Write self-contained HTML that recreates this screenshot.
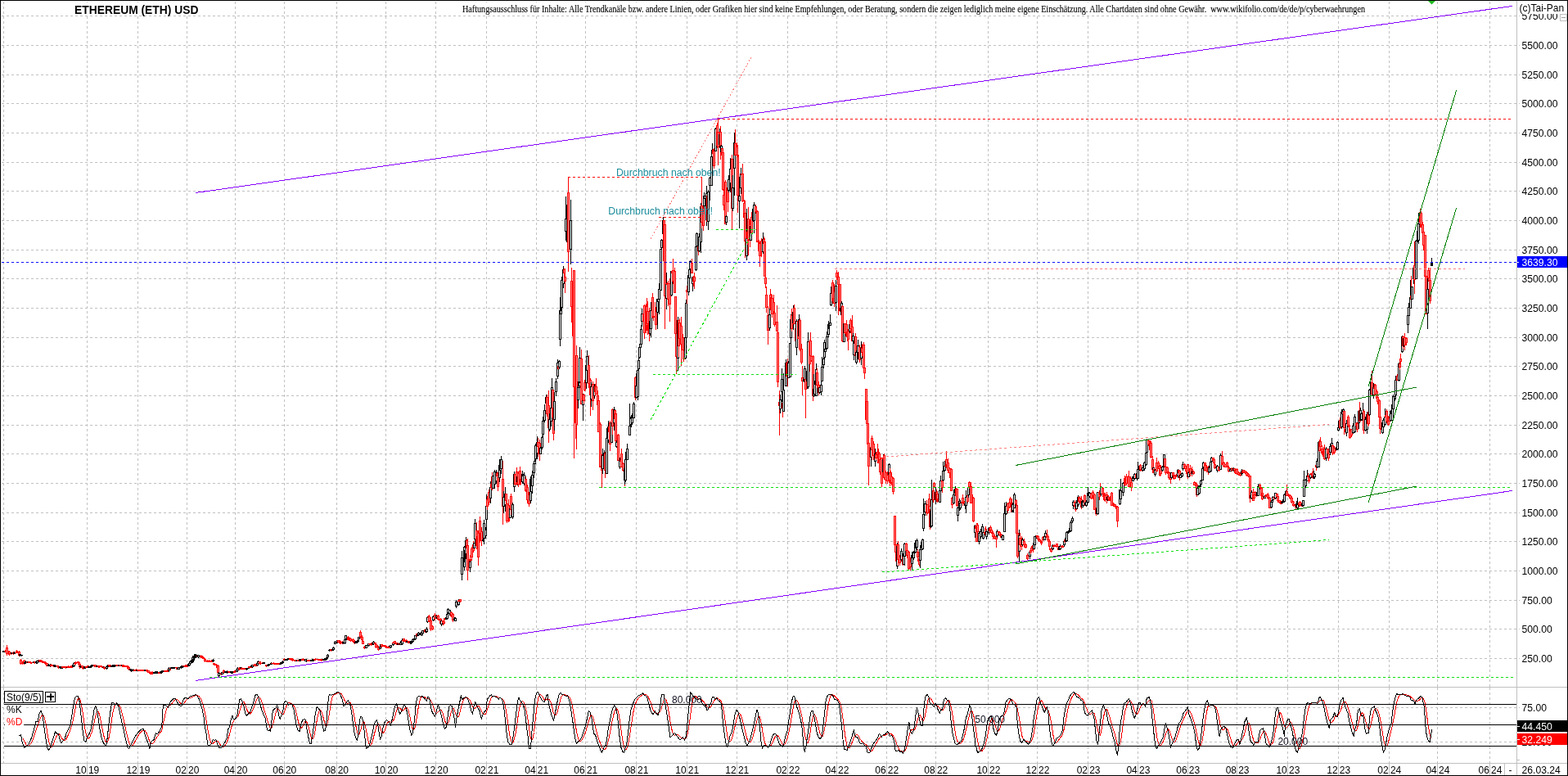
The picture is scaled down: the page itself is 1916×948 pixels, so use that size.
<!DOCTYPE html>
<html lang="de"><head><meta charset="utf-8"><title>ETHEREUM (ETH) USD</title>
<style>html,body{margin:0;padding:0;background:#fff;overflow:hidden}body{width:1916px;height:948px;position:relative}</style>
</head><body>
<svg width="1916" height="948" viewBox="0 0 1916 948" style="position:absolute;left:0;top:0;display:block" font-family="'Liberation Sans', sans-serif" font-size="12px">
<rect x="0" y="0" width="1916" height="948" fill="#fff"/>
<g shape-rendering="crispEdges" stroke="#c0c0c0" stroke-width="1" stroke-dasharray="3 3" fill="none">
<line x1="2" y1="19.5" x2="1857" y2="19.5"/>
<line x1="2" y1="55.5" x2="1857" y2="55.5"/>
<line x1="2" y1="91.5" x2="1857" y2="91.5"/>
<line x1="2" y1="126.5" x2="1857" y2="126.5"/>
<line x1="2" y1="162.5" x2="1857" y2="162.5"/>
<line x1="2" y1="198.5" x2="1857" y2="198.5"/>
<line x1="2" y1="233.5" x2="1857" y2="233.5"/>
<line x1="2" y1="269.5" x2="1857" y2="269.5"/>
<line x1="2" y1="305.5" x2="1857" y2="305.5"/>
<line x1="2" y1="340.5" x2="1857" y2="340.5"/>
<line x1="2" y1="376.5" x2="1857" y2="376.5"/>
<line x1="2" y1="412.5" x2="1857" y2="412.5"/>
<line x1="2" y1="447.5" x2="1857" y2="447.5"/>
<line x1="2" y1="483.5" x2="1857" y2="483.5"/>
<line x1="2" y1="519.5" x2="1857" y2="519.5"/>
<line x1="2" y1="554.5" x2="1857" y2="554.5"/>
<line x1="2" y1="590.5" x2="1857" y2="590.5"/>
<line x1="2" y1="626.5" x2="1857" y2="626.5"/>
<line x1="2" y1="661.5" x2="1857" y2="661.5"/>
<line x1="2" y1="697.5" x2="1857" y2="697.5"/>
<line x1="2" y1="733.5" x2="1857" y2="733.5"/>
<line x1="2" y1="768.5" x2="1857" y2="768.5"/>
<line x1="2" y1="804.5" x2="1857" y2="804.5"/>
<line x1="2" y1="864.5" x2="1857" y2="864.5"/>
<line x1="2" y1="906.5" x2="1857" y2="906.5"/>
<line x1="4.5" y1="2" x2="4.5" y2="839"/>
<line x1="4.5" y1="840" x2="4.5" y2="932"/>
<line x1="106.5" y1="2" x2="106.5" y2="839"/>
<line x1="106.5" y1="840" x2="106.5" y2="932"/>
<line x1="168.5" y1="2" x2="168.5" y2="839"/>
<line x1="168.5" y1="840" x2="168.5" y2="932"/>
<line x1="228.5" y1="2" x2="228.5" y2="839"/>
<line x1="228.5" y1="840" x2="228.5" y2="932"/>
<line x1="287.5" y1="2" x2="287.5" y2="839"/>
<line x1="287.5" y1="840" x2="287.5" y2="932"/>
<line x1="347.5" y1="2" x2="347.5" y2="839"/>
<line x1="347.5" y1="840" x2="347.5" y2="932"/>
<line x1="411.5" y1="2" x2="411.5" y2="839"/>
<line x1="411.5" y1="840" x2="411.5" y2="932"/>
<line x1="471.5" y1="2" x2="471.5" y2="839"/>
<line x1="471.5" y1="840" x2="471.5" y2="932"/>
<line x1="532.5" y1="2" x2="532.5" y2="839"/>
<line x1="532.5" y1="840" x2="532.5" y2="932"/>
<line x1="594.5" y1="2" x2="594.5" y2="839"/>
<line x1="594.5" y1="840" x2="594.5" y2="932"/>
<line x1="655.5" y1="2" x2="655.5" y2="839"/>
<line x1="655.5" y1="840" x2="655.5" y2="932"/>
<line x1="715.5" y1="2" x2="715.5" y2="839"/>
<line x1="715.5" y1="840" x2="715.5" y2="932"/>
<line x1="777.5" y1="2" x2="777.5" y2="839"/>
<line x1="777.5" y1="840" x2="777.5" y2="932"/>
<line x1="839.5" y1="2" x2="839.5" y2="839"/>
<line x1="839.5" y1="840" x2="839.5" y2="932"/>
<line x1="900.5" y1="2" x2="900.5" y2="839"/>
<line x1="900.5" y1="840" x2="900.5" y2="932"/>
<line x1="962.5" y1="2" x2="962.5" y2="839"/>
<line x1="962.5" y1="840" x2="962.5" y2="932"/>
<line x1="1022.5" y1="2" x2="1022.5" y2="839"/>
<line x1="1022.5" y1="840" x2="1022.5" y2="932"/>
<line x1="1083.5" y1="2" x2="1083.5" y2="839"/>
<line x1="1083.5" y1="840" x2="1083.5" y2="932"/>
<line x1="1143.5" y1="2" x2="1143.5" y2="839"/>
<line x1="1143.5" y1="840" x2="1143.5" y2="932"/>
<line x1="1207.5" y1="2" x2="1207.5" y2="839"/>
<line x1="1207.5" y1="840" x2="1207.5" y2="932"/>
<line x1="1267.5" y1="2" x2="1267.5" y2="839"/>
<line x1="1267.5" y1="840" x2="1267.5" y2="932"/>
<line x1="1329.5" y1="2" x2="1329.5" y2="839"/>
<line x1="1329.5" y1="840" x2="1329.5" y2="932"/>
<line x1="1390.5" y1="2" x2="1390.5" y2="839"/>
<line x1="1390.5" y1="840" x2="1390.5" y2="932"/>
<line x1="1451.5" y1="2" x2="1451.5" y2="839"/>
<line x1="1451.5" y1="840" x2="1451.5" y2="932"/>
<line x1="1511.5" y1="2" x2="1511.5" y2="839"/>
<line x1="1511.5" y1="840" x2="1511.5" y2="932"/>
<line x1="1573.5" y1="2" x2="1573.5" y2="839"/>
<line x1="1573.5" y1="840" x2="1573.5" y2="932"/>
<line x1="1635.5" y1="2" x2="1635.5" y2="839"/>
<line x1="1635.5" y1="840" x2="1635.5" y2="932"/>
<line x1="1697.5" y1="2" x2="1697.5" y2="839"/>
<line x1="1697.5" y1="840" x2="1697.5" y2="932"/>
<line x1="1756.5" y1="2" x2="1756.5" y2="839"/>
<line x1="1756.5" y1="840" x2="1756.5" y2="932"/>
<line x1="1820.5" y1="2" x2="1820.5" y2="839"/>
<line x1="1820.5" y1="840" x2="1820.5" y2="932"/>
</g>
<g shape-rendering="crispEdges">
<rect x="3" y="795" width="3" height="2" fill="#000"/>
<rect x="6" y="794" width="1" height="3" fill="#ff0000"/>
<rect x="5" y="795" width="3" height="1" fill="#ff0000"/>
<rect x="7" y="794" width="1" height="4" fill="#ff0000"/>
<rect x="6" y="795" width="3" height="1" fill="#ff0000"/>
<rect x="8" y="788" width="1" height="13" fill="#ff0000"/>
<rect x="7" y="791" width="3" height="8" fill="#ff0000"/>
<rect x="8" y="792" width="1" height="6" fill="#ff8888"/>
<rect x="10" y="795" width="1" height="5" fill="#ff0000"/>
<rect x="9" y="795" width="3" height="4" fill="#ff0000"/>
<rect x="10" y="796" width="1" height="2" fill="#ff8888"/>
<rect x="11" y="796" width="1" height="5" fill="#ff0000"/>
<rect x="10" y="796" width="3" height="3" fill="#ff0000"/>
<rect x="11" y="797" width="1" height="1" fill="#ff8888"/>
<rect x="13" y="797" width="1" height="3" fill="#ff0000"/>
<rect x="12" y="798" width="3" height="1" fill="#ff0000"/>
<rect x="13" y="797" width="3" height="2" fill="#000"/>
<rect x="16" y="796" width="1" height="4" fill="#ff0000"/>
<rect x="15" y="797" width="3" height="2" fill="#ff0000"/>
<rect x="17" y="796" width="1" height="3" fill="#000"/>
<rect x="16" y="797" width="3" height="2" fill="#000"/>
<rect x="19" y="796" width="1" height="2" fill="#ff0000"/>
<rect x="18" y="797" width="3" height="1" fill="#ff0000"/>
<rect x="20" y="794" width="1" height="3" fill="#ff0000"/>
<rect x="19" y="795" width="3" height="2" fill="#ff0000"/>
<rect x="21" y="795" width="1" height="3" fill="#ff0000"/>
<rect x="20" y="796" width="3" height="2" fill="#ff0000"/>
<rect x="23" y="795" width="1" height="7" fill="#ff0000"/>
<rect x="22" y="796" width="3" height="5" fill="#ff0000"/>
<rect x="23" y="797" width="1" height="3" fill="#ff8888"/>
<rect x="24" y="799" width="1" height="3" fill="#000"/>
<rect x="23" y="799" width="3" height="2" fill="#000"/>
<rect x="26" y="800" width="1" height="2" fill="#000"/>
<rect x="25" y="800" width="3" height="1" fill="#000"/>
<rect x="25" y="805" width="1" height="7" fill="#ff0000"/>
<rect x="24" y="806" width="3" height="5" fill="#ff0000"/>
<rect x="25" y="807" width="1" height="3" fill="#ff8888"/>
<rect x="27" y="808" width="1" height="4" fill="#ff0000"/>
<rect x="26" y="809" width="3" height="2" fill="#ff0000"/>
<rect x="29" y="806" width="1" height="6" fill="#ff0000"/>
<rect x="28" y="807" width="3" height="4" fill="#ff0000"/>
<rect x="29" y="808" width="1" height="2" fill="#ff8888"/>
<rect x="30" y="808" width="1" height="3" fill="#000"/>
<rect x="29" y="809" width="3" height="2" fill="#000"/>
<rect x="31" y="807" width="1" height="3" fill="#000"/>
<rect x="30" y="808" width="3" height="2" fill="#000"/>
<rect x="32" y="808" width="3" height="2" fill="#ff0000"/>
<rect x="33" y="808" width="3" height="2" fill="#000"/>
<rect x="34" y="808" width="3" height="2" fill="#ff0000"/>
<rect x="37" y="808" width="1" height="3" fill="#ff0000"/>
<rect x="36" y="809" width="3" height="1" fill="#ff0000"/>
<rect x="38" y="809" width="1" height="2" fill="#ff0000"/>
<rect x="37" y="809" width="3" height="1" fill="#ff0000"/>
<rect x="40" y="808" width="1" height="2" fill="#ff0000"/>
<rect x="39" y="809" width="3" height="1" fill="#ff0000"/>
<rect x="40" y="808" width="3" height="2" fill="#000"/>
<rect x="42" y="808" width="1" height="3" fill="#ff0000"/>
<rect x="41" y="808" width="3" height="2" fill="#ff0000"/>
<rect x="44" y="808" width="1" height="3" fill="#000"/>
<rect x="43" y="808" width="3" height="2" fill="#000"/>
<rect x="45" y="807" width="1" height="4" fill="#000"/>
<rect x="44" y="807" width="3" height="3" fill="#000"/>
<rect x="45" y="808" width="1" height="1" fill="#fff"/>
<rect x="47" y="806" width="1" height="3" fill="#000"/>
<rect x="46" y="806" width="3" height="2" fill="#000"/>
<rect x="48" y="806" width="1" height="3" fill="#ff0000"/>
<rect x="47" y="806" width="3" height="2" fill="#ff0000"/>
<rect x="50" y="806" width="1" height="3" fill="#ff0000"/>
<rect x="49" y="807" width="3" height="2" fill="#ff0000"/>
<rect x="50" y="807" width="3" height="2" fill="#ff0000"/>
<rect x="51" y="808" width="3" height="2" fill="#ff0000"/>
<rect x="53" y="808" width="3" height="2" fill="#ff0000"/>
<rect x="54" y="809" width="3" height="2" fill="#ff0000"/>
<rect x="56" y="809" width="1" height="3" fill="#ff0000"/>
<rect x="55" y="810" width="3" height="2" fill="#ff0000"/>
<rect x="56" y="810" width="3" height="4" fill="#ff0000"/>
<rect x="57" y="811" width="1" height="2" fill="#ff8888"/>
<rect x="59" y="811" width="1" height="3" fill="#000"/>
<rect x="58" y="812" width="3" height="2" fill="#000"/>
<rect x="61" y="811" width="1" height="4" fill="#000"/>
<rect x="60" y="812" width="3" height="2" fill="#000"/>
<rect x="62" y="811" width="1" height="3" fill="#ff0000"/>
<rect x="61" y="812" width="3" height="2" fill="#ff0000"/>
<rect x="62" y="813" width="3" height="1" fill="#ff0000"/>
<rect x="65" y="812" width="1" height="3" fill="#ff0000"/>
<rect x="64" y="812" width="3" height="2" fill="#ff0000"/>
<rect x="65" y="812" width="3" height="2" fill="#000"/>
<rect x="67" y="812" width="1" height="3" fill="#000"/>
<rect x="66" y="813" width="3" height="2" fill="#000"/>
<rect x="68" y="813" width="3" height="1" fill="#ff0000"/>
<rect x="71" y="813" width="1" height="4" fill="#ff0000"/>
<rect x="70" y="814" width="3" height="2" fill="#ff0000"/>
<rect x="72" y="814" width="1" height="2" fill="#ff0000"/>
<rect x="71" y="815" width="3" height="1" fill="#ff0000"/>
<rect x="73" y="814" width="1" height="3" fill="#000"/>
<rect x="72" y="814" width="3" height="2" fill="#000"/>
<rect x="75" y="814" width="1" height="3" fill="#000"/>
<rect x="74" y="815" width="3" height="2" fill="#000"/>
<rect x="75" y="814" width="3" height="2" fill="#ff0000"/>
<rect x="76" y="814" width="3" height="2" fill="#ff0000"/>
<rect x="78" y="814" width="3" height="2" fill="#ff0000"/>
<rect x="80" y="814" width="1" height="3" fill="#ff0000"/>
<rect x="79" y="814" width="3" height="2" fill="#ff0000"/>
<rect x="82" y="814" width="1" height="2" fill="#000"/>
<rect x="81" y="815" width="3" height="1" fill="#000"/>
<rect x="83" y="813" width="1" height="3" fill="#ff0000"/>
<rect x="82" y="814" width="3" height="2" fill="#ff0000"/>
<rect x="83" y="814" width="3" height="2" fill="#ff0000"/>
<rect x="86" y="813" width="1" height="3" fill="#ff0000"/>
<rect x="85" y="814" width="3" height="2" fill="#ff0000"/>
<rect x="87" y="813" width="1" height="3" fill="#ff0000"/>
<rect x="86" y="814" width="3" height="2" fill="#ff0000"/>
<rect x="88" y="812" width="3" height="3" fill="#000"/>
<rect x="89" y="813" width="1" height="1" fill="#fff"/>
<rect x="90" y="809" width="1" height="5" fill="#000"/>
<rect x="89" y="810" width="3" height="4" fill="#000"/>
<rect x="90" y="811" width="1" height="2" fill="#fff"/>
<rect x="91" y="809" width="1" height="3" fill="#ff0000"/>
<rect x="90" y="810" width="3" height="1" fill="#ff0000"/>
<rect x="92" y="808" width="1" height="4" fill="#ff0000"/>
<rect x="91" y="809" width="3" height="2" fill="#ff0000"/>
<rect x="94" y="808" width="3" height="2" fill="#ff0000"/>
<rect x="96" y="809" width="1" height="4" fill="#ff0000"/>
<rect x="95" y="809" width="3" height="3" fill="#ff0000"/>
<rect x="96" y="810" width="1" height="1" fill="#ff8888"/>
<rect x="97" y="810" width="1" height="7" fill="#ff0000"/>
<rect x="96" y="811" width="3" height="4" fill="#ff0000"/>
<rect x="97" y="812" width="1" height="2" fill="#ff8888"/>
<rect x="98" y="813" width="1" height="3" fill="#000"/>
<rect x="97" y="813" width="3" height="2" fill="#000"/>
<rect x="100" y="813" width="1" height="4" fill="#ff0000"/>
<rect x="99" y="813" width="3" height="3" fill="#ff0000"/>
<rect x="100" y="814" width="1" height="1" fill="#ff8888"/>
<rect x="101" y="815" width="1" height="3" fill="#ff0000"/>
<rect x="100" y="815" width="3" height="2" fill="#ff0000"/>
<rect x="103" y="815" width="1" height="2" fill="#000"/>
<rect x="102" y="816" width="3" height="1" fill="#000"/>
<rect x="103" y="814" width="1" height="3" fill="#000"/>
<rect x="102" y="814" width="3" height="2" fill="#000"/>
<rect x="104" y="814" width="3" height="2" fill="#ff0000"/>
<rect x="107" y="813" width="1" height="3" fill="#ff0000"/>
<rect x="106" y="813" width="3" height="2" fill="#ff0000"/>
<rect x="107" y="814" width="3" height="2" fill="#000"/>
<rect x="110" y="813" width="1" height="3" fill="#000"/>
<rect x="109" y="814" width="3" height="2" fill="#000"/>
<rect x="110" y="814" width="3" height="1" fill="#000"/>
<rect x="112" y="812" width="1" height="3" fill="#000"/>
<rect x="111" y="812" width="3" height="2" fill="#000"/>
<rect x="114" y="812" width="1" height="2" fill="#000"/>
<rect x="113" y="812" width="3" height="1" fill="#000"/>
<rect x="115" y="812" width="1" height="3" fill="#ff0000"/>
<rect x="114" y="812" width="3" height="2" fill="#ff0000"/>
<rect x="115" y="812" width="3" height="3" fill="#ff0000"/>
<rect x="116" y="813" width="1" height="1" fill="#ff8888"/>
<rect x="117" y="813" width="3" height="2" fill="#000"/>
<rect x="120" y="813" width="1" height="3" fill="#ff0000"/>
<rect x="119" y="813" width="3" height="2" fill="#ff0000"/>
<rect x="121" y="813" width="1" height="3" fill="#ff0000"/>
<rect x="120" y="814" width="3" height="1" fill="#ff0000"/>
<rect x="121" y="813" width="3" height="2" fill="#ff0000"/>
<rect x="124" y="813" width="1" height="3" fill="#ff0000"/>
<rect x="123" y="814" width="3" height="1" fill="#ff0000"/>
<rect x="124" y="814" width="3" height="2" fill="#ff0000"/>
<rect x="126" y="814" width="1" height="2" fill="#000"/>
<rect x="125" y="815" width="3" height="1" fill="#000"/>
<rect x="127" y="814" width="1" height="4" fill="#ff0000"/>
<rect x="126" y="815" width="3" height="2" fill="#ff0000"/>
<rect x="130" y="813" width="1" height="5" fill="#000"/>
<rect x="129" y="814" width="3" height="3" fill="#000"/>
<rect x="130" y="815" width="1" height="1" fill="#fff"/>
<rect x="131" y="812" width="1" height="3" fill="#000"/>
<rect x="130" y="813" width="3" height="2" fill="#000"/>
<rect x="132" y="812" width="1" height="3" fill="#000"/>
<rect x="131" y="812" width="3" height="2" fill="#000"/>
<rect x="133" y="812" width="1" height="3" fill="#ff0000"/>
<rect x="132" y="812" width="3" height="2" fill="#ff0000"/>
<rect x="135" y="812" width="1" height="3" fill="#ff0000"/>
<rect x="134" y="813" width="3" height="2" fill="#ff0000"/>
<rect x="135" y="813" width="3" height="2" fill="#000"/>
<rect x="137" y="812" width="1" height="3" fill="#000"/>
<rect x="136" y="813" width="3" height="2" fill="#000"/>
<rect x="139" y="812" width="1" height="3" fill="#000"/>
<rect x="138" y="812" width="3" height="2" fill="#000"/>
<rect x="140" y="812" width="1" height="3" fill="#000"/>
<rect x="139" y="812" width="3" height="2" fill="#000"/>
<rect x="142" y="812" width="1" height="2" fill="#ff0000"/>
<rect x="141" y="812" width="3" height="1" fill="#ff0000"/>
<rect x="143" y="812" width="3" height="2" fill="#ff0000"/>
<rect x="144" y="812" width="3" height="2" fill="#000"/>
<rect x="145" y="812" width="3" height="1" fill="#ff0000"/>
<rect x="146" y="812" width="3" height="2" fill="#ff0000"/>
<rect x="148" y="812" width="3" height="2" fill="#000"/>
<rect x="149" y="812" width="3" height="3" fill="#ff0000"/>
<rect x="150" y="813" width="1" height="1" fill="#ff8888"/>
<rect x="151" y="812" width="1" height="3" fill="#ff0000"/>
<rect x="150" y="813" width="3" height="1" fill="#ff0000"/>
<rect x="152" y="813" width="3" height="2" fill="#ff0000"/>
<rect x="155" y="813" width="1" height="3" fill="#ff0000"/>
<rect x="154" y="813" width="3" height="2" fill="#ff0000"/>
<rect x="155" y="814" width="3" height="3" fill="#ff0000"/>
<rect x="156" y="815" width="1" height="1" fill="#ff8888"/>
<rect x="157" y="814" width="1" height="5" fill="#ff0000"/>
<rect x="156" y="815" width="3" height="3" fill="#ff0000"/>
<rect x="157" y="816" width="1" height="1" fill="#ff8888"/>
<rect x="158" y="817" width="3" height="2" fill="#000"/>
<rect x="160" y="817" width="1" height="4" fill="#000"/>
<rect x="159" y="818" width="3" height="2" fill="#000"/>
<rect x="160" y="818" width="3" height="1" fill="#000"/>
<rect x="162" y="817" width="1" height="3" fill="#000"/>
<rect x="161" y="818" width="3" height="2" fill="#000"/>
<rect x="163" y="818" width="3" height="2" fill="#ff0000"/>
<rect x="166" y="817" width="1" height="3" fill="#ff0000"/>
<rect x="165" y="818" width="3" height="2" fill="#ff0000"/>
<rect x="166" y="818" width="3" height="2" fill="#000"/>
<rect x="168" y="818" width="1" height="2" fill="#ff0000"/>
<rect x="167" y="818" width="3" height="1" fill="#ff0000"/>
<rect x="169" y="818" width="3" height="2" fill="#ff0000"/>
<rect x="170" y="818" width="3" height="2" fill="#ff0000"/>
<rect x="172" y="818" width="3" height="2" fill="#ff0000"/>
<rect x="173" y="819" width="3" height="1" fill="#ff0000"/>
<rect x="174" y="818" width="3" height="2" fill="#ff0000"/>
<rect x="176" y="818" width="3" height="2" fill="#000"/>
<rect x="179" y="818" width="1" height="3" fill="#ff0000"/>
<rect x="178" y="818" width="3" height="2" fill="#ff0000"/>
<rect x="179" y="819" width="3" height="2" fill="#ff0000"/>
<rect x="180" y="819" width="3" height="3" fill="#ff0000"/>
<rect x="181" y="820" width="1" height="1" fill="#ff8888"/>
<rect x="182" y="821" width="1" height="2" fill="#ff0000"/>
<rect x="181" y="821" width="3" height="1" fill="#ff0000"/>
<rect x="184" y="820" width="1" height="4" fill="#ff0000"/>
<rect x="183" y="821" width="3" height="3" fill="#ff0000"/>
<rect x="184" y="822" width="1" height="1" fill="#ff8888"/>
<rect x="184" y="821" width="3" height="3" fill="#ff0000"/>
<rect x="185" y="822" width="1" height="1" fill="#ff8888"/>
<rect x="186" y="820" width="1" height="4" fill="#ff0000"/>
<rect x="185" y="821" width="3" height="2" fill="#ff0000"/>
<rect x="187" y="821" width="3" height="2" fill="#000"/>
<rect x="189" y="820" width="3" height="3" fill="#000"/>
<rect x="190" y="821" width="1" height="1" fill="#fff"/>
<rect x="190" y="820" width="3" height="3" fill="#000"/>
<rect x="191" y="821" width="1" height="1" fill="#fff"/>
<rect x="191" y="821" width="3" height="2" fill="#000"/>
<rect x="193" y="821" width="3" height="2" fill="#ff0000"/>
<rect x="195" y="820" width="1" height="3" fill="#ff0000"/>
<rect x="194" y="821" width="3" height="2" fill="#ff0000"/>
<rect x="196" y="820" width="1" height="3" fill="#000"/>
<rect x="195" y="820" width="3" height="2" fill="#000"/>
<rect x="197" y="819" width="1" height="4" fill="#000"/>
<rect x="196" y="820" width="3" height="2" fill="#000"/>
<rect x="198" y="819" width="3" height="2" fill="#000"/>
<rect x="200" y="819" width="3" height="2" fill="#ff0000"/>
<rect x="201" y="820" width="3" height="1" fill="#ff0000"/>
<rect x="202" y="819" width="3" height="2" fill="#ff0000"/>
<rect x="204" y="818" width="1" height="3" fill="#ff0000"/>
<rect x="203" y="819" width="3" height="2" fill="#ff0000"/>
<rect x="206" y="815" width="1" height="6" fill="#000"/>
<rect x="205" y="816" width="3" height="3" fill="#000"/>
<rect x="206" y="817" width="1" height="1" fill="#fff"/>
<rect x="208" y="815" width="1" height="4" fill="#ff0000"/>
<rect x="207" y="816" width="3" height="1" fill="#ff0000"/>
<rect x="208" y="815" width="3" height="2" fill="#000"/>
<rect x="209" y="815" width="3" height="2" fill="#000"/>
<rect x="211" y="816" width="3" height="1" fill="#000"/>
<rect x="211" y="815" width="3" height="2" fill="#000"/>
<rect x="215" y="815" width="1" height="3" fill="#ff0000"/>
<rect x="214" y="815" width="3" height="1" fill="#ff0000"/>
<rect x="216" y="815" width="1" height="3" fill="#ff0000"/>
<rect x="215" y="816" width="3" height="2" fill="#ff0000"/>
<rect x="216" y="816" width="3" height="2" fill="#000"/>
<rect x="217" y="815" width="3" height="3" fill="#000"/>
<rect x="218" y="816" width="1" height="1" fill="#fff"/>
<rect x="221" y="813" width="1" height="4" fill="#000"/>
<rect x="220" y="814" width="3" height="2" fill="#000"/>
<rect x="222" y="813" width="1" height="2" fill="#000"/>
<rect x="221" y="814" width="3" height="1" fill="#000"/>
<rect x="223" y="813" width="1" height="3" fill="#000"/>
<rect x="222" y="813" width="3" height="2" fill="#000"/>
<rect x="223" y="813" width="3" height="1" fill="#ff0000"/>
<rect x="226" y="812" width="1" height="3" fill="#ff0000"/>
<rect x="225" y="813" width="3" height="2" fill="#ff0000"/>
<rect x="227" y="812" width="1" height="3" fill="#ff0000"/>
<rect x="226" y="813" width="3" height="2" fill="#ff0000"/>
<rect x="229" y="811" width="1" height="4" fill="#ff0000"/>
<rect x="228" y="812" width="3" height="2" fill="#ff0000"/>
<rect x="229" y="811" width="3" height="3" fill="#000"/>
<rect x="230" y="812" width="1" height="1" fill="#fff"/>
<rect x="231" y="809" width="1" height="5" fill="#000"/>
<rect x="230" y="810" width="3" height="3" fill="#000"/>
<rect x="231" y="811" width="1" height="1" fill="#fff"/>
<rect x="233" y="806" width="1" height="5" fill="#ff0000"/>
<rect x="232" y="808" width="3" height="2" fill="#ff0000"/>
<rect x="234" y="804" width="1" height="6" fill="#000"/>
<rect x="233" y="806" width="3" height="4" fill="#000"/>
<rect x="234" y="807" width="1" height="2" fill="#fff"/>
<rect x="236" y="801" width="1" height="8" fill="#000"/>
<rect x="235" y="802" width="3" height="5" fill="#000"/>
<rect x="236" y="803" width="1" height="3" fill="#fff"/>
<rect x="237" y="801" width="1" height="2" fill="#000"/>
<rect x="236" y="802" width="3" height="1" fill="#000"/>
<rect x="238" y="799" width="1" height="5" fill="#000"/>
<rect x="237" y="799" width="3" height="4" fill="#000"/>
<rect x="238" y="800" width="1" height="2" fill="#fff"/>
<rect x="232" y="807" width="1" height="5" fill="#000"/>
<rect x="231" y="808" width="3" height="3" fill="#000"/>
<rect x="232" y="809" width="1" height="1" fill="#fff"/>
<rect x="234" y="806" width="1" height="4" fill="#000"/>
<rect x="233" y="807" width="3" height="2" fill="#000"/>
<rect x="235" y="801" width="1" height="7" fill="#000"/>
<rect x="234" y="803" width="3" height="3" fill="#000"/>
<rect x="235" y="804" width="1" height="1" fill="#fff"/>
<rect x="237" y="801" width="1" height="3" fill="#000"/>
<rect x="236" y="803" width="3" height="1" fill="#000"/>
<rect x="239" y="799" width="1" height="5" fill="#000"/>
<rect x="238" y="800" width="3" height="3" fill="#000"/>
<rect x="239" y="801" width="1" height="1" fill="#fff"/>
<rect x="239" y="800" width="3" height="2" fill="#000"/>
<rect x="241" y="800" width="1" height="3" fill="#ff0000"/>
<rect x="240" y="801" width="3" height="1" fill="#ff0000"/>
<rect x="242" y="800" width="1" height="4" fill="#000"/>
<rect x="241" y="800" width="3" height="3" fill="#000"/>
<rect x="242" y="801" width="1" height="1" fill="#fff"/>
<rect x="245" y="800" width="1" height="4" fill="#ff0000"/>
<rect x="244" y="801" width="3" height="2" fill="#ff0000"/>
<rect x="244" y="802" width="3" height="1" fill="#ff0000"/>
<rect x="247" y="801" width="1" height="4" fill="#ff0000"/>
<rect x="246" y="802" width="3" height="2" fill="#ff0000"/>
<rect x="247" y="803" width="3" height="2" fill="#ff0000"/>
<rect x="250" y="804" width="1" height="5" fill="#ff0000"/>
<rect x="249" y="805" width="3" height="3" fill="#ff0000"/>
<rect x="250" y="806" width="1" height="1" fill="#ff8888"/>
<rect x="250" y="807" width="3" height="1" fill="#ff0000"/>
<rect x="253" y="806" width="1" height="3" fill="#ff0000"/>
<rect x="252" y="807" width="3" height="2" fill="#ff0000"/>
<rect x="253" y="807" width="3" height="2" fill="#ff0000"/>
<rect x="255" y="806" width="1" height="3" fill="#ff0000"/>
<rect x="254" y="807" width="3" height="2" fill="#ff0000"/>
<rect x="257" y="807" width="1" height="2" fill="#ff0000"/>
<rect x="256" y="808" width="3" height="1" fill="#ff0000"/>
<rect x="258" y="806" width="1" height="3" fill="#ff0000"/>
<rect x="257" y="807" width="3" height="2" fill="#ff0000"/>
<rect x="260" y="805" width="1" height="4" fill="#000"/>
<rect x="259" y="806" width="3" height="2" fill="#000"/>
<rect x="261" y="810" width="1" height="3" fill="#ff0000"/>
<rect x="260" y="810" width="3" height="2" fill="#ff0000"/>
<rect x="261" y="811" width="3" height="2" fill="#ff0000"/>
<rect x="262" y="811" width="3" height="2" fill="#ff0000"/>
<rect x="264" y="812" width="3" height="4" fill="#ff0000"/>
<rect x="265" y="813" width="1" height="2" fill="#ff8888"/>
<rect x="266" y="812" width="1" height="11" fill="#ff0000"/>
<rect x="265" y="813" width="3" height="9" fill="#ff0000"/>
<rect x="266" y="814" width="1" height="7" fill="#ff8888"/>
<rect x="267" y="821" width="1" height="6" fill="#000"/>
<rect x="266" y="822" width="3" height="4" fill="#000"/>
<rect x="267" y="823" width="1" height="2" fill="#fff"/>
<rect x="270" y="822" width="1" height="3" fill="#ff0000"/>
<rect x="269" y="822" width="3" height="2" fill="#ff0000"/>
<rect x="270" y="821" width="3" height="3" fill="#000"/>
<rect x="271" y="822" width="1" height="1" fill="#fff"/>
<rect x="272" y="820" width="1" height="4" fill="#000"/>
<rect x="271" y="821" width="3" height="1" fill="#000"/>
<rect x="273" y="818" width="1" height="5" fill="#ff0000"/>
<rect x="272" y="819" width="3" height="3" fill="#ff0000"/>
<rect x="273" y="820" width="1" height="1" fill="#ff8888"/>
<rect x="274" y="820" width="3" height="2" fill="#000"/>
<rect x="275" y="820" width="3" height="2" fill="#000"/>
<rect x="277" y="819" width="1" height="4" fill="#000"/>
<rect x="276" y="820" width="3" height="2" fill="#000"/>
<rect x="279" y="820" width="1" height="2" fill="#ff0000"/>
<rect x="278" y="820" width="3" height="1" fill="#ff0000"/>
<rect x="279" y="820" width="3" height="2" fill="#ff0000"/>
<rect x="281" y="820" width="3" height="2" fill="#000"/>
<rect x="283" y="820" width="1" height="3" fill="#000"/>
<rect x="282" y="821" width="3" height="2" fill="#000"/>
<rect x="284" y="820" width="3" height="2" fill="#000"/>
<rect x="285" y="820" width="3" height="2" fill="#ff0000"/>
<rect x="287" y="819" width="1" height="3" fill="#ff0000"/>
<rect x="286" y="819" width="3" height="2" fill="#ff0000"/>
<rect x="289" y="817" width="1" height="4" fill="#000"/>
<rect x="288" y="818" width="3" height="3" fill="#000"/>
<rect x="289" y="819" width="1" height="1" fill="#fff"/>
<rect x="290" y="815" width="1" height="5" fill="#000"/>
<rect x="289" y="816" width="3" height="3" fill="#000"/>
<rect x="290" y="817" width="1" height="1" fill="#fff"/>
<rect x="292" y="816" width="1" height="3" fill="#ff0000"/>
<rect x="291" y="816" width="3" height="2" fill="#ff0000"/>
<rect x="293" y="815" width="1" height="3" fill="#ff0000"/>
<rect x="292" y="815" width="3" height="2" fill="#ff0000"/>
<rect x="293" y="815" width="3" height="2" fill="#000"/>
<rect x="295" y="815" width="1" height="3" fill="#ff0000"/>
<rect x="294" y="816" width="3" height="2" fill="#ff0000"/>
<rect x="296" y="816" width="3" height="2" fill="#ff0000"/>
<rect x="297" y="816" width="3" height="2" fill="#ff0000"/>
<rect x="299" y="817" width="3" height="1" fill="#ff0000"/>
<rect x="301" y="816" width="1" height="3" fill="#000"/>
<rect x="300" y="816" width="3" height="2" fill="#000"/>
<rect x="302" y="816" width="3" height="1" fill="#000"/>
<rect x="303" y="814" width="3" height="2" fill="#ff0000"/>
<rect x="306" y="813" width="1" height="3" fill="#ff0000"/>
<rect x="305" y="814" width="3" height="2" fill="#ff0000"/>
<rect x="306" y="813" width="3" height="2" fill="#000"/>
<rect x="308" y="812" width="1" height="4" fill="#000"/>
<rect x="307" y="812" width="3" height="3" fill="#000"/>
<rect x="308" y="813" width="1" height="1" fill="#fff"/>
<rect x="310" y="812" width="1" height="2" fill="#ff0000"/>
<rect x="309" y="812" width="3" height="1" fill="#ff0000"/>
<rect x="310" y="811" width="3" height="3" fill="#ff0000"/>
<rect x="311" y="812" width="1" height="1" fill="#ff8888"/>
<rect x="313" y="811" width="1" height="3" fill="#ff0000"/>
<rect x="312" y="812" width="3" height="2" fill="#ff0000"/>
<rect x="314" y="809" width="1" height="4" fill="#000"/>
<rect x="313" y="810" width="3" height="3" fill="#000"/>
<rect x="314" y="811" width="1" height="1" fill="#fff"/>
<rect x="315" y="807" width="1" height="6" fill="#000"/>
<rect x="314" y="808" width="3" height="3" fill="#000"/>
<rect x="315" y="809" width="1" height="1" fill="#fff"/>
<rect x="317" y="808" width="1" height="4" fill="#ff0000"/>
<rect x="316" y="808" width="3" height="3" fill="#ff0000"/>
<rect x="317" y="809" width="1" height="1" fill="#ff8888"/>
<rect x="318" y="809" width="1" height="3" fill="#ff0000"/>
<rect x="317" y="810" width="3" height="1" fill="#ff0000"/>
<rect x="320" y="809" width="1" height="2" fill="#ff0000"/>
<rect x="319" y="810" width="3" height="1" fill="#ff0000"/>
<rect x="320" y="810" width="3" height="1" fill="#000"/>
<rect x="321" y="809" width="3" height="2" fill="#000"/>
<rect x="325" y="812" width="1" height="3" fill="#ff0000"/>
<rect x="324" y="812" width="3" height="2" fill="#ff0000"/>
<rect x="326" y="812" width="3" height="2" fill="#000"/>
<rect x="328" y="811" width="1" height="3" fill="#000"/>
<rect x="327" y="811" width="3" height="2" fill="#000"/>
<rect x="329" y="811" width="1" height="2" fill="#000"/>
<rect x="328" y="811" width="3" height="1" fill="#000"/>
<rect x="331" y="809" width="1" height="3" fill="#000"/>
<rect x="330" y="810" width="3" height="2" fill="#000"/>
<rect x="331" y="810" width="3" height="1" fill="#ff0000"/>
<rect x="334" y="809" width="1" height="3" fill="#ff0000"/>
<rect x="333" y="810" width="3" height="1" fill="#ff0000"/>
<rect x="334" y="810" width="3" height="2" fill="#ff0000"/>
<rect x="335" y="810" width="3" height="2" fill="#ff0000"/>
<rect x="336" y="810" width="3" height="2" fill="#ff0000"/>
<rect x="338" y="811" width="3" height="1" fill="#ff0000"/>
<rect x="339" y="810" width="3" height="2" fill="#ff0000"/>
<rect x="342" y="810" width="1" height="2" fill="#000"/>
<rect x="341" y="811" width="3" height="1" fill="#000"/>
<rect x="343" y="809" width="1" height="3" fill="#000"/>
<rect x="342" y="809" width="3" height="2" fill="#000"/>
<rect x="345" y="807" width="1" height="4" fill="#000"/>
<rect x="344" y="808" width="3" height="2" fill="#000"/>
<rect x="347" y="804" width="1" height="3" fill="#ff0000"/>
<rect x="346" y="805" width="3" height="2" fill="#ff0000"/>
<rect x="347" y="806" width="3" height="1" fill="#000"/>
<rect x="348" y="805" width="3" height="2" fill="#000"/>
<rect x="349" y="805" width="3" height="2" fill="#000"/>
<rect x="351" y="804" width="3" height="2" fill="#000"/>
<rect x="353" y="804" width="3" height="2" fill="#ff0000"/>
<rect x="355" y="804" width="1" height="3" fill="#ff0000"/>
<rect x="354" y="804" width="3" height="2" fill="#ff0000"/>
<rect x="355" y="804" width="3" height="3" fill="#ff0000"/>
<rect x="356" y="805" width="1" height="1" fill="#ff8888"/>
<rect x="357" y="804" width="1" height="4" fill="#ff0000"/>
<rect x="356" y="805" width="3" height="2" fill="#ff0000"/>
<rect x="358" y="806" width="3" height="1" fill="#ff0000"/>
<rect x="359" y="806" width="3" height="2" fill="#ff0000"/>
<rect x="362" y="806" width="1" height="2" fill="#000"/>
<rect x="361" y="807" width="3" height="1" fill="#000"/>
<rect x="363" y="806" width="3" height="2" fill="#ff0000"/>
<rect x="363" y="807" width="3" height="1" fill="#ff0000"/>
<rect x="365" y="805" width="3" height="3" fill="#000"/>
<rect x="366" y="806" width="1" height="1" fill="#fff"/>
<rect x="367" y="805" width="1" height="3" fill="#000"/>
<rect x="366" y="805" width="3" height="2" fill="#000"/>
<rect x="368" y="805" width="3" height="2" fill="#ff0000"/>
<rect x="370" y="804" width="1" height="3" fill="#ff0000"/>
<rect x="369" y="805" width="3" height="2" fill="#ff0000"/>
<rect x="370" y="805" width="3" height="2" fill="#ff0000"/>
<rect x="372" y="805" width="3" height="3" fill="#000"/>
<rect x="373" y="806" width="1" height="1" fill="#fff"/>
<rect x="374" y="806" width="1" height="3" fill="#000"/>
<rect x="373" y="807" width="3" height="1" fill="#000"/>
<rect x="375" y="806" width="3" height="2" fill="#ff0000"/>
<rect x="377" y="806" width="1" height="2" fill="#ff0000"/>
<rect x="376" y="807" width="3" height="1" fill="#ff0000"/>
<rect x="378" y="806" width="1" height="2" fill="#ff0000"/>
<rect x="377" y="807" width="3" height="1" fill="#ff0000"/>
<rect x="379" y="806" width="3" height="2" fill="#000"/>
<rect x="381" y="805" width="1" height="3" fill="#000"/>
<rect x="380" y="806" width="3" height="2" fill="#000"/>
<rect x="383" y="805" width="1" height="3" fill="#000"/>
<rect x="382" y="805" width="3" height="2" fill="#000"/>
<rect x="384" y="805" width="1" height="2" fill="#ff0000"/>
<rect x="383" y="805" width="3" height="1" fill="#ff0000"/>
<rect x="385" y="804" width="1" height="3" fill="#ff0000"/>
<rect x="384" y="805" width="3" height="1" fill="#ff0000"/>
<rect x="386" y="805" width="3" height="1" fill="#ff0000"/>
<rect x="388" y="805" width="3" height="2" fill="#ff0000"/>
<rect x="390" y="805" width="1" height="2" fill="#ff0000"/>
<rect x="389" y="806" width="3" height="1" fill="#ff0000"/>
<rect x="390" y="805" width="3" height="2" fill="#ff0000"/>
<rect x="392" y="805" width="1" height="3" fill="#ff0000"/>
<rect x="391" y="805" width="3" height="2" fill="#ff0000"/>
<rect x="393" y="806" width="3" height="1" fill="#ff0000"/>
<rect x="394" y="805" width="3" height="2" fill="#000"/>
<rect x="396" y="804" width="1" height="3" fill="#000"/>
<rect x="395" y="805" width="3" height="2" fill="#000"/>
<rect x="398" y="803" width="1" height="4" fill="#000"/>
<rect x="397" y="804" width="3" height="2" fill="#000"/>
<rect x="399" y="802" width="1" height="3" fill="#000"/>
<rect x="398" y="803" width="3" height="2" fill="#000"/>
<rect x="400" y="799" width="1" height="6" fill="#000"/>
<rect x="399" y="800" width="3" height="3" fill="#000"/>
<rect x="400" y="801" width="1" height="1" fill="#fff"/>
<rect x="402" y="793" width="1" height="3" fill="#000"/>
<rect x="401" y="794" width="3" height="1" fill="#000"/>
<rect x="404" y="794" width="1" height="2" fill="#ff0000"/>
<rect x="403" y="794" width="3" height="1" fill="#ff0000"/>
<rect x="404" y="793" width="1" height="3" fill="#ff0000"/>
<rect x="403" y="793" width="3" height="2" fill="#ff0000"/>
<rect x="405" y="793" width="3" height="2" fill="#000"/>
<rect x="407" y="790" width="1" height="5" fill="#000"/>
<rect x="406" y="791" width="3" height="3" fill="#000"/>
<rect x="407" y="792" width="1" height="1" fill="#fff"/>
<rect x="409" y="783" width="1" height="4" fill="#000"/>
<rect x="408" y="784" width="3" height="3" fill="#000"/>
<rect x="409" y="785" width="1" height="1" fill="#fff"/>
<rect x="411" y="784" width="1" height="2" fill="#000"/>
<rect x="410" y="784" width="3" height="1" fill="#000"/>
<rect x="412" y="782" width="1" height="4" fill="#000"/>
<rect x="411" y="782" width="3" height="3" fill="#000"/>
<rect x="412" y="783" width="1" height="1" fill="#fff"/>
<rect x="412" y="782" width="3" height="3" fill="#ff0000"/>
<rect x="413" y="783" width="1" height="1" fill="#ff8888"/>
<rect x="415" y="782" width="1" height="5" fill="#ff0000"/>
<rect x="414" y="783" width="3" height="3" fill="#ff0000"/>
<rect x="415" y="784" width="1" height="1" fill="#ff8888"/>
<rect x="416" y="783" width="1" height="4" fill="#ff0000"/>
<rect x="415" y="784" width="3" height="2" fill="#ff0000"/>
<rect x="418" y="783" width="1" height="4" fill="#ff0000"/>
<rect x="417" y="784" width="3" height="2" fill="#ff0000"/>
<rect x="419" y="784" width="1" height="3" fill="#000"/>
<rect x="418" y="784" width="3" height="2" fill="#000"/>
<rect x="421" y="780" width="1" height="7" fill="#000"/>
<rect x="420" y="781" width="3" height="5" fill="#000"/>
<rect x="421" y="782" width="1" height="3" fill="#fff"/>
<rect x="422" y="781" width="1" height="2" fill="#000"/>
<rect x="421" y="781" width="3" height="1" fill="#000"/>
<rect x="421" y="776" width="3" height="5" fill="#000"/>
<rect x="422" y="777" width="1" height="3" fill="#fff"/>
<rect x="425" y="777" width="1" height="5" fill="#ff0000"/>
<rect x="424" y="778" width="3" height="4" fill="#ff0000"/>
<rect x="425" y="779" width="1" height="2" fill="#ff8888"/>
<rect x="426" y="778" width="1" height="5" fill="#ff0000"/>
<rect x="425" y="779" width="3" height="3" fill="#ff0000"/>
<rect x="426" y="780" width="1" height="1" fill="#ff8888"/>
<rect x="426" y="779" width="3" height="2" fill="#ff0000"/>
<rect x="428" y="779" width="1" height="5" fill="#ff0000"/>
<rect x="427" y="780" width="3" height="3" fill="#ff0000"/>
<rect x="428" y="781" width="1" height="1" fill="#ff8888"/>
<rect x="431" y="780" width="1" height="5" fill="#ff0000"/>
<rect x="430" y="781" width="3" height="3" fill="#ff0000"/>
<rect x="431" y="782" width="1" height="1" fill="#ff8888"/>
<rect x="432" y="782" width="1" height="3" fill="#ff0000"/>
<rect x="431" y="783" width="3" height="1" fill="#ff0000"/>
<rect x="433" y="782" width="1" height="5" fill="#ff0000"/>
<rect x="432" y="783" width="3" height="3" fill="#ff0000"/>
<rect x="433" y="784" width="1" height="1" fill="#ff8888"/>
<rect x="434" y="783" width="1" height="3" fill="#000"/>
<rect x="433" y="784" width="3" height="2" fill="#000"/>
<rect x="436" y="783" width="1" height="3" fill="#000"/>
<rect x="435" y="783" width="3" height="2" fill="#000"/>
<rect x="437" y="781" width="1" height="3" fill="#000"/>
<rect x="436" y="782" width="3" height="2" fill="#000"/>
<rect x="437" y="778" width="3" height="3" fill="#000"/>
<rect x="438" y="779" width="1" height="1" fill="#fff"/>
<rect x="440" y="770" width="1" height="10" fill="#ff0000"/>
<rect x="439" y="772" width="3" height="6" fill="#ff0000"/>
<rect x="440" y="773" width="1" height="4" fill="#ff8888"/>
<rect x="442" y="776" width="1" height="9" fill="#ff0000"/>
<rect x="441" y="778" width="3" height="4" fill="#ff0000"/>
<rect x="442" y="779" width="1" height="2" fill="#ff8888"/>
<rect x="443" y="781" width="1" height="6" fill="#ff0000"/>
<rect x="442" y="783" width="3" height="4" fill="#ff0000"/>
<rect x="443" y="784" width="1" height="2" fill="#ff8888"/>
<rect x="445" y="789" width="1" height="4" fill="#ff0000"/>
<rect x="444" y="790" width="3" height="2" fill="#ff0000"/>
<rect x="446" y="788" width="3" height="4" fill="#000"/>
<rect x="447" y="789" width="1" height="2" fill="#fff"/>
<rect x="448" y="788" width="1" height="2" fill="#000"/>
<rect x="447" y="788" width="3" height="1" fill="#000"/>
<rect x="450" y="786" width="1" height="4" fill="#000"/>
<rect x="449" y="786" width="3" height="3" fill="#000"/>
<rect x="450" y="787" width="1" height="1" fill="#fff"/>
<rect x="451" y="786" width="1" height="2" fill="#ff0000"/>
<rect x="450" y="786" width="3" height="1" fill="#ff0000"/>
<rect x="453" y="785" width="1" height="4" fill="#ff0000"/>
<rect x="452" y="786" width="3" height="2" fill="#ff0000"/>
<rect x="454" y="785" width="1" height="3" fill="#ff0000"/>
<rect x="453" y="786" width="3" height="2" fill="#ff0000"/>
<rect x="455" y="786" width="1" height="2" fill="#000"/>
<rect x="454" y="786" width="3" height="1" fill="#000"/>
<rect x="456" y="783" width="1" height="5" fill="#000"/>
<rect x="455" y="784" width="3" height="3" fill="#000"/>
<rect x="456" y="785" width="1" height="1" fill="#fff"/>
<rect x="458" y="785" width="1" height="3" fill="#ff0000"/>
<rect x="457" y="785" width="3" height="2" fill="#ff0000"/>
<rect x="459" y="786" width="1" height="6" fill="#ff0000"/>
<rect x="458" y="787" width="3" height="4" fill="#ff0000"/>
<rect x="459" y="788" width="1" height="2" fill="#ff8888"/>
<rect x="461" y="788" width="1" height="4" fill="#ff0000"/>
<rect x="460" y="790" width="3" height="1" fill="#ff0000"/>
<rect x="462" y="789" width="1" height="6" fill="#ff0000"/>
<rect x="461" y="790" width="3" height="4" fill="#ff0000"/>
<rect x="462" y="791" width="1" height="2" fill="#ff8888"/>
<rect x="464" y="789" width="1" height="4" fill="#000"/>
<rect x="463" y="790" width="3" height="2" fill="#000"/>
<rect x="465" y="788" width="1" height="3" fill="#ff0000"/>
<rect x="464" y="790" width="3" height="1" fill="#ff0000"/>
<rect x="466" y="787" width="1" height="3" fill="#000"/>
<rect x="465" y="788" width="3" height="2" fill="#000"/>
<rect x="468" y="788" width="1" height="2" fill="#ff0000"/>
<rect x="467" y="788" width="3" height="1" fill="#ff0000"/>
<rect x="468" y="788" width="3" height="2" fill="#ff0000"/>
<rect x="462" y="789" width="1" height="6" fill="#ff0000"/>
<rect x="461" y="791" width="3" height="3" fill="#ff0000"/>
<rect x="462" y="792" width="1" height="1" fill="#ff8888"/>
<rect x="464" y="788" width="1" height="5" fill="#000"/>
<rect x="463" y="790" width="3" height="3" fill="#000"/>
<rect x="464" y="791" width="1" height="1" fill="#fff"/>
<rect x="465" y="787" width="1" height="4" fill="#000"/>
<rect x="464" y="787" width="3" height="3" fill="#000"/>
<rect x="465" y="788" width="1" height="1" fill="#fff"/>
<rect x="465" y="787" width="3" height="3" fill="#ff0000"/>
<rect x="466" y="788" width="1" height="1" fill="#ff8888"/>
<rect x="467" y="788" width="3" height="2" fill="#ff0000"/>
<rect x="469" y="788" width="1" height="2" fill="#ff0000"/>
<rect x="468" y="789" width="3" height="1" fill="#ff0000"/>
<rect x="471" y="788" width="1" height="4" fill="#ff0000"/>
<rect x="470" y="789" width="3" height="2" fill="#ff0000"/>
<rect x="471" y="790" width="3" height="2" fill="#ff0000"/>
<rect x="473" y="790" width="3" height="2" fill="#ff0000"/>
<rect x="474" y="789" width="3" height="3" fill="#ff0000"/>
<rect x="475" y="790" width="1" height="1" fill="#ff8888"/>
<rect x="476" y="789" width="1" height="2" fill="#000"/>
<rect x="475" y="789" width="3" height="1" fill="#000"/>
<rect x="477" y="788" width="1" height="4" fill="#000"/>
<rect x="476" y="788" width="3" height="3" fill="#000"/>
<rect x="477" y="789" width="1" height="1" fill="#fff"/>
<rect x="480" y="784" width="1" height="5" fill="#000"/>
<rect x="479" y="785" width="3" height="3" fill="#000"/>
<rect x="480" y="786" width="1" height="1" fill="#fff"/>
<rect x="480" y="784" width="1" height="2" fill="#ff0000"/>
<rect x="479" y="785" width="3" height="1" fill="#ff0000"/>
<rect x="482" y="783" width="1" height="4" fill="#ff0000"/>
<rect x="481" y="783" width="3" height="3" fill="#ff0000"/>
<rect x="482" y="784" width="1" height="1" fill="#ff8888"/>
<rect x="483" y="784" width="1" height="3" fill="#ff0000"/>
<rect x="482" y="785" width="3" height="1" fill="#ff0000"/>
<rect x="484" y="785" width="3" height="3" fill="#ff0000"/>
<rect x="485" y="786" width="1" height="1" fill="#ff8888"/>
<rect x="485" y="786" width="3" height="2" fill="#000"/>
<rect x="488" y="785" width="1" height="3" fill="#ff0000"/>
<rect x="487" y="786" width="3" height="2" fill="#ff0000"/>
<rect x="489" y="783" width="1" height="5" fill="#000"/>
<rect x="488" y="785" width="3" height="3" fill="#000"/>
<rect x="489" y="786" width="1" height="1" fill="#fff"/>
<rect x="491" y="780" width="1" height="8" fill="#000"/>
<rect x="490" y="782" width="3" height="5" fill="#000"/>
<rect x="491" y="783" width="1" height="3" fill="#fff"/>
<rect x="492" y="782" width="1" height="2" fill="#ff0000"/>
<rect x="491" y="782" width="3" height="1" fill="#ff0000"/>
<rect x="493" y="780" width="1" height="4" fill="#ff0000"/>
<rect x="492" y="780" width="3" height="3" fill="#ff0000"/>
<rect x="493" y="781" width="1" height="1" fill="#ff8888"/>
<rect x="494" y="781" width="1" height="3" fill="#ff0000"/>
<rect x="493" y="782" width="3" height="1" fill="#ff0000"/>
<rect x="496" y="781" width="1" height="4" fill="#ff0000"/>
<rect x="495" y="782" width="3" height="3" fill="#ff0000"/>
<rect x="496" y="783" width="1" height="1" fill="#ff8888"/>
<rect x="496" y="783" width="3" height="2" fill="#000"/>
<rect x="498" y="783" width="3" height="3" fill="#ff0000"/>
<rect x="499" y="784" width="1" height="1" fill="#ff8888"/>
<rect x="499" y="784" width="3" height="2" fill="#ff0000"/>
<rect x="501" y="783" width="1" height="4" fill="#000"/>
<rect x="500" y="784" width="3" height="1" fill="#000"/>
<rect x="502" y="783" width="1" height="4" fill="#000"/>
<rect x="501" y="784" width="3" height="2" fill="#000"/>
<rect x="504" y="780" width="1" height="5" fill="#000"/>
<rect x="503" y="781" width="3" height="3" fill="#000"/>
<rect x="504" y="782" width="1" height="1" fill="#fff"/>
<rect x="506" y="779" width="1" height="3" fill="#000"/>
<rect x="505" y="780" width="3" height="2" fill="#000"/>
<rect x="506" y="776" width="3" height="5" fill="#000"/>
<rect x="507" y="777" width="1" height="3" fill="#fff"/>
<rect x="509" y="774" width="1" height="4" fill="#ff0000"/>
<rect x="508" y="774" width="3" height="3" fill="#ff0000"/>
<rect x="509" y="775" width="1" height="1" fill="#ff8888"/>
<rect x="510" y="774" width="1" height="3" fill="#000"/>
<rect x="509" y="775" width="3" height="2" fill="#000"/>
<rect x="511" y="772" width="1" height="5" fill="#000"/>
<rect x="510" y="773" width="3" height="3" fill="#000"/>
<rect x="511" y="774" width="1" height="1" fill="#fff"/>
<rect x="513" y="773" width="1" height="3" fill="#000"/>
<rect x="512" y="773" width="3" height="2" fill="#000"/>
<rect x="513" y="774" width="3" height="1" fill="#000"/>
<rect x="515" y="772" width="1" height="5" fill="#000"/>
<rect x="514" y="772" width="3" height="4" fill="#000"/>
<rect x="515" y="773" width="1" height="2" fill="#fff"/>
<rect x="515" y="770" width="3" height="4" fill="#000"/>
<rect x="516" y="771" width="1" height="2" fill="#fff"/>
<rect x="519" y="769" width="1" height="4" fill="#ff0000"/>
<rect x="518" y="769" width="3" height="3" fill="#ff0000"/>
<rect x="519" y="770" width="1" height="1" fill="#ff8888"/>
<rect x="520" y="770" width="1" height="3" fill="#000"/>
<rect x="519" y="770" width="3" height="2" fill="#000"/>
<rect x="521" y="766" width="1" height="7" fill="#000"/>
<rect x="520" y="768" width="3" height="4" fill="#000"/>
<rect x="521" y="769" width="1" height="2" fill="#fff"/>
<rect x="522" y="753" width="1" height="8" fill="#000"/>
<rect x="521" y="754" width="3" height="6" fill="#000"/>
<rect x="522" y="755" width="1" height="4" fill="#fff"/>
<rect x="523" y="752" width="1" height="4" fill="#ff0000"/>
<rect x="522" y="754" width="3" height="1" fill="#ff0000"/>
<rect x="524" y="751" width="1" height="9" fill="#ff0000"/>
<rect x="523" y="753" width="3" height="7" fill="#ff0000"/>
<rect x="524" y="754" width="1" height="5" fill="#ff8888"/>
<rect x="525" y="757" width="1" height="3" fill="#ff0000"/>
<rect x="524" y="758" width="3" height="2" fill="#ff0000"/>
<rect x="526" y="754" width="1" height="17" fill="#ff0000"/>
<rect x="525" y="758" width="3" height="11" fill="#ff0000"/>
<rect x="526" y="759" width="1" height="9" fill="#ff8888"/>
<rect x="528" y="764" width="1" height="6" fill="#ff0000"/>
<rect x="527" y="765" width="3" height="4" fill="#ff0000"/>
<rect x="528" y="766" width="1" height="2" fill="#ff8888"/>
<rect x="529" y="752" width="1" height="7" fill="#000"/>
<rect x="528" y="753" width="3" height="5" fill="#000"/>
<rect x="529" y="754" width="1" height="3" fill="#fff"/>
<rect x="531" y="749" width="1" height="9" fill="#ff0000"/>
<rect x="530" y="751" width="3" height="5" fill="#ff0000"/>
<rect x="531" y="752" width="1" height="3" fill="#ff8888"/>
<rect x="533" y="751" width="1" height="5" fill="#000"/>
<rect x="532" y="752" width="3" height="3" fill="#000"/>
<rect x="533" y="753" width="1" height="1" fill="#fff"/>
<rect x="533" y="752" width="3" height="2" fill="#ff0000"/>
<rect x="535" y="751" width="1" height="7" fill="#ff0000"/>
<rect x="534" y="752" width="3" height="5" fill="#ff0000"/>
<rect x="535" y="753" width="1" height="3" fill="#ff8888"/>
<rect x="536" y="756" width="3" height="2" fill="#ff0000"/>
<rect x="538" y="755" width="1" height="7" fill="#ff0000"/>
<rect x="537" y="756" width="3" height="6" fill="#ff0000"/>
<rect x="538" y="757" width="1" height="4" fill="#ff8888"/>
<rect x="539" y="758" width="1" height="7" fill="#000"/>
<rect x="538" y="758" width="3" height="5" fill="#000"/>
<rect x="539" y="759" width="1" height="3" fill="#fff"/>
<rect x="541" y="758" width="1" height="6" fill="#ff0000"/>
<rect x="540" y="758" width="3" height="3" fill="#ff0000"/>
<rect x="541" y="759" width="1" height="1" fill="#ff8888"/>
<rect x="542" y="757" width="1" height="6" fill="#ff0000"/>
<rect x="541" y="759" width="3" height="3" fill="#ff0000"/>
<rect x="542" y="760" width="1" height="1" fill="#ff8888"/>
<rect x="543" y="755" width="1" height="3" fill="#ff0000"/>
<rect x="542" y="755" width="3" height="2" fill="#ff0000"/>
<rect x="545" y="752" width="1" height="5" fill="#000"/>
<rect x="544" y="754" width="3" height="3" fill="#000"/>
<rect x="545" y="755" width="1" height="1" fill="#fff"/>
<rect x="546" y="749" width="1" height="8" fill="#000"/>
<rect x="545" y="750" width="3" height="6" fill="#000"/>
<rect x="546" y="751" width="1" height="4" fill="#fff"/>
<rect x="547" y="743" width="1" height="7" fill="#000"/>
<rect x="546" y="744" width="3" height="5" fill="#000"/>
<rect x="547" y="745" width="1" height="3" fill="#fff"/>
<rect x="549" y="745" width="1" height="7" fill="#000"/>
<rect x="548" y="745" width="3" height="5" fill="#000"/>
<rect x="549" y="746" width="1" height="3" fill="#fff"/>
<rect x="551" y="747" width="1" height="7" fill="#ff0000"/>
<rect x="550" y="748" width="3" height="5" fill="#ff0000"/>
<rect x="551" y="749" width="1" height="3" fill="#ff8888"/>
<rect x="552" y="751" width="1" height="3" fill="#ff0000"/>
<rect x="551" y="751" width="3" height="2" fill="#ff0000"/>
<rect x="553" y="749" width="1" height="11" fill="#ff0000"/>
<rect x="552" y="750" width="3" height="8" fill="#ff0000"/>
<rect x="553" y="751" width="1" height="6" fill="#ff8888"/>
<rect x="555" y="754" width="1" height="4" fill="#000"/>
<rect x="554" y="755" width="3" height="3" fill="#000"/>
<rect x="555" y="756" width="1" height="1" fill="#fff"/>
<rect x="556" y="754" width="1" height="5" fill="#000"/>
<rect x="555" y="755" width="3" height="4" fill="#000"/>
<rect x="556" y="756" width="1" height="2" fill="#fff"/>
<rect x="557" y="733" width="1" height="10" fill="#000"/>
<rect x="556" y="735" width="3" height="6" fill="#000"/>
<rect x="557" y="736" width="1" height="4" fill="#fff"/>
<rect x="560" y="732" width="1" height="8" fill="#000"/>
<rect x="559" y="733" width="3" height="6" fill="#000"/>
<rect x="560" y="734" width="1" height="4" fill="#fff"/>
<rect x="559" y="733" width="3" height="2" fill="#ff0000"/>
<rect x="562" y="732" width="1" height="4" fill="#ff0000"/>
<rect x="561" y="732" width="3" height="3" fill="#ff0000"/>
<rect x="562" y="733" width="1" height="1" fill="#ff8888"/>
<rect x="564" y="673" width="1" height="36" fill="#000"/>
<rect x="563" y="681" width="3" height="21" fill="#000"/>
<rect x="564" y="682" width="1" height="19" fill="#fff"/>
<rect x="567" y="668" width="1" height="29" fill="#000"/>
<rect x="566" y="672" width="3" height="21" fill="#000"/>
<rect x="567" y="673" width="1" height="19" fill="#fff"/>
<rect x="567" y="667" width="1" height="20" fill="#000"/>
<rect x="566" y="668" width="3" height="5" fill="#000"/>
<rect x="567" y="669" width="1" height="3" fill="#fff"/>
<rect x="569" y="656" width="1" height="27" fill="#000"/>
<rect x="568" y="660" width="3" height="17" fill="#000"/>
<rect x="569" y="661" width="1" height="15" fill="#fff"/>
<rect x="570" y="659" width="1" height="24" fill="#ff0000"/>
<rect x="569" y="660" width="3" height="10" fill="#ff0000"/>
<rect x="570" y="661" width="1" height="8" fill="#ff8888"/>
<rect x="571" y="658" width="1" height="51" fill="#ff0000"/>
<rect x="570" y="666" width="3" height="31" fill="#ff0000"/>
<rect x="571" y="667" width="1" height="29" fill="#ff8888"/>
<rect x="574" y="678" width="1" height="21" fill="#000"/>
<rect x="573" y="684" width="3" height="10" fill="#000"/>
<rect x="574" y="685" width="1" height="8" fill="#fff"/>
<rect x="574" y="678" width="1" height="9" fill="#ff0000"/>
<rect x="573" y="683" width="3" height="2" fill="#ff0000"/>
<rect x="576" y="668" width="1" height="17" fill="#ff0000"/>
<rect x="575" y="670" width="3" height="11" fill="#ff0000"/>
<rect x="576" y="671" width="1" height="9" fill="#ff8888"/>
<rect x="578" y="661" width="1" height="14" fill="#ff0000"/>
<rect x="577" y="665" width="3" height="8" fill="#ff0000"/>
<rect x="578" y="666" width="1" height="6" fill="#ff8888"/>
<rect x="578" y="663" width="3" height="7" fill="#000"/>
<rect x="579" y="664" width="1" height="5" fill="#fff"/>
<rect x="580" y="634" width="1" height="30" fill="#000"/>
<rect x="579" y="639" width="3" height="20" fill="#000"/>
<rect x="580" y="640" width="1" height="18" fill="#fff"/>
<rect x="582" y="638" width="1" height="33" fill="#ff0000"/>
<rect x="581" y="648" width="3" height="19" fill="#ff0000"/>
<rect x="582" y="649" width="1" height="17" fill="#ff8888"/>
<rect x="583" y="654" width="1" height="21" fill="#ff0000"/>
<rect x="582" y="655" width="3" height="12" fill="#ff0000"/>
<rect x="583" y="656" width="1" height="10" fill="#ff8888"/>
<rect x="584" y="648" width="1" height="43" fill="#ff0000"/>
<rect x="583" y="651" width="3" height="30" fill="#ff0000"/>
<rect x="584" y="652" width="1" height="28" fill="#ff8888"/>
<rect x="586" y="631" width="1" height="32" fill="#ff0000"/>
<rect x="585" y="636" width="3" height="23" fill="#ff0000"/>
<rect x="586" y="637" width="1" height="21" fill="#ff8888"/>
<rect x="587" y="644" width="1" height="17" fill="#ff0000"/>
<rect x="586" y="651" width="3" height="8" fill="#ff0000"/>
<rect x="587" y="652" width="1" height="6" fill="#ff8888"/>
<rect x="588" y="644" width="1" height="23" fill="#ff0000"/>
<rect x="587" y="649" width="3" height="12" fill="#ff0000"/>
<rect x="588" y="650" width="1" height="10" fill="#ff8888"/>
<rect x="590" y="655" width="1" height="7" fill="#000"/>
<rect x="589" y="659" width="3" height="2" fill="#000"/>
<rect x="591" y="635" width="1" height="30" fill="#000"/>
<rect x="590" y="639" width="3" height="19" fill="#000"/>
<rect x="591" y="640" width="1" height="17" fill="#fff"/>
<rect x="593" y="644" width="1" height="14" fill="#000"/>
<rect x="592" y="647" width="3" height="8" fill="#000"/>
<rect x="593" y="648" width="1" height="6" fill="#fff"/>
<rect x="594" y="604" width="1" height="43" fill="#000"/>
<rect x="593" y="618" width="3" height="17" fill="#000"/>
<rect x="594" y="619" width="1" height="15" fill="#fff"/>
<rect x="595" y="606" width="1" height="17" fill="#ff0000"/>
<rect x="594" y="610" width="3" height="9" fill="#ff0000"/>
<rect x="595" y="611" width="1" height="7" fill="#ff8888"/>
<rect x="597" y="598" width="1" height="19" fill="#ff0000"/>
<rect x="596" y="601" width="3" height="13" fill="#ff0000"/>
<rect x="597" y="602" width="1" height="11" fill="#ff8888"/>
<rect x="599" y="588" width="1" height="27" fill="#000"/>
<rect x="598" y="595" width="3" height="14" fill="#000"/>
<rect x="599" y="596" width="1" height="12" fill="#fff"/>
<rect x="600" y="590" width="1" height="8" fill="#ff0000"/>
<rect x="599" y="591" width="3" height="5" fill="#ff0000"/>
<rect x="600" y="592" width="1" height="3" fill="#ff8888"/>
<rect x="601" y="577" width="1" height="22" fill="#ff0000"/>
<rect x="600" y="582" width="3" height="15" fill="#ff0000"/>
<rect x="601" y="583" width="1" height="13" fill="#ff8888"/>
<rect x="601" y="581" width="3" height="16" fill="#000"/>
<rect x="602" y="582" width="1" height="14" fill="#fff"/>
<rect x="604" y="574" width="1" height="23" fill="#000"/>
<rect x="603" y="576" width="3" height="16" fill="#000"/>
<rect x="604" y="577" width="1" height="14" fill="#fff"/>
<rect x="606" y="574" width="1" height="17" fill="#000"/>
<rect x="605" y="578" width="3" height="10" fill="#000"/>
<rect x="606" y="579" width="1" height="8" fill="#fff"/>
<rect x="607" y="576" width="1" height="17" fill="#ff0000"/>
<rect x="606" y="578" width="3" height="4" fill="#ff0000"/>
<rect x="607" y="579" width="1" height="2" fill="#ff8888"/>
<rect x="608" y="577" width="1" height="23" fill="#ff0000"/>
<rect x="607" y="580" width="3" height="15" fill="#ff0000"/>
<rect x="608" y="581" width="1" height="13" fill="#ff8888"/>
<rect x="610" y="561" width="1" height="28" fill="#000"/>
<rect x="609" y="568" width="3" height="16" fill="#000"/>
<rect x="610" y="569" width="1" height="14" fill="#fff"/>
<rect x="611" y="567" width="1" height="13" fill="#000"/>
<rect x="610" y="568" width="3" height="7" fill="#000"/>
<rect x="611" y="569" width="1" height="5" fill="#fff"/>
<rect x="612" y="557" width="1" height="22" fill="#000"/>
<rect x="611" y="561" width="3" height="12" fill="#000"/>
<rect x="612" y="562" width="1" height="10" fill="#fff"/>
<rect x="614" y="563" width="1" height="78" fill="#ff0000"/>
<rect x="613" y="585" width="3" height="34" fill="#ff0000"/>
<rect x="614" y="586" width="1" height="32" fill="#ff8888"/>
<rect x="615" y="600" width="1" height="27" fill="#000"/>
<rect x="614" y="607" width="3" height="12" fill="#000"/>
<rect x="615" y="608" width="1" height="10" fill="#fff"/>
<rect x="617" y="595" width="1" height="30" fill="#000"/>
<rect x="616" y="603" width="3" height="14" fill="#000"/>
<rect x="617" y="604" width="1" height="12" fill="#fff"/>
<rect x="618" y="603" width="1" height="20" fill="#ff0000"/>
<rect x="617" y="603" width="3" height="9" fill="#ff0000"/>
<rect x="618" y="604" width="1" height="7" fill="#ff8888"/>
<rect x="619" y="612" width="1" height="27" fill="#ff0000"/>
<rect x="618" y="615" width="3" height="22" fill="#ff0000"/>
<rect x="619" y="616" width="1" height="20" fill="#ff8888"/>
<rect x="621" y="612" width="1" height="26" fill="#ff0000"/>
<rect x="620" y="625" width="3" height="12" fill="#ff0000"/>
<rect x="621" y="626" width="1" height="10" fill="#ff8888"/>
<rect x="621" y="610" width="1" height="28" fill="#ff0000"/>
<rect x="620" y="617" width="3" height="16" fill="#ff0000"/>
<rect x="621" y="618" width="1" height="14" fill="#ff8888"/>
<rect x="623" y="618" width="1" height="15" fill="#000"/>
<rect x="622" y="621" width="3" height="12" fill="#000"/>
<rect x="623" y="622" width="1" height="10" fill="#fff"/>
<rect x="624" y="603" width="1" height="26" fill="#ff0000"/>
<rect x="623" y="606" width="3" height="17" fill="#ff0000"/>
<rect x="624" y="607" width="1" height="15" fill="#ff8888"/>
<rect x="626" y="614" width="1" height="20" fill="#000"/>
<rect x="625" y="616" width="3" height="16" fill="#000"/>
<rect x="626" y="617" width="1" height="14" fill="#fff"/>
<rect x="628" y="576" width="1" height="25" fill="#000"/>
<rect x="627" y="579" width="3" height="16" fill="#000"/>
<rect x="628" y="580" width="1" height="14" fill="#fff"/>
<rect x="629" y="579" width="1" height="14" fill="#ff0000"/>
<rect x="628" y="579" width="3" height="13" fill="#ff0000"/>
<rect x="629" y="580" width="1" height="11" fill="#ff8888"/>
<rect x="631" y="571" width="1" height="22" fill="#ff0000"/>
<rect x="630" y="576" width="3" height="13" fill="#ff0000"/>
<rect x="631" y="577" width="1" height="11" fill="#ff8888"/>
<rect x="632" y="580" width="1" height="13" fill="#000"/>
<rect x="631" y="582" width="3" height="7" fill="#000"/>
<rect x="632" y="583" width="1" height="5" fill="#fff"/>
<rect x="633" y="576" width="1" height="19" fill="#ff0000"/>
<rect x="632" y="578" width="3" height="14" fill="#ff0000"/>
<rect x="633" y="579" width="1" height="12" fill="#ff8888"/>
<rect x="635" y="576" width="1" height="17" fill="#ff0000"/>
<rect x="634" y="583" width="3" height="9" fill="#ff0000"/>
<rect x="635" y="584" width="1" height="7" fill="#ff8888"/>
<rect x="635" y="570" width="1" height="21" fill="#ff0000"/>
<rect x="634" y="575" width="3" height="11" fill="#ff0000"/>
<rect x="635" y="576" width="1" height="9" fill="#ff8888"/>
<rect x="638" y="575" width="1" height="16" fill="#000"/>
<rect x="637" y="579" width="3" height="10" fill="#000"/>
<rect x="638" y="580" width="1" height="8" fill="#fff"/>
<rect x="639" y="579" width="1" height="12" fill="#000"/>
<rect x="638" y="579" width="3" height="3" fill="#000"/>
<rect x="639" y="580" width="1" height="1" fill="#fff"/>
<rect x="640" y="577" width="1" height="16" fill="#000"/>
<rect x="639" y="580" width="3" height="11" fill="#000"/>
<rect x="640" y="581" width="1" height="9" fill="#fff"/>
<rect x="642" y="582" width="1" height="19" fill="#ff0000"/>
<rect x="641" y="585" width="3" height="15" fill="#ff0000"/>
<rect x="642" y="586" width="1" height="13" fill="#ff8888"/>
<rect x="643" y="597" width="1" height="7" fill="#ff0000"/>
<rect x="642" y="598" width="3" height="2" fill="#ff0000"/>
<rect x="644" y="592" width="1" height="23" fill="#ff0000"/>
<rect x="643" y="595" width="3" height="16" fill="#ff0000"/>
<rect x="644" y="596" width="1" height="14" fill="#ff8888"/>
<rect x="646" y="601" width="1" height="18" fill="#ff0000"/>
<rect x="645" y="604" width="3" height="12" fill="#ff0000"/>
<rect x="646" y="605" width="1" height="10" fill="#ff8888"/>
<rect x="648" y="582" width="1" height="33" fill="#000"/>
<rect x="647" y="585" width="3" height="27" fill="#000"/>
<rect x="648" y="586" width="1" height="25" fill="#fff"/>
<rect x="649" y="584" width="1" height="17" fill="#000"/>
<rect x="648" y="585" width="3" height="16" fill="#000"/>
<rect x="649" y="586" width="1" height="14" fill="#fff"/>
<rect x="650" y="575" width="1" height="28" fill="#000"/>
<rect x="649" y="580" width="3" height="14" fill="#000"/>
<rect x="650" y="581" width="1" height="12" fill="#fff"/>
<rect x="652" y="563" width="1" height="21" fill="#000"/>
<rect x="651" y="566" width="3" height="12" fill="#000"/>
<rect x="652" y="567" width="1" height="10" fill="#fff"/>
<rect x="653" y="560" width="1" height="13" fill="#000"/>
<rect x="652" y="563" width="3" height="4" fill="#000"/>
<rect x="653" y="564" width="1" height="2" fill="#fff"/>
<rect x="654" y="542" width="1" height="24" fill="#000"/>
<rect x="653" y="544" width="3" height="17" fill="#000"/>
<rect x="654" y="545" width="1" height="15" fill="#fff"/>
<rect x="656" y="533" width="1" height="28" fill="#000"/>
<rect x="655" y="540" width="3" height="14" fill="#000"/>
<rect x="656" y="541" width="1" height="12" fill="#fff"/>
<rect x="657" y="535" width="1" height="23" fill="#ff0000"/>
<rect x="656" y="540" width="3" height="6" fill="#ff0000"/>
<rect x="657" y="541" width="1" height="4" fill="#ff8888"/>
<rect x="659" y="537" width="1" height="26" fill="#ff0000"/>
<rect x="658" y="541" width="3" height="14" fill="#ff0000"/>
<rect x="659" y="542" width="1" height="12" fill="#ff8888"/>
<rect x="660" y="546" width="1" height="9" fill="#000"/>
<rect x="659" y="547" width="3" height="8" fill="#000"/>
<rect x="660" y="548" width="1" height="6" fill="#fff"/>
<rect x="662" y="532" width="1" height="17" fill="#000"/>
<rect x="661" y="534" width="3" height="13" fill="#000"/>
<rect x="662" y="535" width="1" height="11" fill="#fff"/>
<rect x="663" y="509" width="1" height="29" fill="#000"/>
<rect x="662" y="514" width="3" height="17" fill="#000"/>
<rect x="663" y="515" width="1" height="15" fill="#fff"/>
<rect x="664" y="508" width="1" height="7" fill="#000"/>
<rect x="663" y="511" width="3" height="4" fill="#000"/>
<rect x="664" y="512" width="1" height="2" fill="#fff"/>
<rect x="665" y="494" width="1" height="22" fill="#000"/>
<rect x="664" y="501" width="3" height="13" fill="#000"/>
<rect x="665" y="502" width="1" height="11" fill="#fff"/>
<rect x="667" y="482" width="1" height="15" fill="#000"/>
<rect x="666" y="485" width="3" height="8" fill="#000"/>
<rect x="667" y="486" width="1" height="6" fill="#fff"/>
<rect x="668" y="482" width="1" height="27" fill="#ff0000"/>
<rect x="667" y="485" width="3" height="21" fill="#ff0000"/>
<rect x="668" y="486" width="1" height="19" fill="#ff8888"/>
<rect x="670" y="477" width="1" height="64" fill="#ff0000"/>
<rect x="669" y="495" width="3" height="28" fill="#ff0000"/>
<rect x="670" y="496" width="1" height="26" fill="#ff8888"/>
<rect x="671" y="505" width="1" height="22" fill="#000"/>
<rect x="670" y="512" width="3" height="13" fill="#000"/>
<rect x="671" y="513" width="1" height="11" fill="#fff"/>
<rect x="673" y="488" width="1" height="33" fill="#000"/>
<rect x="672" y="498" width="3" height="17" fill="#000"/>
<rect x="673" y="499" width="1" height="15" fill="#fff"/>
<rect x="674" y="462" width="1" height="43" fill="#000"/>
<rect x="673" y="473" width="3" height="26" fill="#000"/>
<rect x="674" y="474" width="1" height="24" fill="#fff"/>
<rect x="675" y="476" width="1" height="39" fill="#ff0000"/>
<rect x="674" y="476" width="3" height="34" fill="#ff0000"/>
<rect x="675" y="477" width="1" height="32" fill="#ff8888"/>
<rect x="676" y="489" width="1" height="49" fill="#ff0000"/>
<rect x="675" y="498" width="3" height="32" fill="#ff0000"/>
<rect x="676" y="499" width="1" height="30" fill="#ff8888"/>
<rect x="677" y="479" width="1" height="47" fill="#000"/>
<rect x="676" y="490" width="3" height="23" fill="#000"/>
<rect x="677" y="491" width="1" height="21" fill="#fff"/>
<rect x="679" y="462" width="1" height="22" fill="#000"/>
<rect x="678" y="466" width="3" height="13" fill="#000"/>
<rect x="679" y="467" width="1" height="11" fill="#fff"/>
<rect x="681" y="439" width="1" height="24" fill="#000"/>
<rect x="680" y="443" width="3" height="17" fill="#000"/>
<rect x="681" y="444" width="1" height="15" fill="#fff"/>
<rect x="682" y="446" width="1" height="5" fill="#ff0000"/>
<rect x="681" y="447" width="3" height="4" fill="#ff0000"/>
<rect x="682" y="448" width="1" height="2" fill="#ff8888"/>
<rect x="683" y="440" width="1" height="11" fill="#000"/>
<rect x="682" y="441" width="3" height="8" fill="#000"/>
<rect x="683" y="442" width="1" height="6" fill="#fff"/>
<rect x="684" y="363" width="1" height="60" fill="#000"/>
<rect x="683" y="379" width="3" height="36" fill="#000"/>
<rect x="684" y="380" width="1" height="34" fill="#fff"/>
<rect x="685" y="367" width="1" height="27" fill="#000"/>
<rect x="684" y="379" width="3" height="5" fill="#000"/>
<rect x="685" y="380" width="1" height="3" fill="#fff"/>
<rect x="686" y="338" width="1" height="43" fill="#000"/>
<rect x="685" y="342" width="3" height="34" fill="#000"/>
<rect x="686" y="343" width="1" height="32" fill="#fff"/>
<rect x="688" y="325" width="1" height="27" fill="#000"/>
<rect x="687" y="329" width="3" height="18" fill="#000"/>
<rect x="688" y="330" width="1" height="16" fill="#fff"/>
<rect x="689" y="328" width="1" height="11" fill="#ff0000"/>
<rect x="688" y="329" width="3" height="5" fill="#ff0000"/>
<rect x="689" y="330" width="1" height="3" fill="#ff8888"/>
<rect x="690" y="328" width="1" height="30" fill="#ff0000"/>
<rect x="689" y="338" width="3" height="6" fill="#ff0000"/>
<rect x="690" y="339" width="1" height="4" fill="#ff8888"/>
<rect x="691" y="240" width="1" height="54" fill="#000"/>
<rect x="690" y="267" width="3" height="16" fill="#000"/>
<rect x="691" y="268" width="1" height="14" fill="#fff"/>
<rect x="693" y="249" width="1" height="49" fill="#000"/>
<rect x="692" y="250" width="3" height="46" fill="#000"/>
<rect x="693" y="251" width="1" height="44" fill="#fff"/>
<rect x="694" y="216" width="1" height="116" fill="#ff0000"/>
<rect x="693" y="235" width="3" height="73" fill="#ff0000"/>
<rect x="694" y="236" width="1" height="71" fill="#ff8888"/>
<rect x="697" y="244" width="1" height="79" fill="#000"/>
<rect x="696" y="269" width="3" height="36" fill="#000"/>
<rect x="697" y="270" width="1" height="34" fill="#fff"/>
<rect x="698" y="327" width="1" height="67" fill="#ff0000"/>
<rect x="697" y="343" width="3" height="32" fill="#ff0000"/>
<rect x="698" y="344" width="1" height="30" fill="#ff8888"/>
<rect x="699" y="371" width="1" height="14" fill="#ff0000"/>
<rect x="698" y="374" width="3" height="7" fill="#ff0000"/>
<rect x="699" y="375" width="1" height="5" fill="#ff8888"/>
<rect x="700" y="332" width="1" height="96" fill="#ff0000"/>
<rect x="699" y="349" width="3" height="62" fill="#ff0000"/>
<rect x="700" y="350" width="1" height="60" fill="#ff8888"/>
<rect x="701" y="330" width="1" height="230" fill="#ff0000"/>
<rect x="700" y="330" width="3" height="143" fill="#ff0000"/>
<rect x="701" y="331" width="1" height="141" fill="#ff8888"/>
<rect x="703" y="467" width="1" height="69" fill="#ff0000"/>
<rect x="702" y="472" width="3" height="45" fill="#ff0000"/>
<rect x="703" y="473" width="1" height="43" fill="#ff8888"/>
<rect x="704" y="422" width="1" height="127" fill="#ff0000"/>
<rect x="703" y="434" width="3" height="85" fill="#ff0000"/>
<rect x="704" y="435" width="1" height="83" fill="#ff8888"/>
<rect x="706" y="466" width="1" height="33" fill="#000"/>
<rect x="705" y="473" width="3" height="16" fill="#000"/>
<rect x="706" y="474" width="1" height="14" fill="#fff"/>
<rect x="707" y="458" width="1" height="19" fill="#000"/>
<rect x="706" y="471" width="3" height="3" fill="#000"/>
<rect x="707" y="472" width="1" height="1" fill="#fff"/>
<rect x="708" y="424" width="1" height="44" fill="#000"/>
<rect x="707" y="437" width="3" height="30" fill="#000"/>
<rect x="708" y="438" width="1" height="28" fill="#fff"/>
<rect x="710" y="427" width="1" height="67" fill="#ff0000"/>
<rect x="709" y="438" width="3" height="56" fill="#ff0000"/>
<rect x="710" y="439" width="1" height="54" fill="#ff8888"/>
<rect x="712" y="481" width="1" height="33" fill="#000"/>
<rect x="711" y="489" width="3" height="6" fill="#000"/>
<rect x="712" y="490" width="1" height="4" fill="#fff"/>
<rect x="713" y="481" width="1" height="12" fill="#ff0000"/>
<rect x="712" y="482" width="3" height="8" fill="#ff0000"/>
<rect x="713" y="483" width="1" height="6" fill="#ff8888"/>
<rect x="714" y="464" width="1" height="14" fill="#ff0000"/>
<rect x="713" y="467" width="3" height="10" fill="#ff0000"/>
<rect x="714" y="468" width="1" height="8" fill="#ff8888"/>
<rect x="716" y="438" width="1" height="37" fill="#000"/>
<rect x="715" y="446" width="3" height="22" fill="#000"/>
<rect x="716" y="447" width="1" height="20" fill="#fff"/>
<rect x="717" y="428" width="1" height="32" fill="#000"/>
<rect x="716" y="435" width="3" height="18" fill="#000"/>
<rect x="717" y="436" width="1" height="16" fill="#fff"/>
<rect x="719" y="434" width="1" height="40" fill="#ff0000"/>
<rect x="718" y="446" width="3" height="23" fill="#ff0000"/>
<rect x="719" y="447" width="1" height="21" fill="#ff8888"/>
<rect x="720" y="448" width="1" height="35" fill="#ff0000"/>
<rect x="719" y="468" width="3" height="1" fill="#ff0000"/>
<rect x="721" y="462" width="1" height="46" fill="#ff0000"/>
<rect x="720" y="464" width="3" height="18" fill="#ff0000"/>
<rect x="721" y="465" width="1" height="16" fill="#ff8888"/>
<rect x="722" y="467" width="1" height="30" fill="#000"/>
<rect x="721" y="472" width="3" height="16" fill="#000"/>
<rect x="722" y="473" width="1" height="14" fill="#fff"/>
<rect x="724" y="466" width="1" height="35" fill="#ff0000"/>
<rect x="723" y="469" width="3" height="21" fill="#ff0000"/>
<rect x="724" y="470" width="1" height="19" fill="#ff8888"/>
<rect x="726" y="469" width="1" height="18" fill="#000"/>
<rect x="725" y="472" width="3" height="12" fill="#000"/>
<rect x="726" y="473" width="1" height="10" fill="#fff"/>
<rect x="727" y="469" width="1" height="15" fill="#ff0000"/>
<rect x="726" y="472" width="3" height="7" fill="#ff0000"/>
<rect x="727" y="473" width="1" height="5" fill="#ff8888"/>
<rect x="728" y="462" width="1" height="20" fill="#ff0000"/>
<rect x="727" y="472" width="3" height="10" fill="#ff0000"/>
<rect x="728" y="473" width="1" height="8" fill="#ff8888"/>
<rect x="730" y="477" width="1" height="20" fill="#ff0000"/>
<rect x="729" y="483" width="3" height="12" fill="#ff0000"/>
<rect x="730" y="484" width="1" height="10" fill="#ff8888"/>
<rect x="731" y="489" width="1" height="18" fill="#ff0000"/>
<rect x="730" y="494" width="3" height="9" fill="#ff0000"/>
<rect x="731" y="495" width="1" height="7" fill="#ff8888"/>
<rect x="731" y="486" width="1" height="42" fill="#ff0000"/>
<rect x="730" y="489" width="3" height="39" fill="#ff0000"/>
<rect x="731" y="490" width="1" height="37" fill="#ff8888"/>
<rect x="733" y="516" width="1" height="55" fill="#ff0000"/>
<rect x="732" y="518" width="3" height="53" fill="#ff0000"/>
<rect x="733" y="519" width="1" height="51" fill="#ff8888"/>
<rect x="734" y="566" width="1" height="7" fill="#ff0000"/>
<rect x="733" y="569" width="3" height="2" fill="#ff0000"/>
<rect x="735" y="555" width="1" height="41" fill="#ff0000"/>
<rect x="734" y="555" width="3" height="20" fill="#ff0000"/>
<rect x="735" y="556" width="1" height="18" fill="#ff8888"/>
<rect x="736" y="548" width="1" height="31" fill="#000"/>
<rect x="735" y="556" width="3" height="17" fill="#000"/>
<rect x="736" y="557" width="1" height="15" fill="#fff"/>
<rect x="738" y="550" width="1" height="25" fill="#000"/>
<rect x="737" y="553" width="3" height="15" fill="#000"/>
<rect x="738" y="554" width="1" height="13" fill="#fff"/>
<rect x="739" y="552" width="1" height="32" fill="#ff0000"/>
<rect x="738" y="554" width="3" height="21" fill="#ff0000"/>
<rect x="739" y="555" width="1" height="19" fill="#ff8888"/>
<rect x="741" y="523" width="1" height="56" fill="#000"/>
<rect x="740" y="535" width="3" height="44" fill="#000"/>
<rect x="741" y="536" width="1" height="42" fill="#fff"/>
<rect x="743" y="514" width="1" height="27" fill="#000"/>
<rect x="742" y="521" width="3" height="17" fill="#000"/>
<rect x="743" y="522" width="1" height="15" fill="#fff"/>
<rect x="743" y="521" width="3" height="7" fill="#ff0000"/>
<rect x="744" y="522" width="1" height="5" fill="#ff8888"/>
<rect x="745" y="514" width="1" height="37" fill="#ff0000"/>
<rect x="744" y="516" width="3" height="27" fill="#ff0000"/>
<rect x="745" y="517" width="1" height="25" fill="#ff8888"/>
<rect x="747" y="515" width="1" height="26" fill="#000"/>
<rect x="746" y="516" width="3" height="25" fill="#000"/>
<rect x="747" y="517" width="1" height="23" fill="#fff"/>
<rect x="748" y="499" width="1" height="32" fill="#ff0000"/>
<rect x="747" y="500" width="3" height="21" fill="#ff0000"/>
<rect x="748" y="501" width="1" height="19" fill="#ff8888"/>
<rect x="750" y="497" width="1" height="29" fill="#000"/>
<rect x="749" y="500" width="3" height="17" fill="#000"/>
<rect x="750" y="501" width="1" height="15" fill="#fff"/>
<rect x="751" y="501" width="1" height="28" fill="#ff0000"/>
<rect x="750" y="501" width="3" height="11" fill="#ff0000"/>
<rect x="751" y="502" width="1" height="9" fill="#ff8888"/>
<rect x="752" y="505" width="1" height="35" fill="#ff0000"/>
<rect x="751" y="505" width="3" height="34" fill="#ff0000"/>
<rect x="752" y="506" width="1" height="32" fill="#ff8888"/>
<rect x="753" y="538" width="1" height="9" fill="#000"/>
<rect x="752" y="540" width="3" height="6" fill="#000"/>
<rect x="753" y="541" width="1" height="4" fill="#fff"/>
<rect x="755" y="530" width="1" height="33" fill="#ff0000"/>
<rect x="754" y="531" width="3" height="32" fill="#ff0000"/>
<rect x="755" y="532" width="1" height="30" fill="#ff8888"/>
<rect x="757" y="559" width="1" height="14" fill="#000"/>
<rect x="756" y="562" width="3" height="9" fill="#000"/>
<rect x="757" y="563" width="1" height="7" fill="#fff"/>
<rect x="758" y="557" width="1" height="8" fill="#ff0000"/>
<rect x="757" y="562" width="3" height="2" fill="#ff0000"/>
<rect x="759" y="548" width="1" height="23" fill="#ff0000"/>
<rect x="758" y="554" width="3" height="17" fill="#ff0000"/>
<rect x="759" y="555" width="1" height="15" fill="#ff8888"/>
<rect x="761" y="565" width="1" height="11" fill="#ff0000"/>
<rect x="760" y="566" width="3" height="9" fill="#ff0000"/>
<rect x="761" y="567" width="1" height="7" fill="#ff8888"/>
<rect x="763" y="566" width="1" height="28" fill="#ff0000"/>
<rect x="762" y="567" width="3" height="20" fill="#ff0000"/>
<rect x="763" y="568" width="1" height="18" fill="#ff8888"/>
<rect x="763" y="571" width="1" height="21" fill="#000"/>
<rect x="762" y="572" width="3" height="15" fill="#000"/>
<rect x="763" y="573" width="1" height="13" fill="#fff"/>
<rect x="764" y="552" width="1" height="37" fill="#000"/>
<rect x="763" y="561" width="3" height="26" fill="#000"/>
<rect x="764" y="562" width="1" height="24" fill="#fff"/>
<rect x="766" y="542" width="1" height="20" fill="#000"/>
<rect x="765" y="548" width="3" height="14" fill="#000"/>
<rect x="766" y="549" width="1" height="12" fill="#fff"/>
<rect x="769" y="520" width="1" height="12" fill="#000"/>
<rect x="768" y="521" width="3" height="9" fill="#000"/>
<rect x="769" y="522" width="1" height="7" fill="#fff"/>
<rect x="771" y="510" width="1" height="12" fill="#000"/>
<rect x="770" y="512" width="3" height="7" fill="#000"/>
<rect x="771" y="513" width="1" height="5" fill="#fff"/>
<rect x="772" y="505" width="1" height="12" fill="#000"/>
<rect x="771" y="507" width="3" height="8" fill="#000"/>
<rect x="772" y="508" width="1" height="6" fill="#fff"/>
<rect x="773" y="502" width="1" height="8" fill="#ff0000"/>
<rect x="772" y="507" width="3" height="1" fill="#ff0000"/>
<rect x="774" y="498" width="1" height="13" fill="#000"/>
<rect x="773" y="500" width="3" height="9" fill="#000"/>
<rect x="774" y="501" width="1" height="7" fill="#fff"/>
<rect x="769" y="493" width="1" height="39" fill="#000"/>
<rect x="768" y="520" width="3" height="12" fill="#000"/>
<rect x="769" y="521" width="1" height="10" fill="#fff"/>
<rect x="770" y="509" width="1" height="13" fill="#000"/>
<rect x="769" y="511" width="3" height="8" fill="#000"/>
<rect x="770" y="512" width="1" height="6" fill="#fff"/>
<rect x="772" y="506" width="1" height="13" fill="#000"/>
<rect x="771" y="509" width="3" height="8" fill="#000"/>
<rect x="772" y="510" width="1" height="6" fill="#fff"/>
<rect x="773" y="506" width="1" height="8" fill="#000"/>
<rect x="772" y="509" width="3" height="2" fill="#000"/>
<rect x="774" y="491" width="1" height="20" fill="#000"/>
<rect x="773" y="493" width="3" height="18" fill="#000"/>
<rect x="774" y="494" width="1" height="16" fill="#fff"/>
<rect x="776" y="460" width="1" height="29" fill="#ff0000"/>
<rect x="775" y="461" width="3" height="25" fill="#ff0000"/>
<rect x="776" y="462" width="1" height="23" fill="#ff8888"/>
<rect x="777" y="456" width="1" height="31" fill="#000"/>
<rect x="776" y="471" width="3" height="15" fill="#000"/>
<rect x="777" y="472" width="1" height="13" fill="#fff"/>
<rect x="779" y="451" width="1" height="38" fill="#000"/>
<rect x="778" y="452" width="3" height="33" fill="#000"/>
<rect x="779" y="453" width="1" height="31" fill="#fff"/>
<rect x="780" y="437" width="1" height="16" fill="#000"/>
<rect x="779" y="440" width="3" height="11" fill="#000"/>
<rect x="780" y="441" width="1" height="9" fill="#fff"/>
<rect x="781" y="420" width="1" height="18" fill="#000"/>
<rect x="780" y="424" width="3" height="13" fill="#000"/>
<rect x="781" y="425" width="1" height="11" fill="#fff"/>
<rect x="783" y="397" width="1" height="28" fill="#000"/>
<rect x="782" y="402" width="3" height="19" fill="#000"/>
<rect x="783" y="403" width="1" height="17" fill="#fff"/>
<rect x="784" y="377" width="1" height="22" fill="#000"/>
<rect x="783" y="383" width="3" height="10" fill="#000"/>
<rect x="784" y="384" width="1" height="8" fill="#fff"/>
<rect x="786" y="380" width="1" height="13" fill="#ff0000"/>
<rect x="785" y="383" width="3" height="10" fill="#ff0000"/>
<rect x="786" y="384" width="1" height="8" fill="#ff8888"/>
<rect x="787" y="372" width="1" height="42" fill="#ff0000"/>
<rect x="786" y="373" width="3" height="34" fill="#ff0000"/>
<rect x="787" y="374" width="1" height="32" fill="#ff8888"/>
<rect x="789" y="371" width="1" height="36" fill="#ff0000"/>
<rect x="788" y="377" width="3" height="21" fill="#ff0000"/>
<rect x="789" y="378" width="1" height="19" fill="#ff8888"/>
<rect x="790" y="364" width="1" height="40" fill="#ff0000"/>
<rect x="789" y="374" width="3" height="24" fill="#ff0000"/>
<rect x="790" y="375" width="1" height="22" fill="#ff8888"/>
<rect x="791" y="368" width="1" height="41" fill="#ff0000"/>
<rect x="790" y="380" width="3" height="16" fill="#ff0000"/>
<rect x="791" y="381" width="1" height="14" fill="#ff8888"/>
<rect x="793" y="376" width="1" height="41" fill="#ff0000"/>
<rect x="792" y="380" width="3" height="28" fill="#ff0000"/>
<rect x="793" y="381" width="1" height="26" fill="#ff8888"/>
<rect x="794" y="388" width="1" height="22" fill="#000"/>
<rect x="793" y="392" width="3" height="16" fill="#000"/>
<rect x="794" y="393" width="1" height="14" fill="#fff"/>
<rect x="795" y="369" width="1" height="43" fill="#000"/>
<rect x="794" y="379" width="3" height="23" fill="#000"/>
<rect x="795" y="380" width="1" height="21" fill="#fff"/>
<rect x="797" y="358" width="1" height="31" fill="#ff0000"/>
<rect x="796" y="363" width="3" height="25" fill="#ff0000"/>
<rect x="797" y="364" width="1" height="23" fill="#ff8888"/>
<rect x="798" y="380" width="1" height="12" fill="#ff0000"/>
<rect x="797" y="386" width="3" height="2" fill="#ff0000"/>
<rect x="800" y="369" width="1" height="19" fill="#ff0000"/>
<rect x="799" y="386" width="3" height="1" fill="#ff0000"/>
<rect x="801" y="375" width="1" height="28" fill="#ff0000"/>
<rect x="800" y="380" width="3" height="17" fill="#ff0000"/>
<rect x="801" y="381" width="1" height="15" fill="#ff8888"/>
<rect x="803" y="365" width="1" height="37" fill="#000"/>
<rect x="802" y="365" width="3" height="17" fill="#000"/>
<rect x="803" y="366" width="1" height="15" fill="#fff"/>
<rect x="804" y="362" width="1" height="8" fill="#000"/>
<rect x="803" y="365" width="3" height="4" fill="#000"/>
<rect x="804" y="366" width="1" height="2" fill="#fff"/>
<rect x="805" y="346" width="1" height="38" fill="#000"/>
<rect x="804" y="353" width="3" height="13" fill="#000"/>
<rect x="805" y="354" width="1" height="11" fill="#fff"/>
<rect x="806" y="304" width="3" height="51" fill="#000"/>
<rect x="807" y="305" width="1" height="49" fill="#fff"/>
<rect x="808" y="292" width="1" height="13" fill="#000"/>
<rect x="807" y="293" width="3" height="10" fill="#000"/>
<rect x="808" y="294" width="1" height="8" fill="#fff"/>
<rect x="810" y="265" width="1" height="29" fill="#000"/>
<rect x="809" y="269" width="3" height="17" fill="#000"/>
<rect x="810" y="270" width="1" height="15" fill="#fff"/>
<rect x="811" y="269" width="1" height="52" fill="#ff0000"/>
<rect x="810" y="269" width="3" height="50" fill="#ff0000"/>
<rect x="811" y="270" width="1" height="48" fill="#ff8888"/>
<rect x="812" y="273" width="1" height="129" fill="#ff0000"/>
<rect x="811" y="274" width="3" height="88" fill="#ff0000"/>
<rect x="812" y="275" width="1" height="86" fill="#ff8888"/>
<rect x="814" y="333" width="1" height="45" fill="#000"/>
<rect x="813" y="347" width="3" height="18" fill="#000"/>
<rect x="814" y="348" width="1" height="16" fill="#fff"/>
<rect x="815" y="345" width="1" height="14" fill="#ff0000"/>
<rect x="814" y="346" width="3" height="2" fill="#ff0000"/>
<rect x="816" y="343" width="1" height="31" fill="#ff0000"/>
<rect x="815" y="346" width="3" height="20" fill="#ff0000"/>
<rect x="816" y="347" width="1" height="18" fill="#ff8888"/>
<rect x="818" y="340" width="1" height="53" fill="#ff0000"/>
<rect x="817" y="346" width="3" height="26" fill="#ff0000"/>
<rect x="818" y="347" width="1" height="24" fill="#ff8888"/>
<rect x="820" y="331" width="1" height="31" fill="#000"/>
<rect x="819" y="331" width="3" height="30" fill="#000"/>
<rect x="820" y="332" width="1" height="28" fill="#fff"/>
<rect x="821" y="331" width="1" height="10" fill="#ff0000"/>
<rect x="820" y="331" width="3" height="3" fill="#ff0000"/>
<rect x="821" y="332" width="1" height="1" fill="#ff8888"/>
<rect x="822" y="316" width="1" height="31" fill="#ff0000"/>
<rect x="821" y="330" width="3" height="14" fill="#ff0000"/>
<rect x="822" y="331" width="1" height="12" fill="#ff8888"/>
<rect x="824" y="327" width="1" height="31" fill="#ff0000"/>
<rect x="823" y="331" width="3" height="27" fill="#ff0000"/>
<rect x="824" y="332" width="1" height="25" fill="#ff8888"/>
<rect x="824" y="362" width="3" height="46" fill="#ff0000"/>
<rect x="825" y="363" width="1" height="44" fill="#ff8888"/>
<rect x="826" y="406" width="1" height="51" fill="#ff0000"/>
<rect x="825" y="407" width="3" height="29" fill="#ff0000"/>
<rect x="826" y="408" width="1" height="27" fill="#ff8888"/>
<rect x="828" y="387" width="1" height="66" fill="#000"/>
<rect x="827" y="391" width="3" height="47" fill="#000"/>
<rect x="828" y="392" width="1" height="45" fill="#fff"/>
<rect x="829" y="391" width="1" height="45" fill="#ff0000"/>
<rect x="828" y="391" width="3" height="32" fill="#ff0000"/>
<rect x="829" y="392" width="1" height="30" fill="#ff8888"/>
<rect x="830" y="389" width="1" height="32" fill="#ff0000"/>
<rect x="829" y="394" width="3" height="20" fill="#ff0000"/>
<rect x="830" y="395" width="1" height="18" fill="#ff8888"/>
<rect x="832" y="387" width="1" height="60" fill="#ff0000"/>
<rect x="831" y="398" width="3" height="23" fill="#ff0000"/>
<rect x="832" y="399" width="1" height="21" fill="#ff8888"/>
<rect x="834" y="408" width="1" height="21" fill="#ff0000"/>
<rect x="833" y="412" width="3" height="16" fill="#ff0000"/>
<rect x="834" y="413" width="1" height="14" fill="#ff8888"/>
<rect x="835" y="412" width="1" height="30" fill="#ff0000"/>
<rect x="834" y="428" width="3" height="11" fill="#ff0000"/>
<rect x="835" y="429" width="1" height="9" fill="#ff8888"/>
<rect x="837" y="405" width="1" height="34" fill="#000"/>
<rect x="836" y="412" width="3" height="26" fill="#000"/>
<rect x="837" y="413" width="1" height="24" fill="#fff"/>
<rect x="838" y="366" width="1" height="47" fill="#000"/>
<rect x="837" y="370" width="3" height="43" fill="#000"/>
<rect x="838" y="371" width="1" height="41" fill="#fff"/>
<rect x="839" y="349" width="1" height="22" fill="#ff0000"/>
<rect x="838" y="354" width="3" height="3" fill="#ff0000"/>
<rect x="839" y="355" width="1" height="1" fill="#ff8888"/>
<rect x="841" y="334" width="1" height="27" fill="#000"/>
<rect x="840" y="336" width="3" height="21" fill="#000"/>
<rect x="841" y="337" width="1" height="19" fill="#fff"/>
<rect x="842" y="319" width="1" height="21" fill="#000"/>
<rect x="841" y="329" width="3" height="11" fill="#000"/>
<rect x="842" y="330" width="1" height="9" fill="#fff"/>
<rect x="843" y="318" width="1" height="14" fill="#000"/>
<rect x="842" y="319" width="3" height="10" fill="#000"/>
<rect x="843" y="320" width="1" height="8" fill="#fff"/>
<rect x="845" y="316" width="1" height="18" fill="#ff0000"/>
<rect x="844" y="321" width="3" height="13" fill="#ff0000"/>
<rect x="845" y="322" width="1" height="11" fill="#ff8888"/>
<rect x="846" y="338" width="1" height="18" fill="#000"/>
<rect x="845" y="338" width="3" height="9" fill="#000"/>
<rect x="846" y="339" width="1" height="7" fill="#fff"/>
<rect x="847" y="337" width="1" height="13" fill="#ff0000"/>
<rect x="846" y="338" width="3" height="6" fill="#ff0000"/>
<rect x="847" y="339" width="1" height="4" fill="#ff8888"/>
<rect x="848" y="333" width="1" height="20" fill="#ff0000"/>
<rect x="847" y="338" width="3" height="6" fill="#ff0000"/>
<rect x="848" y="339" width="1" height="4" fill="#ff8888"/>
<rect x="850" y="300" width="1" height="31" fill="#000"/>
<rect x="849" y="301" width="3" height="29" fill="#000"/>
<rect x="850" y="302" width="1" height="27" fill="#fff"/>
<rect x="851" y="284" width="1" height="18" fill="#000"/>
<rect x="850" y="285" width="3" height="16" fill="#000"/>
<rect x="851" y="286" width="1" height="14" fill="#fff"/>
<rect x="853" y="299" width="1" height="13" fill="#ff0000"/>
<rect x="852" y="301" width="3" height="6" fill="#ff0000"/>
<rect x="853" y="302" width="1" height="4" fill="#ff8888"/>
<rect x="854" y="285" width="1" height="23" fill="#000"/>
<rect x="853" y="289" width="3" height="18" fill="#000"/>
<rect x="854" y="290" width="1" height="16" fill="#fff"/>
<rect x="856" y="248" width="1" height="61" fill="#000"/>
<rect x="855" y="252" width="3" height="44" fill="#000"/>
<rect x="856" y="253" width="1" height="42" fill="#fff"/>
<rect x="857" y="216" width="1" height="63" fill="#ff0000"/>
<rect x="856" y="251" width="3" height="21" fill="#ff0000"/>
<rect x="857" y="252" width="1" height="19" fill="#ff8888"/>
<rect x="859" y="251" width="1" height="31" fill="#ff0000"/>
<rect x="858" y="254" width="3" height="22" fill="#ff0000"/>
<rect x="859" y="255" width="1" height="20" fill="#ff8888"/>
<rect x="860" y="235" width="1" height="20" fill="#000"/>
<rect x="859" y="239" width="3" height="13" fill="#000"/>
<rect x="860" y="240" width="1" height="11" fill="#fff"/>
<rect x="861" y="239" width="1" height="9" fill="#000"/>
<rect x="860" y="239" width="3" height="4" fill="#000"/>
<rect x="861" y="240" width="1" height="2" fill="#fff"/>
<rect x="863" y="227" width="1" height="49" fill="#000"/>
<rect x="862" y="236" width="3" height="33" fill="#000"/>
<rect x="863" y="237" width="1" height="31" fill="#fff"/>
<rect x="864" y="238" width="1" height="33" fill="#ff0000"/>
<rect x="863" y="239" width="3" height="32" fill="#ff0000"/>
<rect x="864" y="240" width="1" height="30" fill="#ff8888"/>
<rect x="865" y="232" width="1" height="49" fill="#000"/>
<rect x="864" y="234" width="3" height="37" fill="#000"/>
<rect x="865" y="235" width="1" height="35" fill="#fff"/>
<rect x="867" y="216" width="1" height="29" fill="#000"/>
<rect x="866" y="217" width="3" height="10" fill="#000"/>
<rect x="867" y="218" width="1" height="8" fill="#fff"/>
<rect x="869" y="190" width="1" height="37" fill="#000"/>
<rect x="868" y="191" width="3" height="36" fill="#000"/>
<rect x="869" y="192" width="1" height="34" fill="#fff"/>
<rect x="870" y="175" width="1" height="18" fill="#000"/>
<rect x="869" y="183" width="3" height="9" fill="#000"/>
<rect x="870" y="184" width="1" height="7" fill="#fff"/>
<rect x="871" y="182" width="1" height="12" fill="#ff0000"/>
<rect x="870" y="183" width="3" height="5" fill="#ff0000"/>
<rect x="871" y="184" width="1" height="3" fill="#ff8888"/>
<rect x="872" y="181" width="1" height="25" fill="#ff0000"/>
<rect x="871" y="184" width="3" height="19" fill="#ff0000"/>
<rect x="872" y="185" width="1" height="17" fill="#ff8888"/>
<rect x="874" y="156" width="1" height="29" fill="#000"/>
<rect x="873" y="157" width="3" height="28" fill="#000"/>
<rect x="874" y="158" width="1" height="26" fill="#fff"/>
<rect x="876" y="150" width="1" height="31" fill="#ff0000"/>
<rect x="875" y="153" width="3" height="25" fill="#ff0000"/>
<rect x="876" y="154" width="1" height="23" fill="#ff8888"/>
<rect x="877" y="144" width="1" height="58" fill="#ff0000"/>
<rect x="876" y="161" width="3" height="19" fill="#ff0000"/>
<rect x="877" y="162" width="1" height="17" fill="#ff8888"/>
<rect x="879" y="157" width="1" height="24" fill="#000"/>
<rect x="878" y="164" width="3" height="13" fill="#000"/>
<rect x="879" y="165" width="1" height="11" fill="#fff"/>
<rect x="880" y="154" width="1" height="41" fill="#ff0000"/>
<rect x="879" y="161" width="3" height="17" fill="#ff0000"/>
<rect x="880" y="162" width="1" height="15" fill="#ff8888"/>
<rect x="881" y="177" width="1" height="12" fill="#000"/>
<rect x="880" y="178" width="3" height="8" fill="#000"/>
<rect x="881" y="179" width="1" height="6" fill="#fff"/>
<rect x="882" y="181" width="1" height="25" fill="#ff0000"/>
<rect x="881" y="181" width="3" height="9" fill="#ff0000"/>
<rect x="882" y="182" width="1" height="7" fill="#ff8888"/>
<rect x="883" y="186" width="1" height="47" fill="#ff0000"/>
<rect x="882" y="186" width="3" height="46" fill="#ff0000"/>
<rect x="883" y="187" width="1" height="44" fill="#ff8888"/>
<rect x="884" y="231" width="1" height="26" fill="#ff0000"/>
<rect x="883" y="238" width="3" height="13" fill="#ff0000"/>
<rect x="884" y="239" width="1" height="11" fill="#ff8888"/>
<rect x="886" y="220" width="1" height="54" fill="#ff0000"/>
<rect x="885" y="222" width="3" height="52" fill="#ff0000"/>
<rect x="886" y="223" width="1" height="50" fill="#ff8888"/>
<rect x="887" y="263" width="1" height="12" fill="#000"/>
<rect x="886" y="264" width="3" height="8" fill="#000"/>
<rect x="887" y="265" width="1" height="6" fill="#fff"/>
<rect x="889" y="221" width="1" height="38" fill="#ff0000"/>
<rect x="888" y="229" width="3" height="18" fill="#ff0000"/>
<rect x="889" y="230" width="1" height="16" fill="#ff8888"/>
<rect x="890" y="214" width="1" height="21" fill="#000"/>
<rect x="889" y="219" width="3" height="14" fill="#000"/>
<rect x="890" y="220" width="1" height="12" fill="#fff"/>
<rect x="892" y="193" width="1" height="42" fill="#000"/>
<rect x="891" y="206" width="3" height="18" fill="#000"/>
<rect x="892" y="207" width="1" height="16" fill="#fff"/>
<rect x="894" y="189" width="1" height="92" fill="#ff0000"/>
<rect x="893" y="194" width="3" height="61" fill="#ff0000"/>
<rect x="894" y="195" width="1" height="59" fill="#ff8888"/>
<rect x="895" y="214" width="1" height="44" fill="#000"/>
<rect x="894" y="229" width="3" height="26" fill="#000"/>
<rect x="895" y="230" width="1" height="24" fill="#fff"/>
<rect x="897" y="162" width="1" height="77" fill="#000"/>
<rect x="896" y="174" width="3" height="32" fill="#000"/>
<rect x="897" y="175" width="1" height="30" fill="#fff"/>
<rect x="898" y="158" width="1" height="32" fill="#ff0000"/>
<rect x="897" y="175" width="3" height="15" fill="#ff0000"/>
<rect x="898" y="176" width="1" height="13" fill="#ff8888"/>
<rect x="900" y="174" width="1" height="19" fill="#ff0000"/>
<rect x="899" y="179" width="3" height="11" fill="#ff0000"/>
<rect x="900" y="180" width="1" height="9" fill="#ff8888"/>
<rect x="901" y="185" width="1" height="16" fill="#ff0000"/>
<rect x="900" y="189" width="3" height="11" fill="#ff0000"/>
<rect x="901" y="190" width="1" height="9" fill="#ff8888"/>
<rect x="901" y="177" width="1" height="83" fill="#ff0000"/>
<rect x="900" y="191" width="3" height="48" fill="#ff0000"/>
<rect x="901" y="192" width="1" height="46" fill="#ff8888"/>
<rect x="903" y="216" width="1" height="63" fill="#000"/>
<rect x="902" y="239" width="3" height="7" fill="#000"/>
<rect x="903" y="240" width="1" height="5" fill="#fff"/>
<rect x="905" y="205" width="1" height="32" fill="#000"/>
<rect x="904" y="212" width="3" height="18" fill="#000"/>
<rect x="905" y="213" width="1" height="16" fill="#fff"/>
<rect x="906" y="212" width="1" height="7" fill="#ff0000"/>
<rect x="905" y="212" width="3" height="2" fill="#ff0000"/>
<rect x="907" y="200" width="1" height="47" fill="#ff0000"/>
<rect x="906" y="212" width="3" height="34" fill="#ff0000"/>
<rect x="907" y="213" width="1" height="32" fill="#ff8888"/>
<rect x="909" y="244" width="1" height="27" fill="#ff0000"/>
<rect x="908" y="248" width="3" height="18" fill="#ff0000"/>
<rect x="909" y="249" width="1" height="16" fill="#ff8888"/>
<rect x="910" y="245" width="1" height="70" fill="#ff0000"/>
<rect x="909" y="260" width="3" height="35" fill="#ff0000"/>
<rect x="910" y="261" width="1" height="33" fill="#ff8888"/>
<rect x="912" y="255" width="1" height="63" fill="#000"/>
<rect x="911" y="291" width="3" height="22" fill="#000"/>
<rect x="912" y="292" width="1" height="20" fill="#fff"/>
<rect x="913" y="283" width="1" height="16" fill="#ff0000"/>
<rect x="912" y="283" width="3" height="9" fill="#ff0000"/>
<rect x="913" y="284" width="1" height="7" fill="#ff8888"/>
<rect x="914" y="253" width="1" height="59" fill="#ff0000"/>
<rect x="913" y="267" width="3" height="26" fill="#ff0000"/>
<rect x="914" y="268" width="1" height="24" fill="#ff8888"/>
<rect x="916" y="268" width="1" height="34" fill="#ff0000"/>
<rect x="915" y="274" width="3" height="20" fill="#ff0000"/>
<rect x="916" y="275" width="1" height="18" fill="#ff8888"/>
<rect x="917" y="267" width="1" height="27" fill="#000"/>
<rect x="916" y="276" width="3" height="18" fill="#000"/>
<rect x="917" y="277" width="1" height="16" fill="#fff"/>
<rect x="918" y="259" width="1" height="26" fill="#ff0000"/>
<rect x="917" y="265" width="3" height="20" fill="#ff0000"/>
<rect x="918" y="266" width="1" height="18" fill="#ff8888"/>
<rect x="920" y="253" width="1" height="18" fill="#000"/>
<rect x="919" y="255" width="3" height="15" fill="#000"/>
<rect x="920" y="256" width="1" height="13" fill="#fff"/>
<rect x="921" y="247" width="1" height="38" fill="#000"/>
<rect x="920" y="250" width="3" height="20" fill="#000"/>
<rect x="921" y="251" width="1" height="18" fill="#fff"/>
<rect x="923" y="250" width="1" height="11" fill="#ff0000"/>
<rect x="922" y="252" width="3" height="7" fill="#ff0000"/>
<rect x="923" y="253" width="1" height="5" fill="#ff8888"/>
<rect x="925" y="257" width="1" height="39" fill="#ff0000"/>
<rect x="924" y="258" width="3" height="38" fill="#ff0000"/>
<rect x="925" y="259" width="1" height="36" fill="#ff8888"/>
<rect x="926" y="290" width="1" height="9" fill="#ff0000"/>
<rect x="925" y="294" width="3" height="2" fill="#ff0000"/>
<rect x="927" y="293" width="1" height="17" fill="#ff0000"/>
<rect x="926" y="298" width="3" height="9" fill="#ff0000"/>
<rect x="927" y="299" width="1" height="7" fill="#ff8888"/>
<rect x="928" y="295" width="1" height="31" fill="#ff0000"/>
<rect x="927" y="297" width="3" height="16" fill="#ff0000"/>
<rect x="928" y="298" width="1" height="14" fill="#ff8888"/>
<rect x="930" y="291" width="1" height="23" fill="#ff0000"/>
<rect x="929" y="294" width="3" height="14" fill="#ff0000"/>
<rect x="930" y="295" width="1" height="12" fill="#ff8888"/>
<rect x="932" y="284" width="1" height="26" fill="#000"/>
<rect x="931" y="292" width="3" height="16" fill="#000"/>
<rect x="932" y="293" width="1" height="14" fill="#fff"/>
<rect x="933" y="289" width="1" height="15" fill="#ff0000"/>
<rect x="932" y="292" width="3" height="6" fill="#ff0000"/>
<rect x="933" y="293" width="1" height="4" fill="#ff8888"/>
<rect x="934" y="291" width="1" height="47" fill="#ff0000"/>
<rect x="933" y="295" width="3" height="43" fill="#ff0000"/>
<rect x="934" y="296" width="1" height="41" fill="#ff8888"/>
<rect x="935" y="336" width="1" height="16" fill="#ff0000"/>
<rect x="934" y="339" width="3" height="8" fill="#ff0000"/>
<rect x="935" y="340" width="1" height="6" fill="#ff8888"/>
<rect x="936" y="350" width="1" height="32" fill="#ff0000"/>
<rect x="935" y="360" width="3" height="16" fill="#ff0000"/>
<rect x="936" y="361" width="1" height="14" fill="#ff8888"/>
<rect x="938" y="374" width="1" height="47" fill="#ff0000"/>
<rect x="937" y="385" width="3" height="19" fill="#ff0000"/>
<rect x="938" y="386" width="1" height="17" fill="#ff8888"/>
<rect x="940" y="376" width="1" height="28" fill="#000"/>
<rect x="939" y="384" width="3" height="17" fill="#000"/>
<rect x="940" y="385" width="1" height="15" fill="#fff"/>
<rect x="941" y="353" width="1" height="26" fill="#ff0000"/>
<rect x="940" y="360" width="3" height="17" fill="#ff0000"/>
<rect x="941" y="361" width="1" height="15" fill="#ff8888"/>
<rect x="942" y="359" width="1" height="21" fill="#ff0000"/>
<rect x="941" y="363" width="3" height="14" fill="#ff0000"/>
<rect x="942" y="364" width="1" height="12" fill="#ff8888"/>
<rect x="943" y="360" width="1" height="28" fill="#ff0000"/>
<rect x="942" y="364" width="3" height="20" fill="#ff0000"/>
<rect x="943" y="365" width="1" height="18" fill="#ff8888"/>
<rect x="945" y="360" width="1" height="29" fill="#ff0000"/>
<rect x="944" y="369" width="3" height="12" fill="#ff0000"/>
<rect x="945" y="370" width="1" height="10" fill="#ff8888"/>
<rect x="946" y="376" width="1" height="23" fill="#ff0000"/>
<rect x="945" y="382" width="3" height="15" fill="#ff0000"/>
<rect x="946" y="383" width="1" height="13" fill="#ff8888"/>
<rect x="949" y="373" width="1" height="32" fill="#ff0000"/>
<rect x="948" y="393" width="3" height="12" fill="#ff0000"/>
<rect x="949" y="394" width="1" height="10" fill="#ff8888"/>
<rect x="950" y="405" width="1" height="68" fill="#ff0000"/>
<rect x="949" y="406" width="3" height="61" fill="#ff0000"/>
<rect x="950" y="407" width="1" height="59" fill="#ff8888"/>
<rect x="952" y="477" width="1" height="55" fill="#ff0000"/>
<rect x="951" y="491" width="3" height="5" fill="#ff0000"/>
<rect x="952" y="492" width="1" height="3" fill="#ff8888"/>
<rect x="953" y="482" width="1" height="23" fill="#000"/>
<rect x="952" y="488" width="3" height="12" fill="#000"/>
<rect x="953" y="489" width="1" height="10" fill="#fff"/>
<rect x="955" y="450" width="1" height="41" fill="#000"/>
<rect x="954" y="463" width="3" height="16" fill="#000"/>
<rect x="955" y="464" width="1" height="14" fill="#fff"/>
<rect x="956" y="492" width="1" height="18" fill="#ff0000"/>
<rect x="955" y="492" width="3" height="7" fill="#ff0000"/>
<rect x="956" y="493" width="1" height="5" fill="#ff8888"/>
<rect x="957" y="456" width="1" height="47" fill="#000"/>
<rect x="956" y="476" width="3" height="27" fill="#000"/>
<rect x="957" y="477" width="1" height="25" fill="#fff"/>
<rect x="960" y="439" width="1" height="33" fill="#000"/>
<rect x="959" y="443" width="3" height="29" fill="#000"/>
<rect x="960" y="444" width="1" height="27" fill="#fff"/>
<rect x="961" y="442" width="1" height="19" fill="#ff0000"/>
<rect x="960" y="443" width="3" height="17" fill="#ff0000"/>
<rect x="961" y="444" width="1" height="15" fill="#ff8888"/>
<rect x="962" y="438" width="1" height="34" fill="#ff0000"/>
<rect x="961" y="443" width="3" height="19" fill="#ff0000"/>
<rect x="962" y="444" width="1" height="17" fill="#ff8888"/>
<rect x="963" y="441" width="1" height="21" fill="#000"/>
<rect x="962" y="443" width="3" height="19" fill="#000"/>
<rect x="963" y="444" width="1" height="17" fill="#fff"/>
<rect x="964" y="419" width="3" height="42" fill="#000"/>
<rect x="965" y="420" width="1" height="40" fill="#fff"/>
<rect x="966" y="384" width="1" height="36" fill="#000"/>
<rect x="965" y="390" width="3" height="23" fill="#000"/>
<rect x="966" y="391" width="1" height="21" fill="#fff"/>
<rect x="967" y="377" width="1" height="28" fill="#ff0000"/>
<rect x="966" y="385" width="3" height="17" fill="#ff0000"/>
<rect x="967" y="386" width="1" height="15" fill="#ff8888"/>
<rect x="969" y="373" width="1" height="30" fill="#000"/>
<rect x="968" y="381" width="3" height="14" fill="#000"/>
<rect x="969" y="382" width="1" height="12" fill="#fff"/>
<rect x="970" y="372" width="1" height="24" fill="#ff0000"/>
<rect x="969" y="376" width="3" height="20" fill="#ff0000"/>
<rect x="970" y="377" width="1" height="18" fill="#ff8888"/>
<rect x="972" y="394" width="1" height="29" fill="#ff0000"/>
<rect x="971" y="401" width="3" height="16" fill="#ff0000"/>
<rect x="972" y="402" width="1" height="14" fill="#ff8888"/>
<rect x="973" y="390" width="1" height="44" fill="#000"/>
<rect x="972" y="392" width="3" height="33" fill="#000"/>
<rect x="973" y="393" width="1" height="31" fill="#fff"/>
<rect x="975" y="391" width="1" height="23" fill="#ff0000"/>
<rect x="974" y="392" width="3" height="22" fill="#ff0000"/>
<rect x="975" y="393" width="1" height="20" fill="#ff8888"/>
<rect x="976" y="384" width="1" height="38" fill="#000"/>
<rect x="975" y="390" width="3" height="21" fill="#000"/>
<rect x="976" y="391" width="1" height="19" fill="#fff"/>
<rect x="977" y="389" width="1" height="40" fill="#ff0000"/>
<rect x="976" y="391" width="3" height="36" fill="#ff0000"/>
<rect x="977" y="392" width="1" height="34" fill="#ff8888"/>
<rect x="979" y="420" width="1" height="25" fill="#ff0000"/>
<rect x="978" y="426" width="3" height="17" fill="#ff0000"/>
<rect x="979" y="427" width="1" height="15" fill="#ff8888"/>
<rect x="980" y="447" width="1" height="36" fill="#ff0000"/>
<rect x="979" y="461" width="3" height="5" fill="#ff0000"/>
<rect x="980" y="462" width="1" height="3" fill="#ff8888"/>
<rect x="982" y="460" width="1" height="7" fill="#000"/>
<rect x="981" y="463" width="3" height="3" fill="#000"/>
<rect x="982" y="464" width="1" height="1" fill="#fff"/>
<rect x="983" y="447" width="1" height="25" fill="#000"/>
<rect x="982" y="450" width="3" height="15" fill="#000"/>
<rect x="983" y="451" width="1" height="13" fill="#fff"/>
<rect x="984" y="463" width="1" height="48" fill="#ff0000"/>
<rect x="983" y="463" width="3" height="13" fill="#ff0000"/>
<rect x="984" y="464" width="1" height="11" fill="#ff8888"/>
<rect x="986" y="452" width="1" height="23" fill="#000"/>
<rect x="985" y="453" width="3" height="13" fill="#000"/>
<rect x="986" y="454" width="1" height="11" fill="#fff"/>
<rect x="987" y="406" width="1" height="69" fill="#000"/>
<rect x="986" y="417" width="3" height="56" fill="#000"/>
<rect x="987" y="418" width="1" height="54" fill="#fff"/>
<rect x="989" y="415" width="1" height="39" fill="#ff0000"/>
<rect x="988" y="417" width="3" height="28" fill="#ff0000"/>
<rect x="989" y="418" width="1" height="26" fill="#ff8888"/>
<rect x="990" y="406" width="1" height="31" fill="#ff0000"/>
<rect x="989" y="416" width="3" height="19" fill="#ff0000"/>
<rect x="990" y="417" width="1" height="17" fill="#ff8888"/>
<rect x="991" y="434" width="1" height="8" fill="#ff0000"/>
<rect x="990" y="435" width="3" height="6" fill="#ff0000"/>
<rect x="991" y="436" width="1" height="4" fill="#ff8888"/>
<rect x="993" y="434" width="1" height="56" fill="#ff0000"/>
<rect x="992" y="435" width="3" height="49" fill="#ff0000"/>
<rect x="993" y="436" width="1" height="47" fill="#ff8888"/>
<rect x="994" y="457" width="1" height="28" fill="#000"/>
<rect x="993" y="475" width="3" height="9" fill="#000"/>
<rect x="994" y="476" width="1" height="7" fill="#fff"/>
<rect x="995" y="465" width="1" height="19" fill="#000"/>
<rect x="994" y="469" width="3" height="13" fill="#000"/>
<rect x="995" y="470" width="1" height="11" fill="#fff"/>
<rect x="997" y="444" width="1" height="40" fill="#000"/>
<rect x="996" y="451" width="3" height="33" fill="#000"/>
<rect x="997" y="452" width="1" height="31" fill="#fff"/>
<rect x="998" y="450" width="1" height="24" fill="#ff0000"/>
<rect x="997" y="455" width="3" height="16" fill="#ff0000"/>
<rect x="998" y="456" width="1" height="14" fill="#ff8888"/>
<rect x="1000" y="466" width="1" height="17" fill="#ff0000"/>
<rect x="999" y="470" width="3" height="10" fill="#ff0000"/>
<rect x="1000" y="471" width="1" height="8" fill="#ff8888"/>
<rect x="1001" y="473" width="1" height="8" fill="#000"/>
<rect x="1000" y="473" width="3" height="7" fill="#000"/>
<rect x="1001" y="474" width="1" height="5" fill="#fff"/>
<rect x="1003" y="465" width="1" height="18" fill="#000"/>
<rect x="1002" y="470" width="3" height="9" fill="#000"/>
<rect x="1003" y="471" width="1" height="7" fill="#fff"/>
<rect x="1004" y="436" width="1" height="30" fill="#000"/>
<rect x="1003" y="448" width="3" height="18" fill="#000"/>
<rect x="1004" y="449" width="1" height="16" fill="#fff"/>
<rect x="1006" y="436" width="1" height="14" fill="#000"/>
<rect x="1005" y="438" width="3" height="8" fill="#000"/>
<rect x="1006" y="439" width="1" height="6" fill="#fff"/>
<rect x="1007" y="415" width="1" height="24" fill="#000"/>
<rect x="1006" y="418" width="3" height="19" fill="#000"/>
<rect x="1007" y="419" width="1" height="17" fill="#fff"/>
<rect x="1008" y="424" width="1" height="8" fill="#000"/>
<rect x="1007" y="426" width="3" height="4" fill="#000"/>
<rect x="1008" y="427" width="1" height="2" fill="#fff"/>
<rect x="1010" y="405" width="1" height="22" fill="#000"/>
<rect x="1009" y="411" width="3" height="15" fill="#000"/>
<rect x="1010" y="412" width="1" height="13" fill="#fff"/>
<rect x="1012" y="395" width="1" height="17" fill="#000"/>
<rect x="1011" y="396" width="3" height="13" fill="#000"/>
<rect x="1012" y="397" width="1" height="11" fill="#fff"/>
<rect x="1012" y="392" width="1" height="10" fill="#000"/>
<rect x="1011" y="396" width="3" height="2" fill="#000"/>
<rect x="1014" y="384" width="1" height="14" fill="#000"/>
<rect x="1013" y="394" width="3" height="4" fill="#000"/>
<rect x="1014" y="395" width="1" height="2" fill="#fff"/>
<rect x="1015" y="350" width="1" height="24" fill="#000"/>
<rect x="1014" y="358" width="3" height="15" fill="#000"/>
<rect x="1015" y="359" width="1" height="13" fill="#fff"/>
<rect x="1017" y="342" width="1" height="29" fill="#ff0000"/>
<rect x="1016" y="345" width="3" height="23" fill="#ff0000"/>
<rect x="1017" y="346" width="1" height="21" fill="#ff8888"/>
<rect x="1018" y="346" width="1" height="22" fill="#ff0000"/>
<rect x="1017" y="364" width="3" height="4" fill="#ff0000"/>
<rect x="1018" y="365" width="1" height="2" fill="#ff8888"/>
<rect x="1019" y="347" width="1" height="28" fill="#ff0000"/>
<rect x="1018" y="356" width="3" height="15" fill="#ff0000"/>
<rect x="1019" y="357" width="1" height="13" fill="#ff8888"/>
<rect x="1021" y="342" width="1" height="38" fill="#000"/>
<rect x="1020" y="349" width="3" height="21" fill="#000"/>
<rect x="1021" y="350" width="1" height="19" fill="#fff"/>
<rect x="1022" y="330" width="1" height="12" fill="#ff0000"/>
<rect x="1021" y="333" width="3" height="6" fill="#ff0000"/>
<rect x="1022" y="334" width="1" height="4" fill="#ff8888"/>
<rect x="1024" y="332" width="1" height="53" fill="#ff0000"/>
<rect x="1023" y="338" width="3" height="10" fill="#ff0000"/>
<rect x="1024" y="339" width="1" height="8" fill="#ff8888"/>
<rect x="1026" y="347" width="1" height="34" fill="#ff0000"/>
<rect x="1025" y="347" width="3" height="33" fill="#ff0000"/>
<rect x="1026" y="348" width="1" height="31" fill="#ff8888"/>
<rect x="1027" y="371" width="1" height="10" fill="#000"/>
<rect x="1026" y="376" width="3" height="4" fill="#000"/>
<rect x="1027" y="377" width="1" height="2" fill="#fff"/>
<rect x="1028" y="368" width="1" height="23" fill="#000"/>
<rect x="1027" y="370" width="3" height="15" fill="#000"/>
<rect x="1028" y="371" width="1" height="13" fill="#fff"/>
<rect x="1029" y="373" width="1" height="45" fill="#ff0000"/>
<rect x="1028" y="374" width="3" height="43" fill="#ff0000"/>
<rect x="1029" y="375" width="1" height="41" fill="#ff8888"/>
<rect x="1030" y="395" width="3" height="23" fill="#000"/>
<rect x="1031" y="396" width="1" height="21" fill="#fff"/>
<rect x="1032" y="395" width="1" height="13" fill="#ff0000"/>
<rect x="1031" y="395" width="3" height="12" fill="#ff0000"/>
<rect x="1032" y="396" width="1" height="10" fill="#ff8888"/>
<rect x="1034" y="391" width="1" height="21" fill="#ff0000"/>
<rect x="1033" y="396" width="3" height="15" fill="#ff0000"/>
<rect x="1034" y="397" width="1" height="13" fill="#ff8888"/>
<rect x="1035" y="402" width="1" height="15" fill="#ff0000"/>
<rect x="1034" y="405" width="3" height="6" fill="#ff0000"/>
<rect x="1035" y="406" width="1" height="4" fill="#ff8888"/>
<rect x="1036" y="402" width="1" height="26" fill="#ff0000"/>
<rect x="1035" y="404" width="3" height="11" fill="#ff0000"/>
<rect x="1036" y="405" width="1" height="9" fill="#ff8888"/>
<rect x="1038" y="394" width="1" height="13" fill="#000"/>
<rect x="1037" y="396" width="3" height="9" fill="#000"/>
<rect x="1038" y="397" width="1" height="7" fill="#fff"/>
<rect x="1039" y="389" width="1" height="18" fill="#ff0000"/>
<rect x="1038" y="391" width="3" height="11" fill="#ff0000"/>
<rect x="1039" y="392" width="1" height="9" fill="#ff8888"/>
<rect x="1041" y="385" width="1" height="32" fill="#ff0000"/>
<rect x="1040" y="399" width="3" height="18" fill="#ff0000"/>
<rect x="1041" y="400" width="1" height="16" fill="#ff8888"/>
<rect x="1042" y="407" width="1" height="17" fill="#000"/>
<rect x="1041" y="410" width="3" height="7" fill="#000"/>
<rect x="1042" y="411" width="1" height="5" fill="#fff"/>
<rect x="1043" y="411" width="1" height="29" fill="#000"/>
<rect x="1042" y="419" width="3" height="15" fill="#000"/>
<rect x="1043" y="420" width="1" height="13" fill="#fff"/>
<rect x="1045" y="407" width="1" height="28" fill="#ff0000"/>
<rect x="1044" y="411" width="3" height="24" fill="#ff0000"/>
<rect x="1045" y="412" width="1" height="22" fill="#ff8888"/>
<rect x="1046" y="428" width="1" height="17" fill="#000"/>
<rect x="1045" y="430" width="3" height="13" fill="#000"/>
<rect x="1046" y="431" width="1" height="11" fill="#fff"/>
<rect x="1048" y="421" width="1" height="13" fill="#000"/>
<rect x="1047" y="430" width="3" height="1" fill="#000"/>
<rect x="1048" y="415" width="1" height="24" fill="#000"/>
<rect x="1047" y="422" width="3" height="9" fill="#000"/>
<rect x="1048" y="423" width="1" height="7" fill="#fff"/>
<rect x="1050" y="421" width="1" height="22" fill="#ff0000"/>
<rect x="1049" y="424" width="3" height="16" fill="#ff0000"/>
<rect x="1050" y="425" width="1" height="14" fill="#ff8888"/>
<rect x="1052" y="417" width="1" height="29" fill="#000"/>
<rect x="1051" y="425" width="3" height="13" fill="#000"/>
<rect x="1052" y="426" width="1" height="11" fill="#fff"/>
<rect x="1053" y="420" width="1" height="15" fill="#ff0000"/>
<rect x="1052" y="425" width="3" height="6" fill="#ff0000"/>
<rect x="1053" y="426" width="1" height="4" fill="#ff8888"/>
<rect x="1055" y="418" width="1" height="32" fill="#ff0000"/>
<rect x="1054" y="421" width="3" height="29" fill="#ff0000"/>
<rect x="1055" y="422" width="1" height="27" fill="#ff8888"/>
<rect x="1056" y="449" width="1" height="14" fill="#ff0000"/>
<rect x="1055" y="449" width="3" height="7" fill="#ff0000"/>
<rect x="1056" y="450" width="1" height="5" fill="#ff8888"/>
<rect x="1057" y="475" width="3" height="38" fill="#ff0000"/>
<rect x="1058" y="476" width="1" height="36" fill="#ff8888"/>
<rect x="1059" y="489" width="1" height="31" fill="#ff0000"/>
<rect x="1058" y="490" width="3" height="28" fill="#ff0000"/>
<rect x="1059" y="491" width="1" height="26" fill="#ff8888"/>
<rect x="1060" y="516" width="1" height="27" fill="#ff0000"/>
<rect x="1059" y="517" width="3" height="26" fill="#ff0000"/>
<rect x="1060" y="518" width="1" height="24" fill="#ff8888"/>
<rect x="1061" y="531" width="1" height="62" fill="#ff0000"/>
<rect x="1060" y="541" width="3" height="29" fill="#ff0000"/>
<rect x="1061" y="542" width="1" height="27" fill="#ff8888"/>
<rect x="1064" y="535" width="1" height="35" fill="#000"/>
<rect x="1063" y="546" width="3" height="13" fill="#000"/>
<rect x="1064" y="547" width="1" height="11" fill="#fff"/>
<rect x="1064" y="535" width="1" height="13" fill="#ff0000"/>
<rect x="1063" y="546" width="3" height="1" fill="#ff0000"/>
<rect x="1065" y="532" width="1" height="30" fill="#ff0000"/>
<rect x="1064" y="535" width="3" height="15" fill="#ff0000"/>
<rect x="1065" y="536" width="1" height="13" fill="#ff8888"/>
<rect x="1067" y="539" width="1" height="23" fill="#ff0000"/>
<rect x="1066" y="542" width="3" height="15" fill="#ff0000"/>
<rect x="1067" y="543" width="1" height="13" fill="#ff8888"/>
<rect x="1069" y="548" width="1" height="22" fill="#000"/>
<rect x="1068" y="554" width="3" height="10" fill="#000"/>
<rect x="1069" y="555" width="1" height="8" fill="#fff"/>
<rect x="1070" y="552" width="1" height="10" fill="#ff0000"/>
<rect x="1069" y="555" width="3" height="5" fill="#ff0000"/>
<rect x="1070" y="556" width="1" height="3" fill="#ff8888"/>
<rect x="1072" y="542" width="1" height="24" fill="#ff0000"/>
<rect x="1071" y="552" width="3" height="7" fill="#ff0000"/>
<rect x="1072" y="553" width="1" height="5" fill="#ff8888"/>
<rect x="1073" y="548" width="1" height="11" fill="#ff0000"/>
<rect x="1072" y="554" width="3" height="5" fill="#ff0000"/>
<rect x="1073" y="555" width="1" height="3" fill="#ff8888"/>
<rect x="1074" y="552" width="1" height="15" fill="#ff0000"/>
<rect x="1073" y="554" width="3" height="12" fill="#ff0000"/>
<rect x="1074" y="555" width="1" height="10" fill="#ff8888"/>
<rect x="1075" y="558" width="1" height="22" fill="#ff0000"/>
<rect x="1074" y="561" width="3" height="16" fill="#ff0000"/>
<rect x="1075" y="562" width="1" height="14" fill="#ff8888"/>
<rect x="1077" y="559" width="1" height="36" fill="#ff0000"/>
<rect x="1076" y="559" width="3" height="32" fill="#ff0000"/>
<rect x="1077" y="560" width="1" height="30" fill="#ff8888"/>
<rect x="1079" y="555" width="1" height="28" fill="#000"/>
<rect x="1078" y="561" width="3" height="16" fill="#000"/>
<rect x="1079" y="562" width="1" height="14" fill="#fff"/>
<rect x="1080" y="559" width="1" height="24" fill="#ff0000"/>
<rect x="1079" y="561" width="3" height="13" fill="#ff0000"/>
<rect x="1080" y="562" width="1" height="11" fill="#ff8888"/>
<rect x="1080" y="554" width="1" height="32" fill="#ff0000"/>
<rect x="1079" y="556" width="3" height="28" fill="#ff0000"/>
<rect x="1080" y="557" width="1" height="26" fill="#ff8888"/>
<rect x="1082" y="575" width="1" height="16" fill="#ff0000"/>
<rect x="1081" y="577" width="3" height="10" fill="#ff0000"/>
<rect x="1082" y="578" width="1" height="8" fill="#ff8888"/>
<rect x="1084" y="576" width="1" height="15" fill="#ff0000"/>
<rect x="1083" y="580" width="3" height="8" fill="#ff0000"/>
<rect x="1084" y="581" width="1" height="6" fill="#ff8888"/>
<rect x="1086" y="566" width="1" height="17" fill="#000"/>
<rect x="1085" y="567" width="3" height="13" fill="#000"/>
<rect x="1086" y="568" width="1" height="11" fill="#fff"/>
<rect x="1087" y="572" width="1" height="22" fill="#ff0000"/>
<rect x="1086" y="577" width="3" height="13" fill="#ff0000"/>
<rect x="1087" y="578" width="1" height="11" fill="#ff8888"/>
<rect x="1088" y="575" width="1" height="16" fill="#ff0000"/>
<rect x="1087" y="586" width="3" height="4" fill="#ff0000"/>
<rect x="1088" y="587" width="1" height="2" fill="#ff8888"/>
<rect x="1089" y="577" width="1" height="16" fill="#ff0000"/>
<rect x="1088" y="582" width="3" height="8" fill="#ff0000"/>
<rect x="1089" y="583" width="1" height="6" fill="#ff8888"/>
<rect x="1091" y="583" width="1" height="21" fill="#ff0000"/>
<rect x="1090" y="584" width="3" height="17" fill="#ff0000"/>
<rect x="1091" y="585" width="1" height="15" fill="#ff8888"/>
<rect x="1093" y="630" width="1" height="37" fill="#ff0000"/>
<rect x="1092" y="630" width="3" height="36" fill="#ff0000"/>
<rect x="1093" y="631" width="1" height="34" fill="#ff8888"/>
<rect x="1094" y="661" width="1" height="5" fill="#ff0000"/>
<rect x="1093" y="665" width="3" height="1" fill="#ff0000"/>
<rect x="1094" y="664" width="1" height="22" fill="#ff0000"/>
<rect x="1093" y="665" width="3" height="10" fill="#ff0000"/>
<rect x="1094" y="666" width="1" height="8" fill="#ff8888"/>
<rect x="1096" y="663" width="1" height="32" fill="#000"/>
<rect x="1095" y="667" width="3" height="25" fill="#000"/>
<rect x="1096" y="668" width="1" height="23" fill="#fff"/>
<rect x="1097" y="661" width="1" height="30" fill="#ff0000"/>
<rect x="1096" y="665" width="3" height="19" fill="#ff0000"/>
<rect x="1097" y="666" width="1" height="17" fill="#ff8888"/>
<rect x="1099" y="678" width="1" height="13" fill="#ff0000"/>
<rect x="1098" y="680" width="3" height="8" fill="#ff0000"/>
<rect x="1099" y="681" width="1" height="6" fill="#ff8888"/>
<rect x="1101" y="670" width="1" height="16" fill="#000"/>
<rect x="1100" y="673" width="3" height="11" fill="#000"/>
<rect x="1101" y="674" width="1" height="9" fill="#fff"/>
<rect x="1103" y="679" width="1" height="12" fill="#ff0000"/>
<rect x="1102" y="680" width="3" height="10" fill="#ff0000"/>
<rect x="1103" y="681" width="1" height="8" fill="#ff8888"/>
<rect x="1104" y="675" width="1" height="15" fill="#000"/>
<rect x="1103" y="676" width="3" height="14" fill="#000"/>
<rect x="1104" y="677" width="1" height="12" fill="#fff"/>
<rect x="1105" y="663" width="1" height="28" fill="#000"/>
<rect x="1104" y="664" width="3" height="16" fill="#000"/>
<rect x="1105" y="665" width="1" height="14" fill="#fff"/>
<rect x="1107" y="663" width="1" height="12" fill="#ff0000"/>
<rect x="1106" y="664" width="3" height="9" fill="#ff0000"/>
<rect x="1107" y="665" width="1" height="7" fill="#ff8888"/>
<rect x="1108" y="668" width="1" height="14" fill="#ff0000"/>
<rect x="1107" y="672" width="3" height="7" fill="#ff0000"/>
<rect x="1108" y="673" width="1" height="5" fill="#ff8888"/>
<rect x="1109" y="675" width="1" height="7" fill="#ff0000"/>
<rect x="1108" y="678" width="3" height="2" fill="#ff0000"/>
<rect x="1110" y="673" width="1" height="23" fill="#ff0000"/>
<rect x="1109" y="674" width="3" height="21" fill="#ff0000"/>
<rect x="1110" y="675" width="1" height="19" fill="#ff8888"/>
<rect x="1112" y="681" width="1" height="16" fill="#ff0000"/>
<rect x="1111" y="686" width="3" height="7" fill="#ff0000"/>
<rect x="1112" y="687" width="1" height="5" fill="#ff8888"/>
<rect x="1114" y="674" width="1" height="22" fill="#000"/>
<rect x="1113" y="678" width="3" height="11" fill="#000"/>
<rect x="1114" y="679" width="1" height="9" fill="#fff"/>
<rect x="1115" y="674" width="1" height="9" fill="#000"/>
<rect x="1114" y="678" width="3" height="4" fill="#000"/>
<rect x="1115" y="679" width="1" height="2" fill="#fff"/>
<rect x="1116" y="673" width="1" height="11" fill="#000"/>
<rect x="1115" y="675" width="3" height="7" fill="#000"/>
<rect x="1116" y="676" width="1" height="5" fill="#fff"/>
<rect x="1118" y="660" width="1" height="16" fill="#000"/>
<rect x="1117" y="663" width="3" height="12" fill="#000"/>
<rect x="1118" y="664" width="1" height="10" fill="#fff"/>
<rect x="1119" y="662" width="1" height="8" fill="#000"/>
<rect x="1118" y="663" width="3" height="7" fill="#000"/>
<rect x="1119" y="664" width="1" height="5" fill="#fff"/>
<rect x="1120" y="658" width="1" height="14" fill="#000"/>
<rect x="1119" y="660" width="3" height="9" fill="#000"/>
<rect x="1120" y="661" width="1" height="7" fill="#fff"/>
<rect x="1121" y="671" width="1" height="15" fill="#ff0000"/>
<rect x="1120" y="674" width="3" height="7" fill="#ff0000"/>
<rect x="1121" y="675" width="1" height="5" fill="#ff8888"/>
<rect x="1123" y="679" width="1" height="13" fill="#ff0000"/>
<rect x="1122" y="682" width="3" height="8" fill="#ff0000"/>
<rect x="1123" y="683" width="1" height="6" fill="#ff8888"/>
<rect x="1124" y="666" width="1" height="28" fill="#000"/>
<rect x="1123" y="671" width="3" height="14" fill="#000"/>
<rect x="1124" y="672" width="1" height="12" fill="#fff"/>
<rect x="1126" y="661" width="1" height="11" fill="#000"/>
<rect x="1125" y="662" width="3" height="8" fill="#000"/>
<rect x="1126" y="663" width="1" height="6" fill="#fff"/>
<rect x="1127" y="658" width="1" height="14" fill="#000"/>
<rect x="1126" y="659" width="3" height="12" fill="#000"/>
<rect x="1127" y="660" width="1" height="10" fill="#fff"/>
<rect x="1128" y="609" width="1" height="40" fill="#000"/>
<rect x="1127" y="628" width="3" height="18" fill="#000"/>
<rect x="1128" y="629" width="1" height="16" fill="#fff"/>
<rect x="1130" y="612" width="1" height="18" fill="#000"/>
<rect x="1129" y="615" width="3" height="11" fill="#000"/>
<rect x="1130" y="616" width="1" height="9" fill="#fff"/>
<rect x="1132" y="611" width="1" height="19" fill="#ff0000"/>
<rect x="1131" y="617" width="3" height="10" fill="#ff0000"/>
<rect x="1132" y="618" width="1" height="8" fill="#ff8888"/>
<rect x="1133" y="616" width="1" height="12" fill="#ff0000"/>
<rect x="1132" y="616" width="3" height="11" fill="#ff0000"/>
<rect x="1133" y="617" width="1" height="9" fill="#ff8888"/>
<rect x="1135" y="603" width="1" height="23" fill="#ff0000"/>
<rect x="1134" y="609" width="3" height="10" fill="#ff0000"/>
<rect x="1135" y="610" width="1" height="8" fill="#ff8888"/>
<rect x="1136" y="622" width="1" height="25" fill="#ff0000"/>
<rect x="1135" y="623" width="3" height="21" fill="#ff0000"/>
<rect x="1136" y="624" width="1" height="19" fill="#ff8888"/>
<rect x="1137" y="619" width="1" height="26" fill="#000"/>
<rect x="1136" y="624" width="3" height="20" fill="#000"/>
<rect x="1137" y="625" width="1" height="18" fill="#fff"/>
<rect x="1138" y="586" width="1" height="58" fill="#000"/>
<rect x="1137" y="610" width="3" height="33" fill="#000"/>
<rect x="1138" y="611" width="1" height="31" fill="#fff"/>
<rect x="1140" y="590" width="1" height="24" fill="#ff0000"/>
<rect x="1139" y="599" width="3" height="12" fill="#ff0000"/>
<rect x="1140" y="600" width="1" height="10" fill="#ff8888"/>
<rect x="1141" y="589" width="1" height="6" fill="#ff0000"/>
<rect x="1140" y="590" width="3" height="5" fill="#ff0000"/>
<rect x="1141" y="591" width="1" height="3" fill="#ff8888"/>
<rect x="1143" y="595" width="1" height="21" fill="#000"/>
<rect x="1142" y="601" width="3" height="10" fill="#000"/>
<rect x="1143" y="602" width="1" height="8" fill="#fff"/>
<rect x="1144" y="598" width="1" height="15" fill="#ff0000"/>
<rect x="1143" y="601" width="3" height="10" fill="#ff0000"/>
<rect x="1144" y="602" width="1" height="8" fill="#ff8888"/>
<rect x="1145" y="600" width="1" height="14" fill="#ff0000"/>
<rect x="1144" y="603" width="3" height="7" fill="#ff0000"/>
<rect x="1145" y="604" width="1" height="5" fill="#ff8888"/>
<rect x="1147" y="605" width="1" height="9" fill="#ff0000"/>
<rect x="1146" y="607" width="3" height="6" fill="#ff0000"/>
<rect x="1147" y="608" width="1" height="4" fill="#ff8888"/>
<rect x="1147" y="599" width="3" height="15" fill="#000"/>
<rect x="1148" y="600" width="1" height="13" fill="#fff"/>
<rect x="1149" y="581" width="1" height="20" fill="#000"/>
<rect x="1148" y="587" width="3" height="13" fill="#000"/>
<rect x="1149" y="588" width="1" height="11" fill="#fff"/>
<rect x="1151" y="584" width="1" height="18" fill="#ff0000"/>
<rect x="1150" y="587" width="3" height="9" fill="#ff0000"/>
<rect x="1151" y="588" width="1" height="7" fill="#ff8888"/>
<rect x="1152" y="564" width="1" height="24" fill="#000"/>
<rect x="1151" y="575" width="3" height="12" fill="#000"/>
<rect x="1152" y="576" width="1" height="10" fill="#fff"/>
<rect x="1154" y="563" width="1" height="13" fill="#000"/>
<rect x="1153" y="569" width="3" height="6" fill="#000"/>
<rect x="1154" y="570" width="1" height="4" fill="#fff"/>
<rect x="1155" y="563" width="1" height="7" fill="#ff0000"/>
<rect x="1154" y="569" width="3" height="1" fill="#ff0000"/>
<rect x="1156" y="551" width="1" height="21" fill="#ff0000"/>
<rect x="1155" y="561" width="3" height="7" fill="#ff0000"/>
<rect x="1156" y="562" width="1" height="5" fill="#ff8888"/>
<rect x="1158" y="560" width="1" height="18" fill="#ff0000"/>
<rect x="1157" y="565" width="3" height="10" fill="#ff0000"/>
<rect x="1158" y="566" width="1" height="8" fill="#ff8888"/>
<rect x="1160" y="571" width="1" height="9" fill="#ff0000"/>
<rect x="1159" y="572" width="3" height="6" fill="#ff0000"/>
<rect x="1160" y="573" width="1" height="4" fill="#ff8888"/>
<rect x="1161" y="572" width="1" height="15" fill="#ff0000"/>
<rect x="1160" y="577" width="3" height="7" fill="#ff0000"/>
<rect x="1161" y="578" width="1" height="5" fill="#ff8888"/>
<rect x="1162" y="572" width="1" height="28" fill="#ff0000"/>
<rect x="1161" y="573" width="3" height="27" fill="#ff0000"/>
<rect x="1162" y="574" width="1" height="25" fill="#ff8888"/>
<rect x="1163" y="607" width="1" height="14" fill="#ff0000"/>
<rect x="1162" y="608" width="3" height="9" fill="#ff0000"/>
<rect x="1163" y="609" width="1" height="7" fill="#ff8888"/>
<rect x="1165" y="598" width="1" height="18" fill="#000"/>
<rect x="1164" y="604" width="3" height="11" fill="#000"/>
<rect x="1165" y="605" width="1" height="9" fill="#fff"/>
<rect x="1167" y="594" width="1" height="12" fill="#000"/>
<rect x="1166" y="597" width="3" height="6" fill="#000"/>
<rect x="1167" y="598" width="1" height="4" fill="#fff"/>
<rect x="1168" y="596" width="1" height="11" fill="#ff0000"/>
<rect x="1167" y="597" width="3" height="9" fill="#ff0000"/>
<rect x="1168" y="598" width="1" height="7" fill="#ff8888"/>
<rect x="1169" y="597" width="1" height="22" fill="#ff0000"/>
<rect x="1168" y="597" width="3" height="21" fill="#ff0000"/>
<rect x="1169" y="598" width="1" height="19" fill="#ff8888"/>
<rect x="1170" y="619" width="1" height="18" fill="#000"/>
<rect x="1169" y="620" width="3" height="10" fill="#000"/>
<rect x="1170" y="621" width="1" height="8" fill="#fff"/>
<rect x="1172" y="609" width="1" height="15" fill="#000"/>
<rect x="1171" y="612" width="3" height="8" fill="#000"/>
<rect x="1172" y="613" width="1" height="6" fill="#fff"/>
<rect x="1173" y="611" width="1" height="12" fill="#000"/>
<rect x="1172" y="614" width="3" height="7" fill="#000"/>
<rect x="1173" y="615" width="1" height="5" fill="#fff"/>
<rect x="1175" y="612" width="1" height="3" fill="#ff0000"/>
<rect x="1174" y="613" width="3" height="2" fill="#ff0000"/>
<rect x="1176" y="604" width="1" height="14" fill="#ff0000"/>
<rect x="1175" y="608" width="3" height="6" fill="#ff0000"/>
<rect x="1176" y="609" width="1" height="4" fill="#ff8888"/>
<rect x="1178" y="612" width="1" height="5" fill="#ff0000"/>
<rect x="1177" y="613" width="3" height="3" fill="#ff0000"/>
<rect x="1178" y="614" width="1" height="1" fill="#ff8888"/>
<rect x="1179" y="613" width="1" height="9" fill="#000"/>
<rect x="1178" y="615" width="3" height="3" fill="#000"/>
<rect x="1179" y="616" width="1" height="1" fill="#fff"/>
<rect x="1180" y="599" width="1" height="28" fill="#000"/>
<rect x="1179" y="607" width="3" height="11" fill="#000"/>
<rect x="1180" y="608" width="1" height="9" fill="#fff"/>
<rect x="1182" y="604" width="1" height="11" fill="#ff0000"/>
<rect x="1181" y="605" width="3" height="8" fill="#ff0000"/>
<rect x="1182" y="606" width="1" height="6" fill="#ff8888"/>
<rect x="1183" y="592" width="1" height="16" fill="#000"/>
<rect x="1182" y="595" width="3" height="10" fill="#000"/>
<rect x="1183" y="596" width="1" height="8" fill="#fff"/>
<rect x="1184" y="588" width="1" height="9" fill="#ff0000"/>
<rect x="1183" y="589" width="3" height="6" fill="#ff0000"/>
<rect x="1184" y="590" width="1" height="4" fill="#ff8888"/>
<rect x="1186" y="589" width="1" height="26" fill="#ff0000"/>
<rect x="1185" y="594" width="3" height="21" fill="#ff0000"/>
<rect x="1186" y="595" width="1" height="19" fill="#ff8888"/>
<rect x="1188" y="604" width="1" height="13" fill="#ff0000"/>
<rect x="1187" y="607" width="3" height="8" fill="#ff0000"/>
<rect x="1188" y="608" width="1" height="6" fill="#ff8888"/>
<rect x="1189" y="608" width="1" height="30" fill="#ff0000"/>
<rect x="1188" y="608" width="3" height="29" fill="#ff0000"/>
<rect x="1189" y="609" width="1" height="27" fill="#ff8888"/>
<rect x="1191" y="641" width="1" height="16" fill="#000"/>
<rect x="1190" y="642" width="3" height="9" fill="#000"/>
<rect x="1191" y="643" width="1" height="7" fill="#fff"/>
<rect x="1192" y="642" width="1" height="7" fill="#ff0000"/>
<rect x="1191" y="642" width="3" height="4" fill="#ff0000"/>
<rect x="1192" y="643" width="1" height="2" fill="#ff8888"/>
<rect x="1193" y="639" width="1" height="23" fill="#ff0000"/>
<rect x="1192" y="642" width="3" height="20" fill="#ff0000"/>
<rect x="1193" y="643" width="1" height="18" fill="#ff8888"/>
<rect x="1194" y="639" width="1" height="13" fill="#ff0000"/>
<rect x="1193" y="641" width="3" height="9" fill="#ff0000"/>
<rect x="1194" y="642" width="1" height="7" fill="#ff8888"/>
<rect x="1196" y="649" width="1" height="16" fill="#000"/>
<rect x="1195" y="651" width="3" height="11" fill="#000"/>
<rect x="1196" y="652" width="1" height="9" fill="#fff"/>
<rect x="1198" y="646" width="1" height="12" fill="#000"/>
<rect x="1197" y="649" width="3" height="7" fill="#000"/>
<rect x="1198" y="650" width="1" height="5" fill="#fff"/>
<rect x="1199" y="645" width="1" height="9" fill="#000"/>
<rect x="1198" y="649" width="3" height="1" fill="#000"/>
<rect x="1200" y="640" width="1" height="15" fill="#000"/>
<rect x="1199" y="643" width="3" height="8" fill="#000"/>
<rect x="1200" y="644" width="1" height="6" fill="#fff"/>
<rect x="1201" y="647" width="1" height="12" fill="#000"/>
<rect x="1200" y="650" width="3" height="8" fill="#000"/>
<rect x="1201" y="651" width="1" height="6" fill="#fff"/>
<rect x="1203" y="645" width="1" height="9" fill="#ff0000"/>
<rect x="1202" y="650" width="3" height="2" fill="#ff0000"/>
<rect x="1204" y="643" width="1" height="12" fill="#ff0000"/>
<rect x="1203" y="646" width="3" height="8" fill="#ff0000"/>
<rect x="1204" y="647" width="1" height="6" fill="#ff8888"/>
<rect x="1205" y="648" width="1" height="11" fill="#000"/>
<rect x="1204" y="649" width="3" height="7" fill="#000"/>
<rect x="1205" y="650" width="1" height="5" fill="#fff"/>
<rect x="1208" y="644" width="1" height="9" fill="#000"/>
<rect x="1207" y="645" width="3" height="6" fill="#000"/>
<rect x="1208" y="646" width="1" height="4" fill="#fff"/>
<rect x="1209" y="645" width="1" height="6" fill="#ff0000"/>
<rect x="1208" y="645" width="3" height="4" fill="#ff0000"/>
<rect x="1209" y="646" width="1" height="2" fill="#ff8888"/>
<rect x="1210" y="642" width="1" height="9" fill="#ff0000"/>
<rect x="1209" y="644" width="3" height="5" fill="#ff0000"/>
<rect x="1210" y="645" width="1" height="3" fill="#ff8888"/>
<rect x="1211" y="646" width="1" height="6" fill="#ff0000"/>
<rect x="1210" y="647" width="3" height="4" fill="#ff0000"/>
<rect x="1211" y="648" width="1" height="2" fill="#ff8888"/>
<rect x="1213" y="649" width="1" height="10" fill="#ff0000"/>
<rect x="1212" y="651" width="3" height="5" fill="#ff0000"/>
<rect x="1213" y="652" width="1" height="3" fill="#ff8888"/>
<rect x="1213" y="655" width="3" height="2" fill="#ff0000"/>
<rect x="1215" y="653" width="1" height="6" fill="#ff0000"/>
<rect x="1214" y="655" width="3" height="3" fill="#ff0000"/>
<rect x="1215" y="656" width="1" height="1" fill="#ff8888"/>
<rect x="1217" y="654" width="1" height="15" fill="#ff0000"/>
<rect x="1216" y="655" width="3" height="4" fill="#ff0000"/>
<rect x="1217" y="656" width="1" height="2" fill="#ff8888"/>
<rect x="1218" y="647" width="1" height="10" fill="#000"/>
<rect x="1217" y="649" width="3" height="6" fill="#000"/>
<rect x="1218" y="650" width="1" height="4" fill="#fff"/>
<rect x="1220" y="649" width="1" height="5" fill="#ff0000"/>
<rect x="1219" y="649" width="3" height="3" fill="#ff0000"/>
<rect x="1220" y="650" width="1" height="1" fill="#ff8888"/>
<rect x="1221" y="649" width="1" height="6" fill="#ff0000"/>
<rect x="1220" y="650" width="3" height="4" fill="#ff0000"/>
<rect x="1221" y="651" width="1" height="2" fill="#ff8888"/>
<rect x="1223" y="652" width="1" height="5" fill="#ff0000"/>
<rect x="1222" y="653" width="3" height="4" fill="#ff0000"/>
<rect x="1223" y="654" width="1" height="2" fill="#ff8888"/>
<rect x="1223" y="655" width="3" height="2" fill="#000"/>
<rect x="1225" y="653" width="1" height="7" fill="#000"/>
<rect x="1224" y="654" width="3" height="6" fill="#000"/>
<rect x="1225" y="655" width="1" height="4" fill="#fff"/>
<rect x="1227" y="614" width="1" height="36" fill="#000"/>
<rect x="1226" y="627" width="3" height="23" fill="#000"/>
<rect x="1227" y="628" width="1" height="21" fill="#fff"/>
<rect x="1228" y="620" width="1" height="10" fill="#000"/>
<rect x="1227" y="626" width="3" height="2" fill="#000"/>
<rect x="1229" y="613" width="1" height="16" fill="#000"/>
<rect x="1228" y="618" width="3" height="10" fill="#000"/>
<rect x="1229" y="619" width="1" height="8" fill="#fff"/>
<rect x="1231" y="614" width="1" height="13" fill="#ff0000"/>
<rect x="1230" y="615" width="3" height="9" fill="#ff0000"/>
<rect x="1231" y="616" width="1" height="7" fill="#ff8888"/>
<rect x="1233" y="612" width="1" height="9" fill="#ff0000"/>
<rect x="1232" y="614" width="3" height="6" fill="#ff0000"/>
<rect x="1233" y="615" width="1" height="4" fill="#ff8888"/>
<rect x="1234" y="607" width="1" height="11" fill="#ff0000"/>
<rect x="1233" y="609" width="3" height="6" fill="#ff0000"/>
<rect x="1234" y="610" width="1" height="4" fill="#ff8888"/>
<rect x="1236" y="609" width="1" height="17" fill="#ff0000"/>
<rect x="1235" y="615" width="3" height="11" fill="#ff0000"/>
<rect x="1236" y="616" width="1" height="9" fill="#ff8888"/>
<rect x="1237" y="617" width="1" height="9" fill="#000"/>
<rect x="1236" y="620" width="3" height="6" fill="#000"/>
<rect x="1237" y="621" width="1" height="4" fill="#fff"/>
<rect x="1237" y="614" width="1" height="12" fill="#000"/>
<rect x="1236" y="616" width="3" height="8" fill="#000"/>
<rect x="1237" y="617" width="1" height="6" fill="#fff"/>
<rect x="1239" y="602" width="1" height="19" fill="#000"/>
<rect x="1238" y="604" width="3" height="17" fill="#000"/>
<rect x="1239" y="605" width="1" height="15" fill="#fff"/>
<rect x="1241" y="610" width="1" height="8" fill="#ff0000"/>
<rect x="1240" y="611" width="3" height="5" fill="#ff0000"/>
<rect x="1241" y="612" width="1" height="3" fill="#ff8888"/>
<rect x="1242" y="616" width="1" height="37" fill="#ff0000"/>
<rect x="1241" y="617" width="3" height="35" fill="#ff0000"/>
<rect x="1242" y="618" width="1" height="33" fill="#ff8888"/>
<rect x="1243" y="649" width="1" height="33" fill="#ff0000"/>
<rect x="1242" y="651" width="3" height="29" fill="#ff0000"/>
<rect x="1243" y="652" width="1" height="27" fill="#ff8888"/>
<rect x="1245" y="647" width="1" height="39" fill="#000"/>
<rect x="1244" y="654" width="3" height="20" fill="#000"/>
<rect x="1245" y="655" width="1" height="18" fill="#fff"/>
<rect x="1246" y="651" width="1" height="21" fill="#ff0000"/>
<rect x="1245" y="657" width="3" height="9" fill="#ff0000"/>
<rect x="1246" y="658" width="1" height="7" fill="#ff8888"/>
<rect x="1248" y="655" width="1" height="17" fill="#ff0000"/>
<rect x="1247" y="658" width="3" height="10" fill="#ff0000"/>
<rect x="1248" y="659" width="1" height="8" fill="#ff8888"/>
<rect x="1249" y="657" width="1" height="10" fill="#000"/>
<rect x="1248" y="659" width="3" height="7" fill="#000"/>
<rect x="1249" y="660" width="1" height="5" fill="#fff"/>
<rect x="1251" y="658" width="1" height="11" fill="#ff0000"/>
<rect x="1250" y="661" width="3" height="5" fill="#ff0000"/>
<rect x="1251" y="662" width="1" height="3" fill="#ff8888"/>
<rect x="1252" y="663" width="1" height="4" fill="#ff0000"/>
<rect x="1251" y="665" width="3" height="1" fill="#ff0000"/>
<rect x="1253" y="664" width="1" height="6" fill="#ff0000"/>
<rect x="1252" y="665" width="3" height="4" fill="#ff0000"/>
<rect x="1253" y="666" width="1" height="2" fill="#ff8888"/>
<rect x="1255" y="676" width="1" height="9" fill="#ff0000"/>
<rect x="1254" y="678" width="3" height="5" fill="#ff0000"/>
<rect x="1255" y="679" width="1" height="3" fill="#ff8888"/>
<rect x="1258" y="672" width="1" height="11" fill="#000"/>
<rect x="1257" y="674" width="3" height="6" fill="#000"/>
<rect x="1258" y="675" width="1" height="4" fill="#fff"/>
<rect x="1259" y="671" width="1" height="6" fill="#ff0000"/>
<rect x="1258" y="672" width="3" height="3" fill="#ff0000"/>
<rect x="1259" y="673" width="1" height="1" fill="#ff8888"/>
<rect x="1260" y="667" width="1" height="7" fill="#ff0000"/>
<rect x="1259" y="669" width="3" height="4" fill="#ff0000"/>
<rect x="1260" y="670" width="1" height="2" fill="#ff8888"/>
<rect x="1262" y="665" width="1" height="10" fill="#ff0000"/>
<rect x="1261" y="666" width="3" height="6" fill="#ff0000"/>
<rect x="1262" y="667" width="1" height="4" fill="#ff8888"/>
<rect x="1263" y="660" width="1" height="11" fill="#000"/>
<rect x="1262" y="663" width="3" height="8" fill="#000"/>
<rect x="1263" y="664" width="1" height="6" fill="#fff"/>
<rect x="1264" y="655" width="1" height="12" fill="#000"/>
<rect x="1263" y="655" width="3" height="11" fill="#000"/>
<rect x="1264" y="656" width="1" height="9" fill="#fff"/>
<rect x="1266" y="654" width="1" height="4" fill="#000"/>
<rect x="1265" y="654" width="3" height="3" fill="#000"/>
<rect x="1266" y="655" width="1" height="1" fill="#fff"/>
<rect x="1267" y="654" width="1" height="5" fill="#ff0000"/>
<rect x="1266" y="654" width="3" height="3" fill="#ff0000"/>
<rect x="1267" y="655" width="1" height="1" fill="#ff8888"/>
<rect x="1268" y="654" width="1" height="7" fill="#ff0000"/>
<rect x="1267" y="655" width="3" height="4" fill="#ff0000"/>
<rect x="1268" y="656" width="1" height="2" fill="#ff8888"/>
<rect x="1270" y="658" width="1" height="4" fill="#ff0000"/>
<rect x="1269" y="659" width="3" height="3" fill="#ff0000"/>
<rect x="1270" y="660" width="1" height="1" fill="#ff8888"/>
<rect x="1272" y="660" width="1" height="3" fill="#ff0000"/>
<rect x="1271" y="661" width="3" height="1" fill="#ff0000"/>
<rect x="1272" y="660" width="1" height="6" fill="#ff0000"/>
<rect x="1271" y="662" width="3" height="2" fill="#ff0000"/>
<rect x="1274" y="655" width="1" height="6" fill="#ff0000"/>
<rect x="1273" y="656" width="3" height="4" fill="#ff0000"/>
<rect x="1274" y="657" width="1" height="2" fill="#ff8888"/>
<rect x="1276" y="654" width="1" height="6" fill="#000"/>
<rect x="1275" y="655" width="3" height="5" fill="#000"/>
<rect x="1276" y="656" width="1" height="3" fill="#fff"/>
<rect x="1277" y="648" width="1" height="11" fill="#000"/>
<rect x="1276" y="651" width="3" height="5" fill="#000"/>
<rect x="1277" y="652" width="1" height="3" fill="#fff"/>
<rect x="1279" y="647" width="1" height="10" fill="#ff0000"/>
<rect x="1278" y="653" width="3" height="4" fill="#ff0000"/>
<rect x="1279" y="654" width="1" height="2" fill="#ff8888"/>
<rect x="1280" y="654" width="1" height="7" fill="#ff0000"/>
<rect x="1279" y="655" width="3" height="5" fill="#ff0000"/>
<rect x="1280" y="656" width="1" height="3" fill="#ff8888"/>
<rect x="1281" y="658" width="1" height="6" fill="#ff0000"/>
<rect x="1280" y="659" width="3" height="3" fill="#ff0000"/>
<rect x="1281" y="660" width="1" height="1" fill="#ff8888"/>
<rect x="1282" y="659" width="1" height="13" fill="#ff0000"/>
<rect x="1281" y="661" width="3" height="7" fill="#ff0000"/>
<rect x="1282" y="662" width="1" height="5" fill="#ff8888"/>
<rect x="1284" y="669" width="1" height="6" fill="#ff0000"/>
<rect x="1283" y="670" width="3" height="4" fill="#ff0000"/>
<rect x="1284" y="671" width="1" height="2" fill="#ff8888"/>
<rect x="1286" y="665" width="1" height="7" fill="#000"/>
<rect x="1285" y="666" width="3" height="5" fill="#000"/>
<rect x="1286" y="667" width="1" height="3" fill="#fff"/>
<rect x="1287" y="666" width="1" height="3" fill="#ff0000"/>
<rect x="1286" y="666" width="3" height="2" fill="#ff0000"/>
<rect x="1288" y="665" width="1" height="3" fill="#ff0000"/>
<rect x="1287" y="666" width="3" height="2" fill="#ff0000"/>
<rect x="1290" y="666" width="1" height="2" fill="#ff0000"/>
<rect x="1289" y="667" width="3" height="1" fill="#ff0000"/>
<rect x="1291" y="664" width="1" height="5" fill="#ff0000"/>
<rect x="1290" y="664" width="3" height="4" fill="#ff0000"/>
<rect x="1291" y="665" width="1" height="2" fill="#ff8888"/>
<rect x="1293" y="667" width="1" height="5" fill="#ff0000"/>
<rect x="1292" y="669" width="3" height="3" fill="#ff0000"/>
<rect x="1293" y="670" width="1" height="1" fill="#ff8888"/>
<rect x="1293" y="668" width="3" height="4" fill="#000"/>
<rect x="1294" y="669" width="1" height="2" fill="#fff"/>
<rect x="1295" y="665" width="1" height="7" fill="#000"/>
<rect x="1294" y="667" width="3" height="4" fill="#000"/>
<rect x="1295" y="668" width="1" height="2" fill="#fff"/>
<rect x="1297" y="666" width="1" height="3" fill="#ff0000"/>
<rect x="1296" y="667" width="3" height="2" fill="#ff0000"/>
<rect x="1298" y="666" width="1" height="3" fill="#ff0000"/>
<rect x="1297" y="667" width="3" height="2" fill="#ff0000"/>
<rect x="1300" y="659" width="1" height="9" fill="#000"/>
<rect x="1299" y="661" width="3" height="5" fill="#000"/>
<rect x="1300" y="662" width="1" height="3" fill="#fff"/>
<rect x="1301" y="659" width="1" height="4" fill="#ff0000"/>
<rect x="1300" y="659" width="3" height="3" fill="#ff0000"/>
<rect x="1301" y="660" width="1" height="1" fill="#ff8888"/>
<rect x="1302" y="656" width="1" height="6" fill="#000"/>
<rect x="1301" y="657" width="3" height="5" fill="#000"/>
<rect x="1302" y="658" width="1" height="3" fill="#fff"/>
<rect x="1303" y="649" width="1" height="13" fill="#000"/>
<rect x="1302" y="650" width="3" height="11" fill="#000"/>
<rect x="1303" y="651" width="1" height="9" fill="#fff"/>
<rect x="1305" y="648" width="1" height="4" fill="#000"/>
<rect x="1304" y="649" width="3" height="2" fill="#000"/>
<rect x="1306" y="645" width="3" height="5" fill="#000"/>
<rect x="1307" y="646" width="1" height="3" fill="#fff"/>
<rect x="1308" y="636" width="1" height="14" fill="#000"/>
<rect x="1307" y="638" width="3" height="11" fill="#000"/>
<rect x="1308" y="639" width="1" height="9" fill="#fff"/>
<rect x="1310" y="631" width="1" height="8" fill="#000"/>
<rect x="1309" y="633" width="3" height="4" fill="#000"/>
<rect x="1310" y="634" width="1" height="2" fill="#fff"/>
<rect x="1311" y="611" width="1" height="11" fill="#000"/>
<rect x="1310" y="613" width="3" height="5" fill="#000"/>
<rect x="1311" y="614" width="1" height="3" fill="#fff"/>
<rect x="1313" y="611" width="1" height="9" fill="#ff0000"/>
<rect x="1312" y="613" width="3" height="6" fill="#ff0000"/>
<rect x="1313" y="614" width="1" height="4" fill="#ff8888"/>
<rect x="1314" y="616" width="1" height="9" fill="#ff0000"/>
<rect x="1313" y="617" width="3" height="6" fill="#ff0000"/>
<rect x="1314" y="618" width="1" height="4" fill="#ff8888"/>
<rect x="1315" y="611" width="1" height="11" fill="#000"/>
<rect x="1314" y="614" width="3" height="8" fill="#000"/>
<rect x="1315" y="615" width="1" height="6" fill="#fff"/>
<rect x="1317" y="605" width="1" height="14" fill="#000"/>
<rect x="1316" y="607" width="3" height="10" fill="#000"/>
<rect x="1317" y="608" width="1" height="8" fill="#fff"/>
<rect x="1318" y="607" width="1" height="8" fill="#ff0000"/>
<rect x="1317" y="607" width="3" height="6" fill="#ff0000"/>
<rect x="1318" y="608" width="1" height="4" fill="#ff8888"/>
<rect x="1319" y="606" width="1" height="9" fill="#ff0000"/>
<rect x="1318" y="608" width="3" height="5" fill="#ff0000"/>
<rect x="1319" y="609" width="1" height="3" fill="#ff8888"/>
<rect x="1321" y="606" width="1" height="16" fill="#ff0000"/>
<rect x="1320" y="610" width="3" height="10" fill="#ff0000"/>
<rect x="1321" y="611" width="1" height="8" fill="#ff8888"/>
<rect x="1322" y="611" width="1" height="9" fill="#000"/>
<rect x="1321" y="612" width="3" height="8" fill="#000"/>
<rect x="1322" y="613" width="1" height="6" fill="#fff"/>
<rect x="1323" y="611" width="1" height="7" fill="#000"/>
<rect x="1322" y="613" width="3" height="5" fill="#000"/>
<rect x="1323" y="614" width="1" height="3" fill="#fff"/>
<rect x="1325" y="604" width="1" height="14" fill="#ff0000"/>
<rect x="1324" y="605" width="3" height="12" fill="#ff0000"/>
<rect x="1325" y="606" width="1" height="10" fill="#ff8888"/>
<rect x="1326" y="613" width="1" height="4" fill="#000"/>
<rect x="1325" y="614" width="3" height="3" fill="#000"/>
<rect x="1326" y="615" width="1" height="1" fill="#fff"/>
<rect x="1327" y="611" width="1" height="8" fill="#000"/>
<rect x="1326" y="613" width="3" height="5" fill="#000"/>
<rect x="1327" y="614" width="1" height="3" fill="#fff"/>
<rect x="1329" y="595" width="1" height="20" fill="#000"/>
<rect x="1328" y="602" width="3" height="12" fill="#000"/>
<rect x="1329" y="603" width="1" height="10" fill="#fff"/>
<rect x="1330" y="601" width="1" height="6" fill="#000"/>
<rect x="1329" y="602" width="3" height="4" fill="#000"/>
<rect x="1330" y="603" width="1" height="2" fill="#fff"/>
<rect x="1331" y="601" width="1" height="7" fill="#000"/>
<rect x="1330" y="602" width="3" height="5" fill="#000"/>
<rect x="1331" y="603" width="1" height="3" fill="#fff"/>
<rect x="1333" y="602" width="1" height="8" fill="#ff0000"/>
<rect x="1332" y="603" width="3" height="6" fill="#ff0000"/>
<rect x="1333" y="604" width="1" height="4" fill="#ff8888"/>
<rect x="1335" y="599" width="1" height="11" fill="#ff0000"/>
<rect x="1334" y="601" width="3" height="7" fill="#ff0000"/>
<rect x="1335" y="602" width="1" height="5" fill="#ff8888"/>
<rect x="1336" y="602" width="1" height="9" fill="#ff0000"/>
<rect x="1335" y="605" width="3" height="3" fill="#ff0000"/>
<rect x="1336" y="606" width="1" height="1" fill="#ff8888"/>
<rect x="1337" y="603" width="1" height="20" fill="#ff0000"/>
<rect x="1336" y="604" width="3" height="19" fill="#ff0000"/>
<rect x="1337" y="605" width="1" height="17" fill="#ff8888"/>
<rect x="1339" y="620" width="1" height="10" fill="#ff0000"/>
<rect x="1338" y="622" width="3" height="6" fill="#ff0000"/>
<rect x="1339" y="623" width="1" height="4" fill="#ff8888"/>
<rect x="1340" y="615" width="1" height="13" fill="#000"/>
<rect x="1339" y="621" width="3" height="7" fill="#000"/>
<rect x="1340" y="622" width="1" height="5" fill="#fff"/>
<rect x="1341" y="601" width="1" height="28" fill="#000"/>
<rect x="1340" y="601" width="3" height="27" fill="#000"/>
<rect x="1341" y="602" width="1" height="25" fill="#fff"/>
<rect x="1343" y="599" width="1" height="12" fill="#ff0000"/>
<rect x="1342" y="601" width="3" height="6" fill="#ff0000"/>
<rect x="1343" y="602" width="1" height="4" fill="#ff8888"/>
<rect x="1344" y="590" width="1" height="17" fill="#ff0000"/>
<rect x="1343" y="599" width="3" height="6" fill="#ff0000"/>
<rect x="1344" y="600" width="1" height="4" fill="#ff8888"/>
<rect x="1345" y="594" width="1" height="12" fill="#000"/>
<rect x="1344" y="595" width="3" height="9" fill="#000"/>
<rect x="1345" y="596" width="1" height="7" fill="#fff"/>
<rect x="1347" y="595" width="1" height="12" fill="#ff0000"/>
<rect x="1346" y="596" width="3" height="8" fill="#ff0000"/>
<rect x="1347" y="597" width="1" height="6" fill="#ff8888"/>
<rect x="1349" y="602" width="1" height="10" fill="#ff0000"/>
<rect x="1348" y="604" width="3" height="7" fill="#ff0000"/>
<rect x="1349" y="605" width="1" height="5" fill="#ff8888"/>
<rect x="1350" y="602" width="1" height="11" fill="#ff0000"/>
<rect x="1349" y="605" width="3" height="6" fill="#ff0000"/>
<rect x="1350" y="606" width="1" height="4" fill="#ff8888"/>
<rect x="1352" y="601" width="1" height="14" fill="#ff0000"/>
<rect x="1351" y="604" width="3" height="7" fill="#ff0000"/>
<rect x="1352" y="605" width="1" height="5" fill="#ff8888"/>
<rect x="1353" y="606" width="1" height="6" fill="#000"/>
<rect x="1352" y="607" width="3" height="4" fill="#000"/>
<rect x="1353" y="608" width="1" height="2" fill="#fff"/>
<rect x="1354" y="605" width="1" height="7" fill="#ff0000"/>
<rect x="1353" y="607" width="3" height="3" fill="#ff0000"/>
<rect x="1354" y="608" width="1" height="1" fill="#ff8888"/>
<rect x="1356" y="606" width="1" height="6" fill="#ff0000"/>
<rect x="1355" y="607" width="3" height="5" fill="#ff0000"/>
<rect x="1356" y="608" width="1" height="3" fill="#ff8888"/>
<rect x="1357" y="603" width="1" height="10" fill="#ff0000"/>
<rect x="1356" y="607" width="3" height="5" fill="#ff0000"/>
<rect x="1357" y="608" width="1" height="3" fill="#ff8888"/>
<rect x="1358" y="601" width="1" height="17" fill="#ff0000"/>
<rect x="1357" y="602" width="3" height="16" fill="#ff0000"/>
<rect x="1358" y="603" width="1" height="14" fill="#ff8888"/>
<rect x="1360" y="614" width="1" height="5" fill="#ff0000"/>
<rect x="1359" y="615" width="3" height="3" fill="#ff0000"/>
<rect x="1360" y="616" width="1" height="1" fill="#ff8888"/>
<rect x="1361" y="615" width="1" height="3" fill="#ff0000"/>
<rect x="1360" y="616" width="3" height="2" fill="#ff0000"/>
<rect x="1362" y="616" width="1" height="4" fill="#ff0000"/>
<rect x="1361" y="616" width="3" height="3" fill="#ff0000"/>
<rect x="1362" y="617" width="1" height="1" fill="#ff8888"/>
<rect x="1364" y="618" width="1" height="13" fill="#ff0000"/>
<rect x="1363" y="618" width="3" height="4" fill="#ff0000"/>
<rect x="1364" y="619" width="1" height="2" fill="#ff8888"/>
<rect x="1365" y="618" width="1" height="26" fill="#ff0000"/>
<rect x="1364" y="619" width="3" height="18" fill="#ff0000"/>
<rect x="1365" y="620" width="1" height="16" fill="#ff8888"/>
<rect x="1368" y="598" width="1" height="19" fill="#000"/>
<rect x="1367" y="598" width="3" height="18" fill="#000"/>
<rect x="1368" y="599" width="1" height="16" fill="#fff"/>
<rect x="1369" y="585" width="1" height="26" fill="#000"/>
<rect x="1368" y="599" width="3" height="11" fill="#000"/>
<rect x="1369" y="600" width="1" height="9" fill="#fff"/>
<rect x="1371" y="598" width="1" height="4" fill="#000"/>
<rect x="1370" y="599" width="3" height="1" fill="#000"/>
<rect x="1372" y="589" width="1" height="17" fill="#000"/>
<rect x="1371" y="590" width="3" height="12" fill="#000"/>
<rect x="1372" y="591" width="1" height="10" fill="#fff"/>
<rect x="1374" y="581" width="1" height="13" fill="#ff0000"/>
<rect x="1373" y="584" width="3" height="9" fill="#ff0000"/>
<rect x="1374" y="585" width="1" height="7" fill="#ff8888"/>
<rect x="1375" y="582" width="1" height="11" fill="#ff0000"/>
<rect x="1374" y="584" width="3" height="9" fill="#ff0000"/>
<rect x="1375" y="585" width="1" height="7" fill="#ff8888"/>
<rect x="1376" y="579" width="1" height="14" fill="#ff0000"/>
<rect x="1375" y="582" width="3" height="9" fill="#ff0000"/>
<rect x="1376" y="583" width="1" height="7" fill="#ff8888"/>
<rect x="1378" y="581" width="1" height="13" fill="#ff0000"/>
<rect x="1377" y="585" width="3" height="6" fill="#ff0000"/>
<rect x="1378" y="586" width="1" height="4" fill="#ff8888"/>
<rect x="1379" y="575" width="1" height="20" fill="#ff0000"/>
<rect x="1378" y="582" width="3" height="13" fill="#ff0000"/>
<rect x="1379" y="583" width="1" height="11" fill="#ff8888"/>
<rect x="1381" y="582" width="1" height="14" fill="#ff0000"/>
<rect x="1380" y="584" width="3" height="8" fill="#ff0000"/>
<rect x="1381" y="585" width="1" height="6" fill="#ff8888"/>
<rect x="1382" y="586" width="1" height="14" fill="#ff0000"/>
<rect x="1381" y="589" width="3" height="7" fill="#ff0000"/>
<rect x="1382" y="590" width="1" height="5" fill="#ff8888"/>
<rect x="1383" y="582" width="3" height="6" fill="#000"/>
<rect x="1384" y="583" width="1" height="4" fill="#fff"/>
<rect x="1384" y="582" width="3" height="3" fill="#000"/>
<rect x="1385" y="583" width="1" height="1" fill="#fff"/>
<rect x="1386" y="578" width="1" height="8" fill="#000"/>
<rect x="1385" y="579" width="3" height="6" fill="#000"/>
<rect x="1386" y="580" width="1" height="4" fill="#fff"/>
<rect x="1388" y="578" width="1" height="6" fill="#ff0000"/>
<rect x="1387" y="579" width="3" height="5" fill="#ff0000"/>
<rect x="1388" y="580" width="1" height="3" fill="#ff8888"/>
<rect x="1389" y="577" width="1" height="10" fill="#000"/>
<rect x="1388" y="578" width="3" height="7" fill="#000"/>
<rect x="1389" y="579" width="1" height="5" fill="#fff"/>
<rect x="1390" y="564" width="1" height="21" fill="#000"/>
<rect x="1389" y="573" width="3" height="12" fill="#000"/>
<rect x="1390" y="574" width="1" height="10" fill="#fff"/>
<rect x="1392" y="568" width="1" height="7" fill="#000"/>
<rect x="1391" y="569" width="3" height="5" fill="#000"/>
<rect x="1392" y="570" width="1" height="3" fill="#fff"/>
<rect x="1393" y="567" width="1" height="9" fill="#ff0000"/>
<rect x="1392" y="568" width="3" height="6" fill="#ff0000"/>
<rect x="1393" y="569" width="1" height="4" fill="#ff8888"/>
<rect x="1395" y="571" width="1" height="5" fill="#ff0000"/>
<rect x="1394" y="572" width="3" height="3" fill="#ff0000"/>
<rect x="1395" y="573" width="1" height="1" fill="#ff8888"/>
<rect x="1396" y="568" width="1" height="8" fill="#000"/>
<rect x="1395" y="571" width="3" height="4" fill="#000"/>
<rect x="1396" y="572" width="1" height="2" fill="#fff"/>
<rect x="1398" y="567" width="1" height="7" fill="#000"/>
<rect x="1397" y="570" width="3" height="2" fill="#000"/>
<rect x="1398" y="564" width="1" height="11" fill="#000"/>
<rect x="1397" y="565" width="3" height="8" fill="#000"/>
<rect x="1398" y="566" width="1" height="6" fill="#fff"/>
<rect x="1400" y="552" width="1" height="17" fill="#000"/>
<rect x="1399" y="553" width="3" height="15" fill="#000"/>
<rect x="1400" y="554" width="1" height="13" fill="#fff"/>
<rect x="1401" y="536" width="1" height="18" fill="#000"/>
<rect x="1400" y="537" width="3" height="16" fill="#000"/>
<rect x="1401" y="538" width="1" height="14" fill="#fff"/>
<rect x="1403" y="536" width="1" height="9" fill="#ff0000"/>
<rect x="1402" y="538" width="3" height="5" fill="#ff0000"/>
<rect x="1403" y="539" width="1" height="3" fill="#ff8888"/>
<rect x="1405" y="538" width="1" height="16" fill="#ff0000"/>
<rect x="1404" y="541" width="3" height="9" fill="#ff0000"/>
<rect x="1405" y="542" width="1" height="7" fill="#ff8888"/>
<rect x="1406" y="539" width="1" height="21" fill="#ff0000"/>
<rect x="1405" y="541" width="3" height="18" fill="#ff0000"/>
<rect x="1406" y="542" width="1" height="16" fill="#ff8888"/>
<rect x="1408" y="557" width="1" height="21" fill="#ff0000"/>
<rect x="1407" y="561" width="3" height="13" fill="#ff0000"/>
<rect x="1408" y="562" width="1" height="11" fill="#ff8888"/>
<rect x="1408" y="571" width="3" height="3" fill="#000"/>
<rect x="1409" y="572" width="1" height="1" fill="#fff"/>
<rect x="1410" y="572" width="1" height="8" fill="#ff0000"/>
<rect x="1409" y="573" width="3" height="5" fill="#ff0000"/>
<rect x="1410" y="574" width="1" height="3" fill="#ff8888"/>
<rect x="1411" y="573" width="1" height="9" fill="#000"/>
<rect x="1410" y="574" width="3" height="6" fill="#000"/>
<rect x="1411" y="575" width="1" height="4" fill="#fff"/>
<rect x="1413" y="559" width="1" height="17" fill="#ff0000"/>
<rect x="1412" y="565" width="3" height="11" fill="#ff0000"/>
<rect x="1413" y="566" width="1" height="9" fill="#ff8888"/>
<rect x="1415" y="563" width="1" height="8" fill="#ff0000"/>
<rect x="1414" y="565" width="3" height="5" fill="#ff0000"/>
<rect x="1415" y="566" width="1" height="3" fill="#ff8888"/>
<rect x="1416" y="568" width="1" height="5" fill="#ff0000"/>
<rect x="1415" y="569" width="3" height="4" fill="#ff0000"/>
<rect x="1416" y="570" width="1" height="2" fill="#ff8888"/>
<rect x="1417" y="568" width="1" height="14" fill="#ff0000"/>
<rect x="1416" y="572" width="3" height="9" fill="#ff0000"/>
<rect x="1417" y="573" width="1" height="7" fill="#ff8888"/>
<rect x="1418" y="568" width="1" height="12" fill="#ff0000"/>
<rect x="1417" y="571" width="3" height="8" fill="#ff0000"/>
<rect x="1418" y="572" width="1" height="6" fill="#ff8888"/>
<rect x="1420" y="569" width="1" height="7" fill="#000"/>
<rect x="1419" y="570" width="3" height="5" fill="#000"/>
<rect x="1420" y="571" width="1" height="3" fill="#fff"/>
<rect x="1422" y="555" width="1" height="16" fill="#000"/>
<rect x="1421" y="555" width="3" height="15" fill="#000"/>
<rect x="1422" y="556" width="1" height="13" fill="#fff"/>
<rect x="1423" y="560" width="1" height="13" fill="#ff0000"/>
<rect x="1422" y="560" width="3" height="10" fill="#ff0000"/>
<rect x="1423" y="561" width="1" height="8" fill="#ff8888"/>
<rect x="1424" y="566" width="1" height="14" fill="#ff0000"/>
<rect x="1423" y="570" width="3" height="8" fill="#ff0000"/>
<rect x="1424" y="571" width="1" height="6" fill="#ff8888"/>
<rect x="1426" y="570" width="1" height="9" fill="#ff0000"/>
<rect x="1425" y="571" width="3" height="7" fill="#ff0000"/>
<rect x="1426" y="572" width="1" height="5" fill="#ff8888"/>
<rect x="1427" y="574" width="1" height="5" fill="#ff0000"/>
<rect x="1426" y="576" width="3" height="2" fill="#ff0000"/>
<rect x="1428" y="576" width="1" height="10" fill="#ff0000"/>
<rect x="1427" y="577" width="3" height="7" fill="#ff0000"/>
<rect x="1428" y="578" width="1" height="5" fill="#ff8888"/>
<rect x="1430" y="582" width="1" height="9" fill="#ff0000"/>
<rect x="1429" y="582" width="3" height="4" fill="#ff0000"/>
<rect x="1430" y="583" width="1" height="2" fill="#ff8888"/>
<rect x="1431" y="577" width="1" height="8" fill="#000"/>
<rect x="1430" y="577" width="3" height="7" fill="#000"/>
<rect x="1431" y="578" width="1" height="5" fill="#fff"/>
<rect x="1432" y="577" width="3" height="4" fill="#ff0000"/>
<rect x="1433" y="578" width="1" height="2" fill="#ff8888"/>
<rect x="1434" y="578" width="1" height="8" fill="#ff0000"/>
<rect x="1433" y="580" width="3" height="5" fill="#ff0000"/>
<rect x="1434" y="581" width="1" height="3" fill="#ff8888"/>
<rect x="1435" y="580" width="1" height="5" fill="#ff0000"/>
<rect x="1434" y="581" width="3" height="4" fill="#ff0000"/>
<rect x="1435" y="582" width="1" height="2" fill="#ff8888"/>
<rect x="1437" y="579" width="1" height="4" fill="#ff0000"/>
<rect x="1436" y="580" width="3" height="2" fill="#ff0000"/>
<rect x="1439" y="573" width="1" height="11" fill="#000"/>
<rect x="1438" y="574" width="3" height="8" fill="#000"/>
<rect x="1439" y="575" width="1" height="6" fill="#fff"/>
<rect x="1439" y="574" width="3" height="4" fill="#ff0000"/>
<rect x="1440" y="575" width="1" height="2" fill="#ff8888"/>
<rect x="1441" y="575" width="1" height="12" fill="#ff0000"/>
<rect x="1440" y="575" width="3" height="9" fill="#ff0000"/>
<rect x="1441" y="576" width="1" height="7" fill="#ff8888"/>
<rect x="1442" y="579" width="1" height="5" fill="#000"/>
<rect x="1441" y="580" width="3" height="4" fill="#000"/>
<rect x="1442" y="581" width="1" height="2" fill="#fff"/>
<rect x="1444" y="577" width="1" height="6" fill="#000"/>
<rect x="1443" y="578" width="3" height="4" fill="#000"/>
<rect x="1444" y="579" width="1" height="2" fill="#fff"/>
<rect x="1445" y="564" width="1" height="11" fill="#000"/>
<rect x="1444" y="567" width="3" height="6" fill="#000"/>
<rect x="1445" y="568" width="1" height="4" fill="#fff"/>
<rect x="1447" y="566" width="1" height="6" fill="#ff0000"/>
<rect x="1446" y="567" width="3" height="5" fill="#ff0000"/>
<rect x="1447" y="568" width="1" height="3" fill="#ff8888"/>
<rect x="1448" y="568" width="1" height="7" fill="#ff0000"/>
<rect x="1447" y="569" width="3" height="4" fill="#ff0000"/>
<rect x="1448" y="570" width="1" height="2" fill="#ff8888"/>
<rect x="1449" y="569" width="1" height="10" fill="#ff0000"/>
<rect x="1448" y="572" width="3" height="4" fill="#ff0000"/>
<rect x="1449" y="573" width="1" height="2" fill="#ff8888"/>
<rect x="1451" y="567" width="1" height="18" fill="#ff0000"/>
<rect x="1450" y="567" width="3" height="16" fill="#ff0000"/>
<rect x="1451" y="568" width="1" height="14" fill="#ff8888"/>
<rect x="1452" y="576" width="1" height="7" fill="#000"/>
<rect x="1451" y="577" width="3" height="6" fill="#000"/>
<rect x="1452" y="578" width="1" height="4" fill="#fff"/>
<rect x="1454" y="568" width="1" height="14" fill="#ff0000"/>
<rect x="1453" y="572" width="3" height="7" fill="#ff0000"/>
<rect x="1454" y="573" width="1" height="5" fill="#ff8888"/>
<rect x="1456" y="570" width="1" height="12" fill="#ff0000"/>
<rect x="1455" y="573" width="3" height="5" fill="#ff0000"/>
<rect x="1456" y="574" width="1" height="3" fill="#ff8888"/>
<rect x="1456" y="575" width="1" height="5" fill="#000"/>
<rect x="1455" y="577" width="3" height="1" fill="#000"/>
<rect x="1458" y="575" width="1" height="5" fill="#ff0000"/>
<rect x="1457" y="576" width="3" height="3" fill="#ff0000"/>
<rect x="1458" y="577" width="1" height="1" fill="#ff8888"/>
<rect x="1459" y="588" width="1" height="5" fill="#ff0000"/>
<rect x="1458" y="589" width="3" height="4" fill="#ff0000"/>
<rect x="1459" y="590" width="1" height="2" fill="#ff8888"/>
<rect x="1461" y="589" width="1" height="6" fill="#ff0000"/>
<rect x="1460" y="590" width="3" height="4" fill="#ff0000"/>
<rect x="1461" y="591" width="1" height="2" fill="#ff8888"/>
<rect x="1462" y="591" width="1" height="16" fill="#ff0000"/>
<rect x="1461" y="592" width="3" height="13" fill="#ff0000"/>
<rect x="1462" y="593" width="1" height="11" fill="#ff8888"/>
<rect x="1463" y="594" width="1" height="11" fill="#000"/>
<rect x="1462" y="596" width="3" height="9" fill="#000"/>
<rect x="1463" y="597" width="1" height="7" fill="#fff"/>
<rect x="1465" y="593" width="1" height="11" fill="#000"/>
<rect x="1464" y="593" width="3" height="10" fill="#000"/>
<rect x="1465" y="594" width="1" height="8" fill="#fff"/>
<rect x="1466" y="590" width="1" height="9" fill="#000"/>
<rect x="1465" y="593" width="3" height="2" fill="#000"/>
<rect x="1467" y="586" width="1" height="8" fill="#000"/>
<rect x="1466" y="587" width="3" height="5" fill="#000"/>
<rect x="1467" y="588" width="1" height="3" fill="#fff"/>
<rect x="1469" y="571" width="1" height="16" fill="#000"/>
<rect x="1468" y="572" width="3" height="15" fill="#000"/>
<rect x="1469" y="573" width="1" height="13" fill="#fff"/>
<rect x="1470" y="564" width="1" height="9" fill="#000"/>
<rect x="1469" y="565" width="3" height="6" fill="#000"/>
<rect x="1470" y="566" width="1" height="4" fill="#fff"/>
<rect x="1471" y="565" width="3" height="5" fill="#ff0000"/>
<rect x="1472" y="566" width="1" height="3" fill="#ff8888"/>
<rect x="1472" y="567" width="1" height="9" fill="#ff0000"/>
<rect x="1471" y="568" width="3" height="7" fill="#ff0000"/>
<rect x="1472" y="569" width="1" height="5" fill="#ff8888"/>
<rect x="1474" y="568" width="1" height="9" fill="#ff0000"/>
<rect x="1473" y="571" width="3" height="4" fill="#ff0000"/>
<rect x="1474" y="572" width="1" height="2" fill="#ff8888"/>
<rect x="1476" y="569" width="1" height="11" fill="#ff0000"/>
<rect x="1475" y="570" width="3" height="7" fill="#ff0000"/>
<rect x="1476" y="571" width="1" height="5" fill="#ff8888"/>
<rect x="1477" y="569" width="1" height="9" fill="#000"/>
<rect x="1476" y="571" width="3" height="6" fill="#000"/>
<rect x="1477" y="572" width="1" height="4" fill="#fff"/>
<rect x="1479" y="564" width="1" height="13" fill="#000"/>
<rect x="1478" y="564" width="3" height="12" fill="#000"/>
<rect x="1479" y="565" width="1" height="10" fill="#fff"/>
<rect x="1480" y="558" width="1" height="7" fill="#000"/>
<rect x="1479" y="559" width="3" height="5" fill="#000"/>
<rect x="1480" y="560" width="1" height="3" fill="#fff"/>
<rect x="1482" y="559" width="1" height="5" fill="#ff0000"/>
<rect x="1481" y="559" width="3" height="4" fill="#ff0000"/>
<rect x="1482" y="560" width="1" height="2" fill="#ff8888"/>
<rect x="1483" y="560" width="1" height="8" fill="#ff0000"/>
<rect x="1482" y="561" width="3" height="5" fill="#ff0000"/>
<rect x="1483" y="562" width="1" height="3" fill="#ff8888"/>
<rect x="1484" y="564" width="1" height="9" fill="#ff0000"/>
<rect x="1483" y="567" width="3" height="5" fill="#ff0000"/>
<rect x="1484" y="568" width="1" height="3" fill="#ff8888"/>
<rect x="1486" y="570" width="1" height="2" fill="#000"/>
<rect x="1485" y="571" width="3" height="1" fill="#000"/>
<rect x="1487" y="568" width="1" height="9" fill="#000"/>
<rect x="1486" y="569" width="3" height="6" fill="#000"/>
<rect x="1487" y="570" width="1" height="4" fill="#fff"/>
<rect x="1489" y="570" width="1" height="6" fill="#ff0000"/>
<rect x="1488" y="570" width="3" height="3" fill="#ff0000"/>
<rect x="1489" y="571" width="1" height="1" fill="#ff8888"/>
<rect x="1488" y="571" width="3" height="4" fill="#ff0000"/>
<rect x="1489" y="572" width="1" height="2" fill="#ff8888"/>
<rect x="1491" y="554" width="1" height="20" fill="#000"/>
<rect x="1490" y="556" width="3" height="18" fill="#000"/>
<rect x="1491" y="557" width="1" height="16" fill="#fff"/>
<rect x="1493" y="551" width="1" height="17" fill="#ff0000"/>
<rect x="1492" y="557" width="3" height="11" fill="#ff0000"/>
<rect x="1493" y="558" width="1" height="9" fill="#ff8888"/>
<rect x="1494" y="563" width="1" height="5" fill="#ff0000"/>
<rect x="1493" y="565" width="3" height="3" fill="#ff0000"/>
<rect x="1494" y="566" width="1" height="1" fill="#ff8888"/>
<rect x="1495" y="564" width="1" height="7" fill="#ff0000"/>
<rect x="1494" y="565" width="3" height="5" fill="#ff0000"/>
<rect x="1495" y="566" width="1" height="3" fill="#ff8888"/>
<rect x="1496" y="567" width="3" height="4" fill="#ff0000"/>
<rect x="1497" y="568" width="1" height="2" fill="#ff8888"/>
<rect x="1499" y="564" width="1" height="7" fill="#ff0000"/>
<rect x="1498" y="565" width="3" height="5" fill="#ff0000"/>
<rect x="1499" y="566" width="1" height="3" fill="#ff8888"/>
<rect x="1500" y="568" width="1" height="5" fill="#ff0000"/>
<rect x="1499" y="569" width="3" height="2" fill="#ff0000"/>
<rect x="1501" y="570" width="1" height="7" fill="#ff0000"/>
<rect x="1500" y="571" width="3" height="5" fill="#ff0000"/>
<rect x="1501" y="572" width="1" height="3" fill="#ff8888"/>
<rect x="1503" y="572" width="1" height="4" fill="#000"/>
<rect x="1502" y="574" width="3" height="2" fill="#000"/>
<rect x="1503" y="572" width="1" height="4" fill="#000"/>
<rect x="1502" y="573" width="3" height="3" fill="#000"/>
<rect x="1503" y="574" width="1" height="1" fill="#fff"/>
<rect x="1505" y="571" width="1" height="5" fill="#ff0000"/>
<rect x="1504" y="572" width="3" height="3" fill="#ff0000"/>
<rect x="1505" y="573" width="1" height="1" fill="#ff8888"/>
<rect x="1507" y="571" width="1" height="5" fill="#000"/>
<rect x="1506" y="572" width="3" height="3" fill="#000"/>
<rect x="1507" y="573" width="1" height="1" fill="#fff"/>
<rect x="1508" y="572" width="1" height="4" fill="#ff0000"/>
<rect x="1507" y="572" width="3" height="3" fill="#ff0000"/>
<rect x="1508" y="573" width="1" height="1" fill="#ff8888"/>
<rect x="1509" y="574" width="1" height="5" fill="#ff0000"/>
<rect x="1508" y="575" width="3" height="3" fill="#ff0000"/>
<rect x="1509" y="576" width="1" height="1" fill="#ff8888"/>
<rect x="1511" y="572" width="1" height="8" fill="#ff0000"/>
<rect x="1510" y="573" width="3" height="6" fill="#ff0000"/>
<rect x="1511" y="574" width="1" height="4" fill="#ff8888"/>
<rect x="1513" y="576" width="1" height="5" fill="#ff0000"/>
<rect x="1512" y="577" width="3" height="3" fill="#ff0000"/>
<rect x="1513" y="578" width="1" height="1" fill="#ff8888"/>
<rect x="1514" y="577" width="1" height="4" fill="#ff0000"/>
<rect x="1513" y="579" width="3" height="1" fill="#ff0000"/>
<rect x="1515" y="577" width="1" height="5" fill="#ff0000"/>
<rect x="1514" y="578" width="3" height="3" fill="#ff0000"/>
<rect x="1515" y="579" width="1" height="1" fill="#ff8888"/>
<rect x="1517" y="573" width="1" height="8" fill="#000"/>
<rect x="1516" y="575" width="3" height="4" fill="#000"/>
<rect x="1517" y="576" width="1" height="2" fill="#fff"/>
<rect x="1518" y="574" width="1" height="4" fill="#ff0000"/>
<rect x="1517" y="575" width="3" height="3" fill="#ff0000"/>
<rect x="1518" y="576" width="1" height="1" fill="#ff8888"/>
<rect x="1519" y="574" width="1" height="4" fill="#ff0000"/>
<rect x="1518" y="574" width="3" height="3" fill="#ff0000"/>
<rect x="1519" y="575" width="1" height="1" fill="#ff8888"/>
<rect x="1521" y="575" width="1" height="4" fill="#ff0000"/>
<rect x="1520" y="575" width="3" height="3" fill="#ff0000"/>
<rect x="1521" y="576" width="1" height="1" fill="#ff8888"/>
<rect x="1522" y="576" width="1" height="2" fill="#ff0000"/>
<rect x="1521" y="577" width="3" height="1" fill="#ff0000"/>
<rect x="1523" y="576" width="1" height="6" fill="#ff0000"/>
<rect x="1522" y="577" width="3" height="4" fill="#ff0000"/>
<rect x="1523" y="578" width="1" height="2" fill="#ff8888"/>
<rect x="1525" y="578" width="1" height="5" fill="#ff0000"/>
<rect x="1524" y="579" width="3" height="3" fill="#ff0000"/>
<rect x="1525" y="580" width="1" height="1" fill="#ff8888"/>
<rect x="1527" y="581" width="1" height="33" fill="#ff0000"/>
<rect x="1526" y="581" width="3" height="28" fill="#ff0000"/>
<rect x="1527" y="582" width="1" height="26" fill="#ff8888"/>
<rect x="1528" y="603" width="1" height="6" fill="#000"/>
<rect x="1527" y="605" width="3" height="4" fill="#000"/>
<rect x="1528" y="606" width="1" height="2" fill="#fff"/>
<rect x="1529" y="599" width="1" height="11" fill="#000"/>
<rect x="1528" y="601" width="3" height="8" fill="#000"/>
<rect x="1529" y="602" width="1" height="6" fill="#fff"/>
<rect x="1531" y="597" width="1" height="15" fill="#ff0000"/>
<rect x="1530" y="601" width="3" height="11" fill="#ff0000"/>
<rect x="1531" y="602" width="1" height="9" fill="#ff8888"/>
<rect x="1531" y="604" width="3" height="5" fill="#ff0000"/>
<rect x="1532" y="605" width="1" height="3" fill="#ff8888"/>
<rect x="1533" y="600" width="1" height="6" fill="#ff0000"/>
<rect x="1532" y="601" width="3" height="4" fill="#ff0000"/>
<rect x="1533" y="602" width="1" height="2" fill="#ff8888"/>
<rect x="1535" y="603" width="1" height="4" fill="#ff0000"/>
<rect x="1534" y="604" width="3" height="2" fill="#ff0000"/>
<rect x="1535" y="601" width="3" height="5" fill="#000"/>
<rect x="1536" y="602" width="1" height="3" fill="#fff"/>
<rect x="1537" y="591" width="1" height="15" fill="#000"/>
<rect x="1536" y="594" width="3" height="12" fill="#000"/>
<rect x="1537" y="595" width="1" height="10" fill="#fff"/>
<rect x="1539" y="591" width="1" height="7" fill="#ff0000"/>
<rect x="1538" y="592" width="3" height="4" fill="#ff0000"/>
<rect x="1539" y="593" width="1" height="2" fill="#ff8888"/>
<rect x="1541" y="595" width="1" height="12" fill="#ff0000"/>
<rect x="1540" y="596" width="3" height="10" fill="#ff0000"/>
<rect x="1541" y="597" width="1" height="8" fill="#ff8888"/>
<rect x="1542" y="601" width="1" height="6" fill="#ff0000"/>
<rect x="1541" y="602" width="3" height="4" fill="#ff0000"/>
<rect x="1542" y="603" width="1" height="2" fill="#ff8888"/>
<rect x="1542" y="604" width="1" height="7" fill="#ff0000"/>
<rect x="1541" y="606" width="3" height="4" fill="#ff0000"/>
<rect x="1542" y="607" width="1" height="2" fill="#ff8888"/>
<rect x="1545" y="605" width="1" height="4" fill="#000"/>
<rect x="1544" y="606" width="3" height="3" fill="#000"/>
<rect x="1545" y="607" width="1" height="1" fill="#fff"/>
<rect x="1546" y="604" width="1" height="4" fill="#ff0000"/>
<rect x="1545" y="606" width="3" height="1" fill="#ff0000"/>
<rect x="1548" y="603" width="1" height="6" fill="#ff0000"/>
<rect x="1547" y="604" width="3" height="3" fill="#ff0000"/>
<rect x="1548" y="605" width="1" height="1" fill="#ff8888"/>
<rect x="1549" y="602" width="1" height="7" fill="#ff0000"/>
<rect x="1548" y="604" width="3" height="4" fill="#ff0000"/>
<rect x="1549" y="605" width="1" height="2" fill="#ff8888"/>
<rect x="1550" y="607" width="1" height="5" fill="#ff0000"/>
<rect x="1549" y="607" width="3" height="3" fill="#ff0000"/>
<rect x="1550" y="608" width="1" height="1" fill="#ff8888"/>
<rect x="1550" y="608" width="3" height="13" fill="#ff0000"/>
<rect x="1551" y="609" width="1" height="11" fill="#ff8888"/>
<rect x="1553" y="611" width="1" height="10" fill="#000"/>
<rect x="1552" y="613" width="3" height="7" fill="#000"/>
<rect x="1553" y="614" width="1" height="5" fill="#fff"/>
<rect x="1554" y="609" width="1" height="7" fill="#000"/>
<rect x="1553" y="611" width="3" height="3" fill="#000"/>
<rect x="1554" y="612" width="1" height="1" fill="#fff"/>
<rect x="1555" y="606" width="1" height="7" fill="#000"/>
<rect x="1554" y="607" width="3" height="4" fill="#000"/>
<rect x="1555" y="608" width="1" height="2" fill="#fff"/>
<rect x="1557" y="606" width="1" height="4" fill="#ff0000"/>
<rect x="1556" y="607" width="3" height="3" fill="#ff0000"/>
<rect x="1557" y="608" width="1" height="1" fill="#ff8888"/>
<rect x="1558" y="602" width="1" height="8" fill="#000"/>
<rect x="1557" y="602" width="3" height="7" fill="#000"/>
<rect x="1558" y="603" width="1" height="5" fill="#fff"/>
<rect x="1560" y="603" width="1" height="6" fill="#ff0000"/>
<rect x="1559" y="603" width="3" height="4" fill="#ff0000"/>
<rect x="1560" y="604" width="1" height="2" fill="#ff8888"/>
<rect x="1561" y="605" width="1" height="9" fill="#ff0000"/>
<rect x="1560" y="606" width="3" height="6" fill="#ff0000"/>
<rect x="1561" y="607" width="1" height="4" fill="#ff8888"/>
<rect x="1563" y="611" width="1" height="4" fill="#ff0000"/>
<rect x="1562" y="611" width="3" height="3" fill="#ff0000"/>
<rect x="1563" y="612" width="1" height="1" fill="#ff8888"/>
<rect x="1565" y="612" width="1" height="4" fill="#ff0000"/>
<rect x="1564" y="613" width="3" height="3" fill="#ff0000"/>
<rect x="1565" y="614" width="1" height="1" fill="#ff8888"/>
<rect x="1566" y="612" width="1" height="3" fill="#000"/>
<rect x="1565" y="613" width="3" height="2" fill="#000"/>
<rect x="1566" y="612" width="3" height="2" fill="#000"/>
<rect x="1568" y="609" width="1" height="4" fill="#000"/>
<rect x="1567" y="610" width="3" height="3" fill="#000"/>
<rect x="1568" y="611" width="1" height="1" fill="#fff"/>
<rect x="1569" y="603" width="1" height="11" fill="#000"/>
<rect x="1568" y="604" width="3" height="9" fill="#000"/>
<rect x="1569" y="605" width="1" height="7" fill="#fff"/>
<rect x="1571" y="599" width="1" height="7" fill="#000"/>
<rect x="1570" y="600" width="3" height="5" fill="#000"/>
<rect x="1571" y="601" width="1" height="3" fill="#fff"/>
<rect x="1572" y="592" width="1" height="14" fill="#ff0000"/>
<rect x="1571" y="600" width="3" height="6" fill="#ff0000"/>
<rect x="1572" y="601" width="1" height="4" fill="#ff8888"/>
<rect x="1574" y="603" width="1" height="4" fill="#ff0000"/>
<rect x="1573" y="604" width="3" height="2" fill="#ff0000"/>
<rect x="1575" y="604" width="1" height="3" fill="#ff0000"/>
<rect x="1574" y="605" width="3" height="2" fill="#ff0000"/>
<rect x="1576" y="604" width="1" height="6" fill="#ff0000"/>
<rect x="1575" y="605" width="3" height="4" fill="#ff0000"/>
<rect x="1576" y="606" width="1" height="2" fill="#ff8888"/>
<rect x="1578" y="606" width="1" height="9" fill="#ff0000"/>
<rect x="1577" y="608" width="3" height="6" fill="#ff0000"/>
<rect x="1578" y="609" width="1" height="4" fill="#ff8888"/>
<rect x="1580" y="612" width="1" height="2" fill="#ff0000"/>
<rect x="1579" y="613" width="3" height="1" fill="#ff0000"/>
<rect x="1580" y="613" width="1" height="6" fill="#ff0000"/>
<rect x="1579" y="615" width="3" height="3" fill="#ff0000"/>
<rect x="1580" y="616" width="1" height="1" fill="#ff8888"/>
<rect x="1583" y="615" width="1" height="7" fill="#ff0000"/>
<rect x="1582" y="616" width="3" height="4" fill="#ff0000"/>
<rect x="1583" y="617" width="1" height="2" fill="#ff8888"/>
<rect x="1584" y="612" width="1" height="9" fill="#000"/>
<rect x="1583" y="615" width="3" height="5" fill="#000"/>
<rect x="1584" y="616" width="1" height="3" fill="#fff"/>
<rect x="1585" y="608" width="1" height="14" fill="#000"/>
<rect x="1584" y="616" width="3" height="5" fill="#000"/>
<rect x="1585" y="617" width="1" height="3" fill="#fff"/>
<rect x="1587" y="613" width="1" height="6" fill="#ff0000"/>
<rect x="1586" y="614" width="3" height="3" fill="#ff0000"/>
<rect x="1587" y="615" width="1" height="1" fill="#ff8888"/>
<rect x="1588" y="612" width="1" height="7" fill="#ff0000"/>
<rect x="1587" y="613" width="3" height="4" fill="#ff0000"/>
<rect x="1588" y="614" width="1" height="2" fill="#ff8888"/>
<rect x="1590" y="614" width="1" height="5" fill="#ff0000"/>
<rect x="1589" y="615" width="3" height="3" fill="#ff0000"/>
<rect x="1590" y="616" width="1" height="1" fill="#ff8888"/>
<rect x="1591" y="614" width="1" height="5" fill="#000"/>
<rect x="1590" y="615" width="3" height="3" fill="#000"/>
<rect x="1591" y="616" width="1" height="1" fill="#fff"/>
<rect x="1592" y="611" width="1" height="8" fill="#000"/>
<rect x="1591" y="611" width="3" height="7" fill="#000"/>
<rect x="1592" y="612" width="1" height="5" fill="#fff"/>
<rect x="1593" y="575" width="1" height="32" fill="#000"/>
<rect x="1592" y="586" width="3" height="21" fill="#000"/>
<rect x="1593" y="587" width="1" height="19" fill="#fff"/>
<rect x="1595" y="585" width="1" height="11" fill="#000"/>
<rect x="1594" y="586" width="3" height="8" fill="#000"/>
<rect x="1595" y="587" width="1" height="6" fill="#fff"/>
<rect x="1597" y="574" width="1" height="14" fill="#000"/>
<rect x="1596" y="581" width="3" height="7" fill="#000"/>
<rect x="1597" y="582" width="1" height="5" fill="#fff"/>
<rect x="1598" y="578" width="1" height="10" fill="#ff0000"/>
<rect x="1597" y="581" width="3" height="2" fill="#ff0000"/>
<rect x="1599" y="581" width="1" height="9" fill="#ff0000"/>
<rect x="1598" y="582" width="3" height="6" fill="#ff0000"/>
<rect x="1599" y="583" width="1" height="4" fill="#ff8888"/>
<rect x="1601" y="579" width="1" height="6" fill="#000"/>
<rect x="1600" y="579" width="3" height="5" fill="#000"/>
<rect x="1601" y="580" width="1" height="3" fill="#fff"/>
<rect x="1602" y="578" width="1" height="4" fill="#ff0000"/>
<rect x="1601" y="578" width="3" height="2" fill="#ff0000"/>
<rect x="1604" y="572" width="1" height="13" fill="#ff0000"/>
<rect x="1603" y="576" width="3" height="8" fill="#ff0000"/>
<rect x="1604" y="577" width="1" height="6" fill="#ff8888"/>
<rect x="1605" y="575" width="1" height="10" fill="#000"/>
<rect x="1604" y="581" width="3" height="3" fill="#000"/>
<rect x="1605" y="582" width="1" height="1" fill="#fff"/>
<rect x="1606" y="578" width="1" height="7" fill="#000"/>
<rect x="1605" y="579" width="3" height="4" fill="#000"/>
<rect x="1606" y="580" width="1" height="2" fill="#fff"/>
<rect x="1608" y="567" width="1" height="8" fill="#ff0000"/>
<rect x="1607" y="568" width="3" height="3" fill="#ff0000"/>
<rect x="1608" y="569" width="1" height="1" fill="#ff8888"/>
<rect x="1609" y="560" width="1" height="12" fill="#000"/>
<rect x="1608" y="563" width="3" height="8" fill="#000"/>
<rect x="1609" y="564" width="1" height="6" fill="#fff"/>
<rect x="1611" y="539" width="1" height="32" fill="#000"/>
<rect x="1610" y="540" width="3" height="31" fill="#000"/>
<rect x="1611" y="541" width="1" height="29" fill="#fff"/>
<rect x="1612" y="537" width="1" height="15" fill="#ff0000"/>
<rect x="1611" y="540" width="3" height="11" fill="#ff0000"/>
<rect x="1612" y="541" width="1" height="9" fill="#ff8888"/>
<rect x="1613" y="534" width="1" height="12" fill="#ff0000"/>
<rect x="1612" y="539" width="3" height="7" fill="#ff0000"/>
<rect x="1613" y="540" width="1" height="5" fill="#ff8888"/>
<rect x="1615" y="544" width="1" height="12" fill="#ff0000"/>
<rect x="1614" y="548" width="3" height="6" fill="#ff0000"/>
<rect x="1615" y="549" width="1" height="4" fill="#ff8888"/>
<rect x="1616" y="549" width="1" height="7" fill="#ff0000"/>
<rect x="1615" y="551" width="3" height="3" fill="#ff0000"/>
<rect x="1616" y="552" width="1" height="1" fill="#ff8888"/>
<rect x="1617" y="546" width="1" height="14" fill="#ff0000"/>
<rect x="1616" y="549" width="3" height="9" fill="#ff0000"/>
<rect x="1617" y="550" width="1" height="7" fill="#ff8888"/>
<rect x="1618" y="543" width="1" height="19" fill="#ff0000"/>
<rect x="1617" y="548" width="3" height="13" fill="#ff0000"/>
<rect x="1618" y="549" width="1" height="11" fill="#ff8888"/>
<rect x="1620" y="546" width="1" height="17" fill="#000"/>
<rect x="1619" y="548" width="3" height="12" fill="#000"/>
<rect x="1620" y="549" width="1" height="10" fill="#fff"/>
<rect x="1621" y="548" width="3" height="6" fill="#ff0000"/>
<rect x="1622" y="549" width="1" height="4" fill="#ff8888"/>
<rect x="1623" y="551" width="1" height="12" fill="#ff0000"/>
<rect x="1622" y="554" width="3" height="6" fill="#ff0000"/>
<rect x="1623" y="555" width="1" height="4" fill="#ff8888"/>
<rect x="1625" y="542" width="1" height="14" fill="#000"/>
<rect x="1624" y="545" width="3" height="8" fill="#000"/>
<rect x="1625" y="546" width="1" height="6" fill="#fff"/>
<rect x="1626" y="544" width="1" height="4" fill="#000"/>
<rect x="1625" y="545" width="3" height="1" fill="#000"/>
<rect x="1627" y="535" width="1" height="12" fill="#000"/>
<rect x="1626" y="541" width="3" height="6" fill="#000"/>
<rect x="1627" y="542" width="1" height="4" fill="#fff"/>
<rect x="1628" y="543" width="1" height="13" fill="#ff0000"/>
<rect x="1627" y="544" width="3" height="10" fill="#ff0000"/>
<rect x="1628" y="545" width="1" height="8" fill="#ff8888"/>
<rect x="1630" y="545" width="1" height="10" fill="#ff0000"/>
<rect x="1629" y="547" width="3" height="6" fill="#ff0000"/>
<rect x="1630" y="548" width="1" height="4" fill="#ff8888"/>
<rect x="1632" y="546" width="1" height="5" fill="#ff0000"/>
<rect x="1631" y="547" width="3" height="3" fill="#ff0000"/>
<rect x="1632" y="548" width="1" height="1" fill="#ff8888"/>
<rect x="1632" y="546" width="3" height="4" fill="#000"/>
<rect x="1633" y="547" width="1" height="2" fill="#fff"/>
<rect x="1634" y="539" width="1" height="10" fill="#000"/>
<rect x="1633" y="540" width="3" height="9" fill="#000"/>
<rect x="1634" y="541" width="1" height="7" fill="#fff"/>
<rect x="1635" y="514" width="1" height="13" fill="#000"/>
<rect x="1634" y="522" width="3" height="4" fill="#000"/>
<rect x="1635" y="523" width="1" height="2" fill="#fff"/>
<rect x="1637" y="510" width="1" height="14" fill="#ff0000"/>
<rect x="1636" y="513" width="3" height="10" fill="#ff0000"/>
<rect x="1637" y="514" width="1" height="8" fill="#ff8888"/>
<rect x="1639" y="500" width="1" height="24" fill="#000"/>
<rect x="1638" y="503" width="3" height="19" fill="#000"/>
<rect x="1639" y="504" width="1" height="17" fill="#fff"/>
<rect x="1640" y="500" width="1" height="13" fill="#000"/>
<rect x="1639" y="503" width="3" height="3" fill="#000"/>
<rect x="1640" y="504" width="1" height="1" fill="#fff"/>
<rect x="1641" y="499" width="1" height="6" fill="#000"/>
<rect x="1640" y="500" width="3" height="4" fill="#000"/>
<rect x="1641" y="501" width="1" height="2" fill="#fff"/>
<rect x="1642" y="502" width="1" height="29" fill="#ff0000"/>
<rect x="1641" y="502" width="3" height="21" fill="#ff0000"/>
<rect x="1642" y="503" width="1" height="19" fill="#ff8888"/>
<rect x="1644" y="522" width="1" height="8" fill="#ff0000"/>
<rect x="1643" y="524" width="3" height="4" fill="#ff0000"/>
<rect x="1644" y="525" width="1" height="2" fill="#ff8888"/>
<rect x="1645" y="513" width="1" height="20" fill="#000"/>
<rect x="1644" y="517" width="3" height="12" fill="#000"/>
<rect x="1645" y="518" width="1" height="10" fill="#fff"/>
<rect x="1647" y="507" width="1" height="15" fill="#ff0000"/>
<rect x="1646" y="509" width="3" height="11" fill="#ff0000"/>
<rect x="1647" y="510" width="1" height="9" fill="#ff8888"/>
<rect x="1648" y="517" width="1" height="9" fill="#ff0000"/>
<rect x="1647" y="519" width="3" height="3" fill="#ff0000"/>
<rect x="1648" y="520" width="1" height="1" fill="#ff8888"/>
<rect x="1649" y="523" width="1" height="13" fill="#ff0000"/>
<rect x="1648" y="526" width="3" height="9" fill="#ff0000"/>
<rect x="1649" y="527" width="1" height="7" fill="#ff8888"/>
<rect x="1651" y="524" width="1" height="10" fill="#ff0000"/>
<rect x="1650" y="524" width="3" height="8" fill="#ff0000"/>
<rect x="1651" y="525" width="1" height="6" fill="#ff8888"/>
<rect x="1653" y="518" width="1" height="12" fill="#000"/>
<rect x="1652" y="520" width="3" height="9" fill="#000"/>
<rect x="1653" y="521" width="1" height="7" fill="#fff"/>
<rect x="1654" y="515" width="1" height="14" fill="#000"/>
<rect x="1653" y="517" width="3" height="4" fill="#000"/>
<rect x="1654" y="518" width="1" height="2" fill="#fff"/>
<rect x="1655" y="506" width="1" height="23" fill="#000"/>
<rect x="1654" y="509" width="3" height="19" fill="#000"/>
<rect x="1655" y="510" width="1" height="17" fill="#fff"/>
<rect x="1657" y="516" width="1" height="4" fill="#ff0000"/>
<rect x="1656" y="517" width="3" height="3" fill="#ff0000"/>
<rect x="1657" y="518" width="1" height="1" fill="#ff8888"/>
<rect x="1658" y="516" width="1" height="12" fill="#ff0000"/>
<rect x="1657" y="517" width="3" height="8" fill="#ff0000"/>
<rect x="1658" y="518" width="1" height="6" fill="#ff8888"/>
<rect x="1660" y="501" width="1" height="23" fill="#000"/>
<rect x="1659" y="502" width="3" height="15" fill="#000"/>
<rect x="1660" y="503" width="1" height="13" fill="#fff"/>
<rect x="1661" y="491" width="1" height="24" fill="#ff0000"/>
<rect x="1660" y="501" width="3" height="14" fill="#ff0000"/>
<rect x="1661" y="502" width="1" height="12" fill="#ff8888"/>
<rect x="1662" y="498" width="1" height="16" fill="#000"/>
<rect x="1661" y="501" width="3" height="13" fill="#000"/>
<rect x="1662" y="502" width="1" height="11" fill="#fff"/>
<rect x="1663" y="502" width="1" height="12" fill="#000"/>
<rect x="1662" y="505" width="3" height="8" fill="#000"/>
<rect x="1663" y="506" width="1" height="6" fill="#fff"/>
<rect x="1665" y="492" width="1" height="23" fill="#000"/>
<rect x="1664" y="504" width="3" height="10" fill="#000"/>
<rect x="1665" y="505" width="1" height="8" fill="#fff"/>
<rect x="1666" y="500" width="1" height="30" fill="#ff0000"/>
<rect x="1665" y="502" width="3" height="24" fill="#ff0000"/>
<rect x="1666" y="503" width="1" height="22" fill="#ff8888"/>
<rect x="1668" y="509" width="1" height="18" fill="#000"/>
<rect x="1667" y="512" width="3" height="14" fill="#000"/>
<rect x="1668" y="513" width="1" height="12" fill="#fff"/>
<rect x="1670" y="503" width="1" height="27" fill="#000"/>
<rect x="1669" y="506" width="3" height="19" fill="#000"/>
<rect x="1670" y="507" width="1" height="17" fill="#fff"/>
<rect x="1671" y="503" width="1" height="18" fill="#ff0000"/>
<rect x="1670" y="506" width="3" height="12" fill="#ff0000"/>
<rect x="1671" y="507" width="1" height="10" fill="#ff8888"/>
<rect x="1672" y="502" width="1" height="18" fill="#ff0000"/>
<rect x="1671" y="507" width="3" height="11" fill="#ff0000"/>
<rect x="1672" y="508" width="1" height="9" fill="#ff8888"/>
<rect x="1673" y="475" width="1" height="33" fill="#000"/>
<rect x="1672" y="476" width="3" height="31" fill="#000"/>
<rect x="1673" y="477" width="1" height="29" fill="#fff"/>
<rect x="1675" y="457" width="1" height="21" fill="#000"/>
<rect x="1674" y="463" width="3" height="13" fill="#000"/>
<rect x="1675" y="464" width="1" height="11" fill="#fff"/>
<rect x="1676" y="453" width="1" height="30" fill="#ff0000"/>
<rect x="1675" y="467" width="3" height="15" fill="#ff0000"/>
<rect x="1676" y="468" width="1" height="13" fill="#ff8888"/>
<rect x="1678" y="468" width="1" height="19" fill="#000"/>
<rect x="1677" y="473" width="3" height="10" fill="#000"/>
<rect x="1678" y="474" width="1" height="8" fill="#fff"/>
<rect x="1679" y="469" width="1" height="14" fill="#ff0000"/>
<rect x="1678" y="473" width="3" height="2" fill="#ff0000"/>
<rect x="1680" y="469" width="1" height="14" fill="#ff0000"/>
<rect x="1679" y="470" width="3" height="12" fill="#ff0000"/>
<rect x="1680" y="471" width="1" height="10" fill="#ff8888"/>
<rect x="1682" y="476" width="1" height="13" fill="#ff0000"/>
<rect x="1681" y="478" width="3" height="9" fill="#ff0000"/>
<rect x="1682" y="479" width="1" height="7" fill="#ff8888"/>
<rect x="1683" y="481" width="1" height="13" fill="#ff0000"/>
<rect x="1682" y="485" width="3" height="6" fill="#ff0000"/>
<rect x="1683" y="486" width="1" height="4" fill="#ff8888"/>
<rect x="1685" y="488" width="1" height="22" fill="#ff0000"/>
<rect x="1684" y="489" width="3" height="21" fill="#ff0000"/>
<rect x="1685" y="490" width="1" height="19" fill="#ff8888"/>
<rect x="1686" y="508" width="1" height="22" fill="#ff0000"/>
<rect x="1685" y="509" width="3" height="15" fill="#ff0000"/>
<rect x="1686" y="510" width="1" height="13" fill="#ff8888"/>
<rect x="1688" y="518" width="1" height="8" fill="#ff0000"/>
<rect x="1687" y="519" width="3" height="6" fill="#ff0000"/>
<rect x="1688" y="520" width="1" height="4" fill="#ff8888"/>
<rect x="1689" y="514" width="1" height="16" fill="#000"/>
<rect x="1688" y="516" width="3" height="13" fill="#000"/>
<rect x="1689" y="517" width="1" height="11" fill="#fff"/>
<rect x="1690" y="511" width="1" height="14" fill="#000"/>
<rect x="1689" y="513" width="3" height="9" fill="#000"/>
<rect x="1690" y="514" width="1" height="7" fill="#fff"/>
<rect x="1692" y="499" width="1" height="21" fill="#000"/>
<rect x="1691" y="509" width="3" height="10" fill="#000"/>
<rect x="1692" y="510" width="1" height="8" fill="#fff"/>
<rect x="1693" y="507" width="1" height="8" fill="#ff0000"/>
<rect x="1692" y="507" width="3" height="3" fill="#ff0000"/>
<rect x="1693" y="508" width="1" height="1" fill="#ff8888"/>
<rect x="1694" y="500" width="1" height="17" fill="#ff0000"/>
<rect x="1693" y="502" width="3" height="13" fill="#ff0000"/>
<rect x="1694" y="503" width="1" height="11" fill="#ff8888"/>
<rect x="1696" y="508" width="1" height="12" fill="#ff0000"/>
<rect x="1695" y="509" width="3" height="10" fill="#ff0000"/>
<rect x="1696" y="510" width="1" height="8" fill="#ff8888"/>
<rect x="1697" y="509" width="1" height="7" fill="#ff0000"/>
<rect x="1696" y="510" width="3" height="5" fill="#ff0000"/>
<rect x="1697" y="511" width="1" height="3" fill="#ff8888"/>
<rect x="1699" y="501" width="1" height="14" fill="#000"/>
<rect x="1698" y="502" width="3" height="12" fill="#000"/>
<rect x="1699" y="503" width="1" height="10" fill="#fff"/>
<rect x="1700" y="502" width="1" height="12" fill="#000"/>
<rect x="1699" y="502" width="3" height="4" fill="#000"/>
<rect x="1700" y="503" width="1" height="2" fill="#fff"/>
<rect x="1701" y="491" width="1" height="24" fill="#000"/>
<rect x="1700" y="494" width="3" height="20" fill="#000"/>
<rect x="1701" y="495" width="1" height="18" fill="#fff"/>
<rect x="1702" y="482" width="1" height="20" fill="#000"/>
<rect x="1701" y="484" width="3" height="16" fill="#000"/>
<rect x="1702" y="485" width="1" height="14" fill="#fff"/>
<rect x="1704" y="478" width="1" height="12" fill="#000"/>
<rect x="1703" y="484" width="3" height="3" fill="#000"/>
<rect x="1704" y="485" width="1" height="1" fill="#fff"/>
<rect x="1705" y="459" width="1" height="29" fill="#000"/>
<rect x="1704" y="464" width="3" height="19" fill="#000"/>
<rect x="1705" y="465" width="1" height="17" fill="#fff"/>
<rect x="1707" y="457" width="1" height="8" fill="#ff0000"/>
<rect x="1706" y="459" width="3" height="6" fill="#ff0000"/>
<rect x="1707" y="460" width="1" height="4" fill="#ff8888"/>
<rect x="1709" y="443" width="1" height="23" fill="#000"/>
<rect x="1708" y="444" width="3" height="21" fill="#000"/>
<rect x="1709" y="445" width="1" height="19" fill="#fff"/>
<rect x="1710" y="442" width="1" height="10" fill="#ff0000"/>
<rect x="1709" y="444" width="3" height="5" fill="#ff0000"/>
<rect x="1710" y="445" width="1" height="3" fill="#ff8888"/>
<rect x="1711" y="432" width="1" height="14" fill="#ff0000"/>
<rect x="1710" y="438" width="3" height="4" fill="#ff0000"/>
<rect x="1711" y="439" width="1" height="2" fill="#ff8888"/>
<rect x="1713" y="410" width="1" height="21" fill="#000"/>
<rect x="1712" y="411" width="3" height="19" fill="#000"/>
<rect x="1713" y="412" width="1" height="17" fill="#fff"/>
<rect x="1714" y="410" width="1" height="16" fill="#ff0000"/>
<rect x="1713" y="411" width="3" height="12" fill="#ff0000"/>
<rect x="1714" y="412" width="1" height="10" fill="#ff8888"/>
<rect x="1715" y="412" width="1" height="12" fill="#000"/>
<rect x="1714" y="413" width="3" height="10" fill="#000"/>
<rect x="1715" y="414" width="1" height="8" fill="#fff"/>
<rect x="1716" y="407" width="1" height="21" fill="#ff0000"/>
<rect x="1715" y="412" width="3" height="10" fill="#ff0000"/>
<rect x="1716" y="413" width="1" height="8" fill="#ff8888"/>
<rect x="1718" y="412" width="1" height="10" fill="#ff0000"/>
<rect x="1717" y="413" width="3" height="6" fill="#ff0000"/>
<rect x="1718" y="414" width="1" height="4" fill="#ff8888"/>
<rect x="1720" y="385" width="1" height="22" fill="#000"/>
<rect x="1719" y="385" width="3" height="12" fill="#000"/>
<rect x="1720" y="386" width="1" height="10" fill="#fff"/>
<rect x="1721" y="370" width="1" height="16" fill="#000"/>
<rect x="1720" y="375" width="3" height="11" fill="#000"/>
<rect x="1721" y="376" width="1" height="9" fill="#fff"/>
<rect x="1723" y="342" width="1" height="35" fill="#000"/>
<rect x="1722" y="363" width="3" height="14" fill="#000"/>
<rect x="1723" y="364" width="1" height="12" fill="#fff"/>
<rect x="1724" y="337" width="1" height="29" fill="#ff0000"/>
<rect x="1723" y="361" width="3" height="5" fill="#ff0000"/>
<rect x="1724" y="362" width="1" height="3" fill="#ff8888"/>
<rect x="1724" y="350" width="3" height="16" fill="#000"/>
<rect x="1725" y="351" width="1" height="14" fill="#fff"/>
<rect x="1727" y="325" width="1" height="22" fill="#000"/>
<rect x="1726" y="327" width="3" height="14" fill="#000"/>
<rect x="1727" y="328" width="1" height="12" fill="#fff"/>
<rect x="1728" y="295" width="1" height="64" fill="#ff0000"/>
<rect x="1727" y="324" width="3" height="18" fill="#ff0000"/>
<rect x="1728" y="325" width="1" height="16" fill="#ff8888"/>
<rect x="1730" y="293" width="1" height="48" fill="#000"/>
<rect x="1729" y="294" width="3" height="47" fill="#000"/>
<rect x="1730" y="295" width="1" height="45" fill="#fff"/>
<rect x="1731" y="290" width="1" height="10" fill="#000"/>
<rect x="1730" y="293" width="3" height="2" fill="#000"/>
<rect x="1732" y="277" width="1" height="19" fill="#000"/>
<rect x="1731" y="282" width="3" height="8" fill="#000"/>
<rect x="1732" y="283" width="1" height="6" fill="#fff"/>
<rect x="1733" y="260" width="1" height="38" fill="#000"/>
<rect x="1732" y="273" width="3" height="21" fill="#000"/>
<rect x="1733" y="274" width="1" height="19" fill="#fff"/>
<rect x="1735" y="255" width="1" height="23" fill="#ff0000"/>
<rect x="1734" y="259" width="3" height="13" fill="#ff0000"/>
<rect x="1735" y="260" width="1" height="11" fill="#ff8888"/>
<rect x="1736" y="258" width="1" height="20" fill="#ff0000"/>
<rect x="1735" y="260" width="3" height="15" fill="#ff0000"/>
<rect x="1736" y="261" width="1" height="13" fill="#ff8888"/>
<rect x="1738" y="271" width="1" height="17" fill="#ff0000"/>
<rect x="1737" y="274" width="3" height="11" fill="#ff0000"/>
<rect x="1738" y="275" width="1" height="9" fill="#ff8888"/>
<rect x="1739" y="278" width="1" height="28" fill="#ff0000"/>
<rect x="1738" y="283" width="3" height="17" fill="#ff0000"/>
<rect x="1739" y="284" width="1" height="15" fill="#ff8888"/>
<rect x="1740" y="287" width="3" height="51" fill="#ff0000"/>
<rect x="1741" y="288" width="1" height="49" fill="#ff8888"/>
<rect x="1741" y="337" width="3" height="47" fill="#ff0000"/>
<rect x="1742" y="338" width="1" height="45" fill="#ff8888"/>
<rect x="1744" y="336" width="1" height="66" fill="#000"/>
<rect x="1743" y="353" width="3" height="30" fill="#000"/>
<rect x="1744" y="354" width="1" height="28" fill="#fff"/>
<rect x="1745" y="327" width="1" height="16" fill="#ff0000"/>
<rect x="1744" y="330" width="3" height="10" fill="#ff0000"/>
<rect x="1745" y="331" width="1" height="8" fill="#ff8888"/>
<rect x="1746" y="336" width="1" height="21" fill="#ff0000"/>
<rect x="1745" y="339" width="3" height="5" fill="#ff0000"/>
<rect x="1746" y="340" width="1" height="3" fill="#ff8888"/>
<rect x="1747" y="327" width="1" height="44" fill="#ff0000"/>
<rect x="1746" y="342" width="3" height="26" fill="#ff0000"/>
<rect x="1747" y="343" width="1" height="24" fill="#ff8888"/>
<rect x="1749" y="315" width="1" height="10" fill="#000"/>
<rect x="1748" y="320" width="3" height="5" fill="#000"/>
</g>
<g shape-rendering="crispEdges" fill="none">
<line x1="239" y1="235.5" x2="1848" y2="7.4" stroke="#8800ff" stroke-width="1"/>
<line x1="239" y1="831.5" x2="1848" y2="599.5" stroke="#8800ff" stroke-width="1"/>
<line x1="877" y1="145.5" x2="1845.5" y2="145.5" stroke="#ff0000" stroke-width="1" stroke-dasharray="3 3"/>
<line x1="694" y1="216.5" x2="858" y2="216.5" stroke="#ff0000" stroke-width="1" stroke-dasharray="3 3"/>
<line x1="805" y1="265.5" x2="856" y2="265.5" stroke="#ff0000" stroke-width="1" stroke-dasharray="3 3"/>
<line x1="795" y1="292" x2="919" y2="68" stroke="#ff8080" stroke-width="1" stroke-dasharray="2 2"/>
<line x1="875" y1="280.5" x2="923.5" y2="280.5" stroke="#00e000" stroke-width="1" stroke-dasharray="3 3"/>
<line x1="795" y1="513" x2="922" y2="280" stroke="#00e000" stroke-width="1" stroke-dasharray="3 3"/>
<line x1="797.5" y1="457.5" x2="972.5" y2="457.5" stroke="#00e000" stroke-width="1" stroke-dasharray="3 3"/>
<line x1="732" y1="595.5" x2="1845.5" y2="595.5" stroke="#00e000" stroke-width="1" stroke-dasharray="3 3"/>
<line x1="256" y1="827.5" x2="1849" y2="827.5" stroke="#00e000" stroke-width="1" stroke-dasharray="3 3"/>
<line x1="1020" y1="328.5" x2="1790" y2="328.5" stroke="#ff8080" stroke-width="1" stroke-dasharray="3 3"/>
<line x1="1083" y1="558" x2="1624" y2="518.5" stroke="#ff8080" stroke-width="1" stroke-dasharray="3 3"/>
<line x1="1241" y1="568.5" x2="1731" y2="473" stroke="#008000" stroke-width="1"/>
<line x1="1241" y1="689" x2="1731" y2="594" stroke="#008000" stroke-width="1"/>
<line x1="1078" y1="699" x2="1624" y2="659.5" stroke="#00e000" stroke-width="1" stroke-dasharray="3 3"/>
<line x1="1672.3" y1="471.7" x2="1779.6" y2="110.4" stroke="#008000" stroke-width="1"/>
<line x1="1672" y1="614.4" x2="1779.6" y2="254" stroke="#008000" stroke-width="1"/>
<line x1="2" y1="320.5" x2="1853" y2="320.5" stroke="#0000ff" stroke-width="1" stroke-dasharray="3 3"/>
</g>
<polygon points="1745,1 1754,1 1749.5,5.5" fill="#22bb22"/>
<text x="753" y="214.5" fill="#1c8c9c" font-size="12.5px" textLength="127.7" lengthAdjust="spacingAndGlyphs">Durchbruch nach oben!</text>
<text x="743.3" y="261.8" fill="#1c8c9c" font-size="12.5px" textLength="127.7" lengthAdjust="spacingAndGlyphs">Durchbruch nach oben!</text>
<polyline points="28.1,902.0 29.5,904.7 30.9,907.4 32.3,910.2 33.7,911.3 35.1,911.2 36.5,909.8 37.9,907.9 39.3,905.3 40.7,902.1 42.1,898.1 43.5,893.4 44.9,889.2 46.3,885.7 47.7,881.6 49.1,877.9 50.5,875.2 51.9,873.5 53.3,874.0 54.7,878.1 56.1,884.8 57.5,893.4 58.9,901.9 60.3,908.0 61.7,911.7 63.1,912.6 64.5,910.7 65.9,907.4 67.3,903.4 68.7,900.0 70.1,897.7 71.5,896.5 72.9,897.3 74.3,899.7 75.7,902.0 77.1,903.7 78.5,904.9 79.9,904.3 81.3,902.0 82.7,899.2 84.1,896.1 85.5,892.7 86.9,888.7 88.3,883.8 89.7,877.5 91.1,870.5 92.5,863.5 93.9,857.6 95.3,853.7 96.7,852.6 98.1,855.1 99.5,860.7 100.9,868.9 102.3,879.0 103.7,889.0 105.1,896.7 106.5,900.9 107.9,902.3 109.3,901.1 110.7,898.3 112.1,894.4 113.5,889.7 114.9,883.5 116.3,876.9 117.7,871.6 119.1,868.9 120.5,869.8 121.9,874.4 123.3,881.3 124.7,888.8 126.1,895.8 127.5,901.5 128.9,905.5 130.3,907.3 131.7,906.0 133.1,901.1 134.5,893.5 135.9,883.8 137.3,874.2 138.7,866.8 140.1,862.3 141.5,860.0 142.9,859.4 144.3,860.1 145.7,861.8 147.1,864.5 148.5,868.7 149.9,874.2 151.3,880.3 152.7,886.7 154.1,893.2 155.5,899.3 156.9,904.8 158.3,908.8 159.7,911.1 161.1,911.4 162.5,910.1 163.9,907.8 165.3,905.0 166.7,902.4 168.1,900.0 169.5,897.7 170.9,895.8 172.3,894.1 173.7,892.8 175.1,891.9 176.5,892.1 177.9,893.6 179.3,896.1 180.7,899.4 182.1,903.7 183.5,906.8 184.9,908.2 186.3,908.4 187.7,907.7 189.1,905.2 190.5,902.2 191.9,900.2 193.3,898.3 194.7,896.2 196.1,894.4 197.5,892.8 198.9,886.9 200.3,880.1 201.7,873.7 203.1,867.9 204.5,863.1 205.9,862.3 207.3,861.8 208.7,860.9 210.1,859.5 211.5,857.6 212.9,855.8 214.3,854.7 215.7,854.6 217.1,855.2 218.5,856.7 219.9,858.4 221.3,860.0 222.7,860.8 224.1,860.0 225.5,858.3 226.9,856.4 228.3,854.6 229.7,853.4 231.1,852.8 232.5,852.4 233.9,852.0 235.3,851.4 236.7,850.6 238.1,850.1 239.5,849.6 240.9,849.5 242.3,850.0 243.7,851.2 245.1,853.3 246.5,856.4 247.9,860.4 249.3,865.8 250.7,872.6 252.1,880.2 253.5,888.9 254.9,896.9 256.3,903.1 257.7,907.0 259.1,908.8 260.5,908.0 261.9,906.8 263.3,905.5 264.7,904.9 266.1,905.7 267.5,907.6 268.9,909.4 270.3,911.4 271.7,912.5 273.1,912.4 274.5,911.2 275.9,909.4 277.3,906.5 278.7,902.4 280.1,898.3 281.5,893.4 282.9,888.0 284.3,883.1 285.7,880.6 287.1,878.5 288.5,877.2 289.9,876.4 291.3,874.0 292.7,869.3 294.1,864.4 295.5,860.3 296.9,857.6 298.3,857.9 299.7,861.2 301.1,865.2 302.5,868.7 303.9,871.0 305.3,872.1 306.7,871.1 308.1,868.9 309.5,866.0 310.9,862.4 312.3,858.2 313.7,854.5 315.1,852.1 316.5,851.3 317.9,852.6 319.3,856.0 320.7,860.3 322.1,864.8 323.5,869.1 324.9,873.6 326.3,878.4 327.7,882.9 329.1,886.6 330.5,890.1 331.9,889.7 333.3,885.3 334.7,880.2 336.1,874.9 337.5,869.0 338.9,865.4 340.3,866.2 341.7,868.4 343.1,870.4 344.5,872.1 345.9,873.0 347.3,870.1 348.7,866.0 350.1,862.3 351.5,859.7 352.9,858.4 354.3,858.9 355.7,859.6 357.1,860.4 358.5,861.7 359.9,863.9 361.3,868.1 362.7,873.7 364.1,879.9 365.5,885.4 366.9,888.9 368.3,889.2 369.7,887.5 371.1,884.9 372.5,882.0 373.9,880.8 375.3,882.8 376.7,886.8 378.1,892.5 379.5,898.4 380.9,902.5 382.3,902.8 383.7,899.6 385.1,892.8 386.5,884.5 387.9,876.5 389.3,870.8 390.7,867.4 392.1,867.8 393.5,871.0 394.9,876.1 396.3,881.6 397.7,886.2 399.1,887.2 400.5,882.9 401.9,874.9 403.3,866.1 404.7,857.8 406.1,851.5 407.5,848.9 408.9,848.4 410.3,848.0 411.7,847.3 413.1,846.7 414.5,846.4 415.9,846.7 417.3,847.9 418.7,850.1 420.1,853.4 421.5,856.5 422.9,858.5 424.3,859.4 425.7,859.3 427.1,858.6 428.5,858.9 429.9,861.6 431.3,866.9 432.7,874.2 434.1,882.3 435.5,890.3 436.9,896.0 438.3,897.9 439.7,895.2 441.1,890.5 442.5,885.3 443.9,881.4 445.3,882.1 446.7,887.9 448.1,895.5 449.5,902.6 450.9,908.6 452.3,910.9 453.7,909.4 455.1,905.7 456.5,900.7 457.9,894.9 459.3,889.6 460.7,885.5 462.1,884.0 463.5,885.9 464.9,889.7 466.3,893.4 467.7,895.3 469.1,894.8 470.5,891.7 471.9,887.3 473.3,883.5 474.7,881.8 476.1,881.4 477.5,882.4 478.9,882.4 480.3,881.0 481.7,878.1 483.1,873.7 484.5,868.4 485.9,865.3 487.3,864.3 488.7,865.3 490.1,866.8 491.5,868.1 492.9,867.9 494.3,866.4 495.7,864.7 497.1,864.6 498.5,866.7 499.9,871.3 501.3,877.7 502.7,884.5 504.1,889.8 505.5,891.8 506.9,889.5 508.3,882.8 509.7,873.8 511.1,864.9 512.5,857.8 513.9,853.0 515.3,851.2 516.7,850.9 518.1,851.2 519.5,851.9 520.9,852.9 522.3,853.3 523.7,853.4 525.1,854.1 526.5,855.9 527.9,858.5 529.3,862.5 530.7,866.9 532.1,870.4 533.5,871.4 534.9,870.0 536.3,868.4 537.7,867.2 539.1,867.3 540.5,869.6 541.9,874.3 543.3,879.4 544.7,883.6 546.1,885.3 547.5,883.7 548.9,879.2 550.3,873.6 551.7,868.3 553.1,865.2 554.5,865.8 555.9,870.0 557.3,874.0 558.7,876.2 560.1,875.8 561.5,872.7 562.9,866.2 564.3,860.6 565.7,856.7 567.1,854.1 568.5,852.6 569.9,852.7 571.3,852.7 572.7,853.3 574.1,855.1 575.5,858.2 576.9,861.9 578.3,864.6 579.7,865.4 581.1,864.8 582.5,863.8 583.9,862.6 585.3,862.6 586.7,864.8 588.1,868.5 589.5,871.0 590.9,872.2 592.3,872.6 593.7,871.9 595.1,867.6 596.5,863.2 597.9,859.2 599.3,855.2 600.7,851.6 602.1,850.7 603.5,850.2 604.9,850.3 606.3,850.7 607.7,851.4 609.1,852.0 610.5,852.4 611.9,852.8 613.3,853.5 614.7,854.6 616.1,857.3 617.5,863.1 618.9,871.4 620.3,881.2 621.7,891.1 623.1,899.4 624.5,904.9 625.9,907.4 627.3,906.1 628.7,901.9 630.1,895.3 631.5,886.4 632.9,876.2 634.3,867.4 635.7,861.2 637.1,857.6 638.5,856.5 639.9,858.1 641.3,861.3 642.7,866.3 644.1,873.3 645.5,882.1 646.9,892.4 648.3,901.5 649.7,904.6 651.1,902.2 652.5,894.5 653.9,882.3 655.3,868.8 656.7,858.6 658.1,851.9 659.5,848.8 660.9,848.6 662.3,850.2 663.7,852.4 665.1,854.5 666.5,855.2 667.9,854.5 669.3,853.5 670.7,854.2 672.1,855.9 673.5,859.5 674.9,864.9 676.3,870.8 677.7,873.5 679.1,873.7 680.5,871.3 681.9,866.7 683.3,860.4 684.7,854.9 686.1,851.1 687.5,848.9 688.9,848.1 690.3,848.4 691.7,849.2 693.1,849.6 694.5,850.4 695.9,852.0 697.3,855.0 698.7,859.6 700.1,866.4 701.5,874.6 702.9,883.6 704.3,892.3 705.7,898.9 707.1,903.3 708.5,905.4 709.9,905.4 711.3,903.5 712.7,901.1 714.1,898.0 715.5,894.3 716.9,889.8 718.3,884.7 719.7,879.6 721.1,875.6 722.5,873.7 723.9,874.6 725.3,878.7 726.7,884.5 728.1,890.4 729.5,896.0 730.9,900.9 732.3,904.6 733.7,908.3 735.1,912.2 736.5,914.6 737.9,915.6 739.3,915.3 740.7,913.5 742.1,909.5 743.5,904.0 744.9,897.9 746.3,890.7 747.7,883.0 749.1,876.1 750.5,870.6 751.9,866.9 753.3,865.6 754.7,867.1 756.1,872.6 757.5,881.1 758.9,891.0 760.3,900.6 761.7,909.0 763.1,914.2 764.5,915.8 765.9,914.5 767.3,910.4 768.7,903.4 770.1,894.4 771.5,885.0 772.9,875.7 774.3,867.9 775.7,862.1 777.1,858.2 778.5,855.4 779.9,853.3 781.3,851.7 782.7,850.5 784.1,849.5 785.5,848.6 786.9,848.3 788.3,848.4 789.7,848.8 791.1,850.0 792.5,852.3 793.9,855.4 795.3,859.2 796.7,863.4 798.1,867.1 799.5,869.4 800.9,870.5 802.3,871.2 803.7,871.5 805.1,871.0 806.5,869.5 807.9,866.1 809.3,861.4 810.7,856.4 812.1,853.8 813.5,854.1 814.9,858.0 816.3,864.8 817.7,873.6 819.1,882.4 820.5,889.6 821.9,894.7 823.3,897.5 824.7,898.2 826.1,897.4 827.5,897.4 828.9,898.1 830.3,899.4 831.7,901.0 833.1,901.9 834.5,902.2 835.9,902.6 837.3,902.4 838.7,901.0 840.1,897.0 841.5,890.1 842.9,880.1 844.3,869.0 845.7,859.4 847.1,853.1 848.5,850.2 849.9,850.2 851.3,851.7 852.7,852.9 854.1,853.6 855.5,853.9 856.9,854.5 858.3,855.6 859.7,857.1 861.1,858.9 862.5,860.6 863.9,862.9 865.3,864.4 866.7,864.3 868.1,863.8 869.5,862.4 870.9,859.1 872.3,856.1 873.7,854.7 875.1,853.1 876.5,853.0 877.9,853.9 879.3,854.9 880.7,855.8 882.1,858.9 883.5,864.9 884.9,872.6 886.3,882.0 887.7,892.3 889.1,900.7 890.5,905.1 891.9,906.1 893.3,904.6 894.7,900.9 896.1,895.8 897.5,889.7 898.9,883.7 900.3,878.1 901.7,873.6 903.1,871.5 904.5,872.3 905.9,875.6 907.3,880.4 908.7,886.0 910.1,891.8 911.5,897.3 912.9,902.2 914.3,905.5 915.7,907.0 917.1,906.7 918.5,904.3 919.9,900.2 921.3,895.4 922.7,889.7 924.1,883.6 925.5,878.0 926.9,875.1 928.3,875.6 929.7,880.7 931.1,889.0 932.5,897.9 933.9,904.7 935.3,909.4 936.7,911.3 938.1,911.5 939.5,911.5 940.9,911.4 942.3,910.1 943.7,907.7 945.1,904.6 946.5,901.4 947.9,898.9 949.3,898.1 950.7,898.9 952.1,901.1 953.5,903.9 954.9,906.8 956.3,909.2 957.7,910.1 959.1,909.0 960.5,906.3 961.9,902.7 963.3,897.1 964.7,890.3 966.1,882.7 967.5,874.6 968.9,866.1 970.3,859.5 971.7,855.5 973.1,854.8 974.5,856.7 975.9,860.4 977.3,865.2 978.7,870.5 980.1,876.3 981.5,884.7 982.9,894.1 984.3,902.0 985.7,906.8 987.1,907.9 988.5,903.5 989.9,895.3 991.3,886.2 992.7,878.9 994.1,874.2 995.5,872.9 996.9,875.3 998.3,880.7 999.7,886.9 1001.1,892.8 1002.5,897.3 1003.9,899.9 1005.3,899.1 1006.7,895.0 1008.1,887.8 1009.5,878.4 1010.9,868.4 1012.3,859.8 1013.7,853.7 1015.1,850.1 1016.5,848.9 1017.9,848.9 1019.3,849.9 1020.7,851.2 1022.1,852.6 1023.5,854.0 1024.9,855.6 1026.3,858.3 1027.7,863.3 1029.1,871.0 1030.5,881.4 1031.9,892.7 1033.3,902.4 1034.7,909.8 1036.1,913.7 1037.5,914.0 1038.9,912.3 1040.3,909.5 1041.7,905.7 1043.1,901.6 1044.5,899.0 1045.9,897.9 1047.3,897.6 1048.7,898.7 1050.1,901.4 1051.5,903.6 1052.9,905.2 1054.3,906.7 1055.7,908.0 1057.1,909.0 1058.5,909.9 1059.9,911.9 1061.3,914.3 1062.7,916.2 1064.1,917.2 1065.5,917.1 1066.9,915.2 1068.3,912.6 1069.7,909.8 1071.1,907.3 1072.5,905.1 1073.9,902.8 1075.3,900.9 1076.7,899.8 1078.1,899.0 1079.5,898.3 1080.9,898.2 1082.3,897.9 1083.7,896.8 1085.1,895.9 1086.5,896.0 1087.9,896.3 1089.3,896.8 1090.7,898.0 1092.1,900.0 1093.5,902.9 1094.9,906.6 1096.3,910.4 1097.7,913.6 1099.1,916.3 1100.5,917.4 1101.9,917.6 1103.3,918.0 1104.7,918.2 1106.1,916.9 1107.5,913.7 1108.9,908.4 1110.3,901.5 1111.7,895.8 1113.1,892.5 1114.5,891.2 1115.9,891.5 1117.3,891.9 1118.7,889.1 1120.1,883.5 1121.5,878.1 1122.9,874.7 1124.3,873.6 1125.7,876.0 1127.1,879.9 1128.5,880.1 1129.9,876.1 1131.3,869.7 1132.7,862.2 1134.1,855.0 1135.5,852.1 1136.9,852.7 1138.3,854.8 1139.7,857.4 1141.1,859.9 1142.5,860.9 1143.9,861.3 1145.3,862.0 1146.7,863.4 1148.1,865.1 1149.5,866.7 1150.9,867.8 1152.3,867.3 1153.7,864.5 1155.1,860.8 1156.5,858.1 1157.9,855.8 1159.3,855.1 1160.7,857.6 1162.1,863.2 1163.5,870.8 1164.9,879.8 1166.3,889.2 1167.7,897.5 1169.1,903.3 1170.5,906.6 1171.9,908.2 1173.3,908.4 1174.7,907.5 1176.1,905.5 1177.5,902.4 1178.9,898.0 1180.3,892.2 1181.7,886.0 1183.1,879.7 1184.5,873.5 1185.9,869.2 1187.3,868.3 1188.7,870.6 1190.1,875.8 1191.5,884.6 1192.9,894.3 1194.3,903.6 1195.7,910.4 1197.1,915.0 1198.5,917.1 1199.9,917.5 1201.3,915.9 1202.7,913.5 1204.1,909.7 1205.5,904.1 1206.9,897.4 1208.3,890.5 1209.7,884.1 1211.1,879.3 1212.5,878.0 1213.9,879.9 1215.3,883.6 1216.7,888.0 1218.1,892.2 1219.5,893.8 1220.9,891.8 1222.3,888.1 1223.7,883.6 1225.1,879.1 1226.5,875.4 1227.9,872.5 1229.3,868.8 1230.7,864.9 1232.1,861.0 1233.5,857.3 1234.9,855.0 1236.3,854.9 1237.7,855.6 1239.1,857.0 1240.5,858.7 1241.9,860.6 1243.3,866.1 1244.7,873.3 1246.1,881.7 1247.5,890.6 1248.9,899.2 1250.3,903.1 1251.7,904.9 1253.1,905.5 1254.5,905.6 1255.9,906.0 1257.3,906.7 1258.7,907.1 1260.1,906.1 1261.5,903.0 1262.9,897.2 1264.3,889.8 1265.7,881.3 1267.1,872.1 1268.5,864.2 1269.9,858.8 1271.3,856.2 1272.7,855.9 1274.1,858.1 1275.5,861.3 1276.9,864.5 1278.3,865.9 1279.7,866.6 1281.1,868.3 1282.5,872.8 1283.9,879.1 1285.3,887.7 1286.7,896.9 1288.1,903.9 1289.5,907.0 1290.9,907.3 1292.3,906.0 1293.7,903.8 1295.1,901.8 1296.5,900.0 1297.9,898.3 1299.3,894.4 1300.7,888.7 1302.1,881.8 1303.5,874.1 1304.9,866.7 1306.3,860.9 1307.7,856.5 1309.1,853.2 1310.5,850.7 1311.9,848.6 1313.3,847.3 1314.7,847.2 1316.1,847.9 1317.5,849.0 1318.9,850.5 1320.3,852.1 1321.7,853.4 1323.1,854.7 1324.5,857.1 1325.9,860.7 1327.3,864.4 1328.7,868.0 1330.1,871.0 1331.5,872.4 1332.9,872.0 1334.3,870.9 1335.7,870.5 1337.1,871.8 1338.5,876.3 1339.9,883.4 1341.3,891.5 1342.7,896.8 1344.1,898.3 1345.5,894.2 1346.9,886.3 1348.3,876.9 1349.7,870.3 1351.1,866.4 1352.5,866.4 1353.9,869.5 1355.3,874.2 1356.7,878.5 1358.1,883.4 1359.5,888.4 1360.9,892.9 1362.3,897.2 1363.7,903.0 1365.1,908.9 1366.5,912.2 1367.9,910.5 1369.3,905.8 1370.7,897.6 1372.1,886.7 1373.5,875.9 1374.9,868.6 1376.3,863.6 1377.7,859.6 1379.1,857.1 1380.5,856.3 1381.9,857.1 1383.3,859.2 1384.7,862.7 1386.1,867.4 1387.5,870.9 1388.9,872.4 1390.3,871.5 1391.7,868.6 1393.1,864.8 1394.5,862.2 1395.9,860.3 1397.3,859.6 1398.7,860.2 1400.1,860.4 1401.5,858.8 1402.9,857.3 1404.3,855.5 1405.7,854.6 1407.1,856.2 1408.5,862.1 1409.9,870.7 1411.3,882.0 1412.7,893.2 1414.1,902.5 1415.5,908.2 1416.9,910.9 1418.3,910.7 1419.7,908.8 1421.1,906.3 1422.5,902.5 1423.9,897.9 1425.3,894.0 1426.7,891.4 1428.1,890.8 1429.5,893.8 1430.9,898.9 1432.3,903.3 1433.7,906.2 1435.1,907.1 1436.5,905.3 1437.9,901.5 1439.3,897.3 1440.7,892.7 1442.1,888.6 1443.5,884.9 1444.9,881.3 1446.3,878.0 1447.7,875.3 1449.1,872.4 1450.5,869.5 1451.9,868.0 1453.3,868.5 1454.7,870.1 1456.1,872.9 1457.5,877.0 1458.9,881.8 1460.3,886.8 1461.7,893.2 1463.1,900.1 1464.5,906.0 1465.9,909.9 1467.3,910.4 1468.7,906.5 1470.1,898.9 1471.5,889.4 1472.9,879.6 1474.3,870.8 1475.7,864.2 1477.1,861.1 1478.5,860.0 1479.9,860.0 1481.3,860.8 1482.7,861.9 1484.1,862.2 1485.5,863.2 1486.9,866.6 1488.3,871.9 1489.7,878.8 1491.1,885.2 1492.5,889.7 1493.9,891.7 1495.3,891.6 1496.7,889.9 1498.1,889.0 1499.5,890.4 1500.9,893.5 1502.3,897.7 1503.7,902.4 1505.1,906.8 1506.5,910.2 1507.9,911.6 1509.3,911.3 1510.7,910.0 1512.1,908.0 1513.5,906.1 1514.9,905.8 1516.3,905.1 1517.7,903.5 1519.1,901.1 1520.5,897.1 1521.9,891.2 1523.3,885.8 1524.7,883.3 1526.1,883.7 1527.5,887.4 1528.9,892.8 1530.3,898.9 1531.7,904.1 1533.1,906.9 1534.5,907.7 1535.9,907.6 1537.3,907.2 1538.7,904.5 1540.1,901.4 1541.5,898.2 1542.9,895.0 1544.3,892.6 1545.7,893.3 1547.1,896.7 1548.5,900.5 1549.9,904.7 1551.3,908.6 1552.7,910.2 1554.1,909.2 1555.5,906.6 1556.9,901.5 1558.3,893.8 1559.7,885.4 1561.1,877.5 1562.5,872.1 1563.9,870.2 1565.3,871.9 1566.7,875.9 1568.1,881.6 1569.5,887.2 1570.9,889.1 1572.3,889.0 1573.7,887.6 1575.1,884.6 1576.5,882.0 1577.9,882.6 1579.3,885.2 1580.7,890.0 1582.1,896.6 1583.5,903.0 1584.9,909.0 1586.3,913.1 1587.7,914.6 1589.1,913.2 1590.5,909.7 1591.9,904.1 1593.3,896.5 1594.7,887.9 1596.1,879.3 1597.5,871.2 1598.9,864.9 1600.3,861.2 1601.7,859.6 1603.1,858.9 1604.5,858.9 1605.9,858.8 1607.3,858.5 1608.7,858.4 1610.1,858.6 1611.5,857.6 1612.9,856.2 1614.3,855.4 1615.7,855.0 1617.1,855.3 1618.5,858.1 1619.9,862.8 1621.3,868.2 1622.7,873.9 1624.1,879.5 1625.5,882.0 1626.9,882.6 1628.3,881.8 1629.7,879.4 1631.1,876.0 1632.5,874.9 1633.9,874.3 1635.3,873.1 1636.7,871.0 1638.1,868.1 1639.5,864.0 1640.9,859.5 1642.3,857.1 1643.7,857.1 1645.1,859.0 1646.5,862.2 1647.9,866.9 1649.3,871.8 1650.7,877.1 1652.1,882.6 1653.5,888.2 1654.9,891.9 1656.3,893.0 1657.7,891.9 1659.1,887.1 1660.5,880.8 1661.9,875.6 1663.3,872.6 1664.7,870.6 1666.1,872.0 1667.5,876.2 1668.9,881.4 1670.3,885.7 1671.7,890.0 1673.1,890.9 1674.5,887.4 1675.9,881.5 1677.3,875.2 1678.7,868.8 1680.1,865.6 1681.5,865.5 1682.9,867.1 1684.3,869.7 1685.7,874.6 1687.1,881.6 1688.5,889.6 1689.9,898.5 1691.3,906.4 1692.7,911.3 1694.1,912.2 1695.5,909.9 1696.9,905.0 1698.3,899.1 1699.7,893.6 1701.1,887.3 1702.5,880.5 1703.9,873.2 1705.3,865.8 1706.7,858.4 1708.1,853.4 1709.5,850.4 1710.9,848.8 1712.3,848.3 1713.7,848.4 1715.1,848.3 1716.5,848.4 1717.9,848.7 1719.3,849.1 1720.7,849.6 1722.1,850.2 1723.5,851.0 1724.9,852.2 1726.3,853.3 1727.7,854.5 1729.1,856.2 1730.5,856.7 1731.9,856.4 1733.3,855.9 1734.7,854.9 1736.1,853.0 1737.5,852.2 1738.9,852.9 1740.3,855.1 1741.7,861.6 1743.1,870.9 1744.5,881.0 1745.9,890.7 1747.3,899.1 1748.7,901.5" fill="none" stroke="#ff0000" stroke-width="1" stroke-linejoin="round" shape-rendering="crispEdges"/>
<polyline points="22.5,899.4 25.7,897.9 26.9,905.6 29.4,913.2 32.8,911.3 35.7,908.1 38.8,900.6 41.3,891.9 43.8,881.8 46.3,881.2 48.2,871.2 50.1,868.4 52.0,873.1 53.9,888.1 55.7,900.6 57.6,913.2 59.5,916.3 61.4,913.2 63.9,905.6 65.8,899.4 67.6,893.7 69.5,896.2 71.4,896.9 73.0,903.1 74.8,907.9 77.0,905.0 78.9,903.1 81.4,895.0 83.9,890.0 85.8,886.2 87.7,875.6 89.6,861.8 91.4,853.0 93.3,850.5 95.2,850.5 97.1,856.8 99.0,874.3 100.8,890.6 102.7,904.4 104.6,906.9 106.5,900.6 109.6,895.6 111.5,889.4 113.4,878.1 115.2,865.6 116.5,862.4 118.4,866.8 120.3,879.3 122.1,891.9 124.0,900.6 125.9,906.3 127.8,910.0 129.7,911.3 131.3,900.6 132.8,885.6 134.7,870.6 136.5,858.7 139.0,858.7 140.9,861.2 142.8,858.7 144.7,863.1 146.6,870.6 148.4,880.6 150.3,888.1 152.2,896.9 154.1,905.6 156.0,913.2 157.6,914.7 159.1,911.9 161.6,906.9 164.1,901.9 166.6,897.5 169.1,894.4 172.2,891.2 175.4,890.6 177.3,898.1 179.1,903.1 181.0,908.1 182.9,914.4 184.1,908.1 185.4,905.6 187.9,903.8 190.4,895.6 192.3,896.9 194.2,894.4 196.0,891.2 197.9,886.9 198.5,869.3 199.8,861.8 202.3,861.2 204.2,863.1 205.4,864.3 207.3,859.3 209.2,856.2 211.7,853.7 214.2,853.7 216.1,856.8 218.6,861.2 220.5,862.4 222.3,861.8 223.6,855.5 225.5,852.8 228.0,852.8 229.9,853.7 231.7,851.2 234.2,850.5 235.0,849.9 237.5,849.5 239.4,848.6 241.3,850.5 243.2,853.7 245.0,859.3 246.9,865.6 248.8,874.3 250.0,885.6 251.9,895.6 253.8,910.0 256.3,910.4 258.2,908.8 260.1,903.8 261.9,904.4 263.8,903.4 265.7,909.4 267.6,913.2 270.1,914.2 272.6,910.7 275.1,906.3 277.0,901.9 278.9,890.6 280.7,888.1 282.0,880.0 284.1,874.3 285.1,878.7 287.6,878.3 290.1,873.1 291.4,863.1 292.6,854.9 294.5,853.7 296.4,858.0 298.3,864.3 299.5,871.2 301.4,874.3 303.9,871.8 305.8,869.3 307.7,864.3 310.2,856.8 312.0,849.3 313.9,848.3 315.8,851.8 317.7,859.3 319.6,866.8 322.1,873.1 323.9,876.8 325.8,888.1 327.1,892.5 329.6,891.9 330.6,893.7 332.1,879.3 333.3,868.1 335.2,866.2 337.1,864.9 338.7,861.2 340.2,871.8 342.1,878.7 344.0,873.7 345.9,868.1 347.1,858.0 349.0,856.5 350.9,857.8 352.8,861.2 355.3,859.9 357.1,861.2 359.0,866.8 360.9,878.1 362.2,886.9 364.0,891.9 366.3,893.7 367.8,884.3 369.7,880.0 371.6,878.3 373.4,879.3 374.7,889.4 376.6,899.4 378.4,908.4 380.3,908.4 381.6,899.4 383.5,886.9 385.3,871.8 387.2,863.7 389.1,864.9 391.0,868.1 392.2,875.6 394.1,885.6 395.6,893.1 397.6,891.9 399.1,880.6 400.4,863.1 401.6,850.5 402.9,848.3 404.7,849.3 406.6,848.3 408.5,848.0 410.4,846.5 412.9,845.3 414.8,846.8 416.6,850.5 418.5,855.5 419.8,862.4 421.7,861.8 423.5,858.0 425.4,855.5 427.3,859.3 428.5,863.1 429.8,871.8 431.7,885.6 432.9,894.4 434.8,901.9 436.4,904.1 437.9,896.9 439.2,883.1 440.4,875.6 442.3,876.2 444.2,883.1 445.5,896.9 447.3,914.2 449.2,913.2 451.1,911.9 453.0,904.4 454.9,896.9 456.7,886.9 458.6,881.2 460.5,879.6 461.7,884.3 463.0,894.4 464.5,903.1 466.3,899.4 468.1,888.1 470.0,882.5 472.5,879.3 474.4,881.2 476.3,883.7 477.5,886.9 478.8,880.6 480.7,871.8 482.5,863.1 484.4,859.5 486.3,865.6 488.6,872.1 490.7,868.7 492.6,863.7 494.4,860.8 496.3,864.9 498.2,874.3 499.8,885.6 501.3,893.1 503.0,898.4 504.5,894.4 505.7,885.6 507.0,874.3 508.2,860.5 509.5,853.0 511.4,850.5 513.2,851.2 515.7,850.5 517.6,851.8 519.5,854.3 521.4,856.5 522.6,851.2 524.5,852.4 525.8,859.3 527.6,868.7 529.5,872.4 531.7,875.3 533.3,869.3 535.2,861.2 537.0,865.6 538.7,871.8 540.2,878.1 542.0,886.2 543.7,890.4 545.4,888.1 547.1,875.6 548.7,863.1 550.2,861.8 552.1,862.4 553.3,868.1 555.2,878.1 556.5,888.1 557.7,879.3 559.6,868.1 561.5,859.3 563.3,849.5 564.6,854.9 566.5,853.0 568.7,851.2 570.9,852.8 572.7,856.8 574.6,863.1 576.2,869.3 577.5,872.1 579.0,863.1 580.9,857.8 582.5,861.8 584.0,864.9 585.9,868.1 587.1,873.1 588.4,878.3 590.3,871.8 592.2,869.3 594.0,867.4 595.3,854.3 597.2,851.8 599.0,849.5 600.3,848.6 601.6,851.2 603.4,850.5 605.9,851.2 607.8,853.0 609.1,854.3 610.3,852.4 612.2,853.0 613.8,855.5 615.3,860.5 616.6,871.8 618.1,886.9 619.7,900.6 621.0,906.9 622.8,909.4 625.4,909.4 626.6,903.1 628.1,891.9 629.7,879.3 631.0,869.3 632.6,856.8 633.9,852.4 635.4,855.5 637.3,858.0 639.1,860.5 641.0,866.8 642.3,876.8 643.5,888.1 645.1,899.4 646.4,914.4 648.5,915.0 649.2,904.4 650.4,888.1 651.7,875.6 652.9,861.8 654.2,851.8 655.7,846.1 657.3,845.5 659.2,849.3 661.1,853.0 662.9,856.2 664.8,858.0 666.4,854.3 667.9,849.3 669.2,848.6 670.4,859.3 672.3,866.8 674.2,874.3 676.5,880.0 678.0,873.1 679.8,863.1 681.7,854.3 683.2,848.0 684.9,846.5 686.7,848.6 689.2,849.0 691.7,850.5 693.6,849.9 696.3,858.0 697.5,865.6 699.4,878.1 701.3,891.9 702.5,900.6 704.4,908.1 706.3,906.3 708.8,904.4 710.7,900.6 713.2,893.1 715.7,885.6 717.6,876.8 719.4,868.3 721.3,870.6 723.2,879.3 725.7,896.2 727.6,898.1 730.1,906.3 732.6,913.2 735.1,919.4 737.0,915.7 738.9,911.3 740.1,910.7 741.6,903.1 743.2,890.6 745.1,881.8 747.0,871.8 748.9,864.9 750.8,861.2 752.6,865.6 754.5,874.3 755.8,888.1 757.4,903.1 758.9,913.2 760.8,918.2 762.7,919.4 763.9,914.4 765.8,908.1 767.7,894.4 769.2,879.3 770.8,868.1 772.7,861.2 773.9,858.7 775.8,854.3 777.7,852.4 779.6,850.3 782.1,849.0 783.3,848.6 785.2,846.5 787.1,849.0 789.0,849.9 790.8,852.4 792.7,859.3 794.6,866.8 796.5,871.6 798.4,872.4 800.2,868.7 802.1,871.8 804.2,873.7 805.9,866.8 807.5,856.8 808.4,848.6 811.3,848.3 812.1,856.8 813.4,863.1 815.3,874.3 817.1,888.1 819.0,901.3 820.9,899.4 822.8,896.9 824.7,895.4 826.5,898.1 828.4,900.6 830.3,903.1 831.6,903.8 834.1,900.6 836.6,904.1 838.4,899.4 839.7,886.9 840.9,873.1 842.2,859.9 843.8,845.8 845.3,848.0 847.2,850.5 849.1,852.8 851.0,854.0 852.8,854.3 855.4,853.7 857.2,856.8 859.1,861.2 861.0,863.1 862.2,861.2 863.9,868.1 865.4,866.8 866.6,861.2 868.5,860.5 870.4,851.2 872.3,851.8 873.5,854.3 875.4,852.8 877.3,855.5 879.2,856.5 881.0,859.3 882.3,869.3 883.5,884.3 885.4,898.1 887.3,909.4 888.5,912.2 890.4,906.9 892.3,898.1 894.2,894.4 896.1,885.6 897.9,873.1 899.8,867.4 901.7,869.3 903.6,875.6 905.5,884.3 907.3,891.9 909.2,899.4 911.1,906.9 913.0,910.7 915.5,906.3 917.4,900.6 919.2,893.1 921.1,885.6 923.0,875.6 924.9,867.4 925.6,867.8 926.9,875.6 928.5,888.1 930.0,905.6 931.5,914.2 933.2,910.7 935.0,910.0 936.9,911.9 938.8,913.4 940.7,910.7 942.5,903.1 944.4,898.1 946.3,896.2 948.2,896.9 950.1,901.9 951.9,908.1 953.8,910.4 956.3,912.2 958.2,907.5 960.1,898.1 962.0,893.1 963.8,880.6 965.7,868.1 967.4,856.8 968.9,851.2 970.7,850.5 972.0,855.5 973.6,863.7 975.1,866.8 977.0,873.1 978.9,881.8 980.4,891.9 981.8,910.7 983.3,918.2 984.9,911.9 986.4,900.6 988.3,888.1 989.5,878.1 991.2,868.7 993.3,868.4 994.9,875.6 996.4,884.3 998.3,895.6 1000.2,900.6 1002.0,902.5 1003.9,900.6 1005.2,893.1 1006.4,881.8 1007.7,870.6 1008.9,858.0 1010.2,851.8 1012.1,848.6 1013.9,848.3 1015.8,848.3 1017.7,849.9 1019.6,854.3 1021.5,854.9 1023.3,855.5 1025.2,859.3 1026.5,868.1 1027.7,879.3 1029.0,891.9 1030.2,905.6 1031.5,915.0 1033.4,915.4 1035.2,916.9 1036.5,911.9 1038.4,908.1 1040.3,901.9 1042.1,896.2 1043.4,891.9 1045.3,900.6 1047.1,900.0 1049.0,903.1 1050.9,908.1 1052.8,908.8 1054.7,907.5 1056.5,910.7 1058.4,911.9 1059.7,918.2 1060.9,920.0 1062.8,919.2 1064.7,914.4 1066.6,909.4 1068.4,906.9 1070.3,904.4 1072.2,901.9 1074.3,896.6 1076.0,898.1 1077.2,900.6 1079.1,897.5 1081.6,897.1 1084.3,893.4 1086.0,896.2 1087.2,899.4 1089.1,898.1 1091.0,900.6 1092.9,906.9 1094.1,916.9 1096.0,917.9 1097.9,916.3 1099.8,918.2 1101.6,917.9 1103.5,920.0 1105.4,915.7 1106.6,908.1 1107.9,899.4 1109.2,890.6 1111.0,882.5 1112.3,893.1 1114.2,896.2 1116.0,893.1 1117.3,888.1 1118.5,875.6 1120.4,864.9 1121.7,869.3 1123.6,879.3 1125.4,886.2 1127.3,886.2 1128.6,869.3 1129.8,856.8 1131.1,850.5 1133.0,848.6 1134.8,851.2 1136.1,858.0 1138.0,860.5 1139.8,861.8 1141.7,863.1 1143.0,858.7 1144.9,863.1 1146.7,868.7 1148.2,871.2 1149.9,867.4 1151.7,866.2 1153.2,855.5 1155.3,852.4 1156.9,854.9 1158.8,855.5 1160.0,861.8 1161.5,873.1 1162.5,885.6 1164.0,895.6 1165.7,903.1 1167.3,908.8 1169.4,910.0 1171.9,907.5 1174.4,905.6 1176.3,899.4 1178.2,890.6 1180.1,878.1 1181.9,873.1 1183.6,866.8 1184.8,861.6 1186.3,864.9 1187.6,874.3 1189.1,888.1 1190.7,898.1 1192.0,910.7 1193.2,913.2 1194.5,920.0 1196.3,918.2 1198.9,916.9 1200.7,913.2 1202.6,907.5 1204.5,896.9 1206.4,883.1 1207.6,878.1 1209.5,875.0 1211.4,875.0 1212.6,883.1 1214.5,893.1 1215.8,896.2 1217.6,898.1 1219.5,890.6 1220.8,880.6 1222.7,875.6 1224.5,874.3 1226.4,872.4 1227.7,868.1 1228.9,858.0 1230.8,855.5 1232.7,853.3 1234.6,854.0 1236.4,856.8 1238.3,860.5 1240.2,861.2 1242.1,864.3 1243.3,884.3 1245.0,896.9 1246.5,904.4 1248.3,907.9 1249.6,905.6 1251.2,902.9 1252.7,905.6 1255.0,907.5 1256.5,909.2 1258.4,906.9 1260.2,900.6 1262.1,888.1 1263.4,875.6 1265.2,866.8 1266.7,855.5 1268.4,852.4 1269.6,851.5 1270.9,856.8 1272.8,861.8 1274.6,866.8 1276.5,870.3 1277.8,865.6 1279.3,863.7 1280.9,870.6 1282.2,888.1 1283.4,896.9 1285.0,906.9 1286.5,911.9 1287.8,909.4 1289.7,906.3 1290.9,901.9 1292.8,901.3 1294.7,899.4 1296.6,897.5 1298.4,891.9 1299.7,878.1 1301.6,866.8 1303.5,859.3 1305.3,855.5 1307.2,850.5 1309.1,848.0 1311.0,846.1 1312.2,845.5 1314.1,847.4 1315.4,851.2 1317.2,851.8 1319.1,853.0 1321.0,855.5 1322.9,856.8 1324.1,860.5 1325.4,870.6 1327.3,873.1 1329.1,874.3 1331.0,871.2 1332.9,869.3 1334.4,867.8 1335.6,871.8 1337.3,879.3 1338.5,893.1 1340.2,906.3 1341.7,909.4 1342.9,896.9 1344.8,880.6 1346.0,868.1 1347.3,863.7 1348.5,861.6 1349.8,865.6 1351.7,867.4 1352.9,875.6 1354.8,884.3 1356.7,886.9 1358.6,893.1 1360.4,901.9 1362.3,906.3 1363.6,915.7 1365.5,922.2 1366.7,913.2 1368.0,894.4 1369.5,881.8 1371.1,873.1 1372.7,863.1 1374.2,858.3 1376.1,858.0 1378.0,854.9 1379.5,853.7 1381.1,858.0 1383.0,866.8 1384.9,873.7 1386.3,877.5 1388.1,872.4 1390.0,865.6 1391.3,858.7 1393.2,858.3 1394.4,861.2 1396.3,859.5 1398.2,860.5 1399.4,863.1 1401.3,853.0 1403.2,852.4 1404.4,851.2 1405.7,856.8 1406.9,864.3 1407.8,875.6 1409.4,890.6 1410.7,903.1 1411.9,911.9 1413.8,914.4 1415.7,910.7 1417.6,908.1 1419.5,904.4 1421.3,900.6 1422.6,891.9 1424.5,883.7 1425.7,888.1 1427.4,893.1 1428.9,901.9 1430.4,913.2 1432.0,909.4 1433.9,905.6 1435.7,900.6 1437.6,894.4 1439.1,888.1 1440.8,883.1 1442.6,881.2 1444.1,878.1 1445.8,871.8 1448.3,868.7 1450.1,865.6 1451.4,863.7 1452.7,871.8 1454.5,876.8 1456.4,881.8 1458.3,888.1 1460.2,896.9 1461.4,908.1 1463.3,916.3 1465.2,914.4 1466.4,908.1 1468.3,894.4 1469.6,881.8 1470.8,871.8 1472.4,863.1 1473.9,858.0 1475.5,855.5 1476.7,861.8 1478.3,862.4 1480.2,861.2 1482.1,861.8 1484.0,863.1 1485.5,866.8 1487.1,879.3 1488.4,888.1 1490.2,900.0 1492.1,890.6 1494.0,888.1 1495.9,887.5 1497.8,889.4 1499.0,894.4 1500.9,903.1 1502.1,908.1 1504.0,912.5 1506.5,913.8 1508.4,909.4 1510.3,905.6 1512.2,903.1 1513.4,903.8 1515.0,909.4 1516.5,903.1 1517.8,896.9 1519.0,891.9 1520.9,881.8 1523.4,876.8 1524.7,884.3 1525.9,891.9 1527.2,900.6 1528.4,906.3 1530.3,907.5 1531.8,910.7 1533.5,906.6 1535.3,906.3 1537.2,906.3 1538.5,898.1 1539.7,892.5 1541.6,890.6 1543.5,890.0 1544.7,894.4 1546.0,901.9 1547.2,909.4 1549.1,910.0 1551.0,913.2 1552.9,908.1 1554.7,901.9 1556.4,891.9 1557.6,879.3 1558.9,869.3 1560.1,864.9 1561.6,864.6 1562.9,871.8 1564.8,880.6 1566.6,885.6 1567.9,891.9 1569.4,899.4 1570.4,888.1 1572.3,881.8 1573.9,878.7 1575.4,878.1 1576.7,885.6 1578.5,890.6 1580.4,900.6 1581.9,910.7 1583.6,916.9 1585.4,919.4 1587.3,911.9 1589.2,904.4 1591.1,896.9 1592.3,888.1 1593.6,875.6 1594.8,866.8 1596.1,861.8 1597.7,858.0 1599.2,859.3 1601.1,859.9 1603.0,858.0 1604.9,858.7 1606.7,858.0 1608.6,858.7 1609.9,859.9 1611.7,853.0 1613.2,851.2 1614.9,855.5 1615.0,854.9 1616.9,859.3 1618.1,865.6 1619.8,874.3 1621.9,883.1 1624.4,889.4 1625.7,879.3 1627.5,877.5 1628.8,876.2 1630.7,870.3 1631.9,874.3 1634.4,875.6 1635.7,868.7 1636.9,861.8 1638.6,855.5 1641.1,852.4 1642.3,858.7 1643.8,863.1 1645.7,868.1 1647.3,871.8 1648.2,878.1 1650.1,886.9 1652.0,893.7 1654.1,899.4 1655.7,890.6 1657.6,885.6 1658.6,873.1 1659.5,868.1 1661.1,865.6 1662.6,871.8 1663.9,875.0 1665.7,873.1 1667.0,884.3 1668.2,891.9 1669.5,896.9 1670.8,895.0 1672.3,895.6 1673.3,879.3 1674.5,870.6 1675.8,864.9 1677.6,864.3 1679.5,862.4 1680.8,868.1 1682.7,871.8 1684.5,878.1 1685.8,888.1 1687.0,899.4 1688.7,910.7 1690.4,919.4 1692.0,915.7 1693.3,909.4 1694.9,900.6 1696.4,894.4 1698.3,888.1 1700.2,883.1 1701.4,870.6 1703.3,859.3 1705.0,851.8 1706.5,847.4 1708.3,848.6 1710.2,848.6 1712.1,848.3 1714.6,847.8 1716.5,849.3 1719.0,850.3 1720.9,850.5 1722.7,851.2 1724.2,855.5 1725.9,855.5 1727.8,856.8 1729.0,859.9 1730.9,854.9 1732.8,853.7 1734.6,851.8 1736.3,850.3 1737.8,851.8 1739.3,859.3 1740.3,863.1 1741.3,878.1 1742.5,894.4 1744.0,900.6 1745.5,905.6 1747.4,906.3 1748.4,898.1 1749.7,891.2" fill="none" stroke="#000" stroke-width="1" stroke-linejoin="round" shape-rendering="crispEdges"/>
<g shape-rendering="crispEdges" fill="none">
<line x1="5" y1="860.5" x2="1853" y2="860.5" stroke="#000"/>
<line x1="5" y1="885.5" x2="1853" y2="885.5" stroke="#000"/>
<line x1="5" y1="911.5" x2="1853" y2="911.5" stroke="#000"/>
</g>
<g fill="#101020"><text x="821.00" y="858.8" font-size="12.6px" textLength="36.71" lengthAdjust="spacingAndGlyphs">80.000</text><text x="1191.30" y="883.4" font-size="12.6px" textLength="36.71" lengthAdjust="spacingAndGlyphs">50.000</text><text x="1561.40" y="909.8" font-size="12.6px" textLength="36.71" lengthAdjust="spacingAndGlyphs">20.000</text></g>
<g shape-rendering="crispEdges">
<rect x="0" y="839" width="1916" height="1" fill="#c0c0c0"/>
<rect x="0" y="932" width="1916" height="1" fill="#c0c0c0"/>
<rect x="1853" y="0" width="1" height="948" fill="#c0c0c0"/>
<rect x="1838" y="932" width="1" height="15" fill="#c0c0c0"/>
<rect x="1853" y="928" width="4" height="1" fill="#c0c0c0"/>
<rect x="106" y="932" width="1" height="15" fill="#c0c0c0"/>
<rect x="168" y="932" width="1" height="15" fill="#c0c0c0"/>
<rect x="228" y="932" width="1" height="15" fill="#c0c0c0"/>
<rect x="287" y="932" width="1" height="15" fill="#c0c0c0"/>
<rect x="347" y="932" width="1" height="15" fill="#c0c0c0"/>
<rect x="411" y="932" width="1" height="15" fill="#c0c0c0"/>
<rect x="471" y="932" width="1" height="15" fill="#c0c0c0"/>
<rect x="532" y="932" width="1" height="15" fill="#c0c0c0"/>
<rect x="594" y="932" width="1" height="15" fill="#c0c0c0"/>
<rect x="655" y="932" width="1" height="15" fill="#c0c0c0"/>
<rect x="715" y="932" width="1" height="15" fill="#c0c0c0"/>
<rect x="777" y="932" width="1" height="15" fill="#c0c0c0"/>
<rect x="839" y="932" width="1" height="15" fill="#c0c0c0"/>
<rect x="900" y="932" width="1" height="15" fill="#c0c0c0"/>
<rect x="962" y="932" width="1" height="15" fill="#c0c0c0"/>
<rect x="1022" y="932" width="1" height="15" fill="#c0c0c0"/>
<rect x="1083" y="932" width="1" height="15" fill="#c0c0c0"/>
<rect x="1143" y="932" width="1" height="15" fill="#c0c0c0"/>
<rect x="1207" y="932" width="1" height="15" fill="#c0c0c0"/>
<rect x="1267" y="932" width="1" height="15" fill="#c0c0c0"/>
<rect x="1329" y="932" width="1" height="15" fill="#c0c0c0"/>
<rect x="1390" y="932" width="1" height="15" fill="#c0c0c0"/>
<rect x="1451" y="932" width="1" height="15" fill="#c0c0c0"/>
<rect x="1511" y="932" width="1" height="15" fill="#c0c0c0"/>
<rect x="1573" y="932" width="1" height="15" fill="#c0c0c0"/>
<rect x="1635" y="932" width="1" height="15" fill="#c0c0c0"/>
<rect x="1697" y="932" width="1" height="15" fill="#c0c0c0"/>
<rect x="1756" y="932" width="1" height="15" fill="#c0c0c0"/>
<rect x="1820" y="932" width="1" height="15" fill="#c0c0c0"/>
<rect x="0" y="0" width="1916" height="1" fill="#000"/>
<rect x="0" y="947" width="1916" height="1" fill="#000"/>
<rect x="0" y="0" width="1" height="948" fill="#000"/>
<rect x="1915" y="0" width="1" height="948" fill="#000"/>
</g>
<g fill="#000">
<text x="1859.50" y="24.2" font-size="12.6px" textLength="43.93" lengthAdjust="spacingAndGlyphs">5750.00</text>
<text x="1859.50" y="60.2" font-size="12.6px" textLength="43.93" lengthAdjust="spacingAndGlyphs">5500.00</text>
<text x="1859.50" y="96.2" font-size="12.6px" textLength="43.93" lengthAdjust="spacingAndGlyphs">5250.00</text>
<text x="1859.50" y="131.2" font-size="12.6px" textLength="43.93" lengthAdjust="spacingAndGlyphs">5000.00</text>
<text x="1859.50" y="167.2" font-size="12.6px" textLength="43.93" lengthAdjust="spacingAndGlyphs">4750.00</text>
<text x="1859.50" y="203.2" font-size="12.6px" textLength="43.93" lengthAdjust="spacingAndGlyphs">4500.00</text>
<text x="1859.50" y="238.2" font-size="12.6px" textLength="43.93" lengthAdjust="spacingAndGlyphs">4250.00</text>
<text x="1859.50" y="274.2" font-size="12.6px" textLength="43.93" lengthAdjust="spacingAndGlyphs">4000.00</text>
<text x="1859.50" y="310.2" font-size="12.6px" textLength="43.93" lengthAdjust="spacingAndGlyphs">3750.00</text>
<text x="1859.50" y="345.2" font-size="12.6px" textLength="43.93" lengthAdjust="spacingAndGlyphs">3500.00</text>
<text x="1859.50" y="381.2" font-size="12.6px" textLength="43.93" lengthAdjust="spacingAndGlyphs">3250.00</text>
<text x="1859.50" y="417.2" font-size="12.6px" textLength="43.93" lengthAdjust="spacingAndGlyphs">3000.00</text>
<text x="1859.50" y="452.2" font-size="12.6px" textLength="43.93" lengthAdjust="spacingAndGlyphs">2750.00</text>
<text x="1859.50" y="488.2" font-size="12.6px" textLength="43.93" lengthAdjust="spacingAndGlyphs">2500.00</text>
<text x="1859.50" y="524.2" font-size="12.6px" textLength="43.93" lengthAdjust="spacingAndGlyphs">2250.00</text>
<text x="1859.50" y="559.2" font-size="12.6px" textLength="43.93" lengthAdjust="spacingAndGlyphs">2000.00</text>
<text x="1859.50" y="595.2" font-size="12.6px" textLength="43.93" lengthAdjust="spacingAndGlyphs">1750.00</text>
<text x="1859.50" y="631.2" font-size="12.6px" textLength="43.93" lengthAdjust="spacingAndGlyphs">1500.00</text>
<text x="1859.50" y="666.2" font-size="12.6px" textLength="43.93" lengthAdjust="spacingAndGlyphs">1250.00</text>
<text x="1859.50" y="702.2" font-size="12.6px" textLength="43.93" lengthAdjust="spacingAndGlyphs">1000.00</text>
<text x="1859.50" y="738.2" font-size="12.6px" textLength="37.17" lengthAdjust="spacingAndGlyphs">750.00</text>
<text x="1859.50" y="773.2" font-size="12.6px" textLength="37.17" lengthAdjust="spacingAndGlyphs">500.00</text>
<text x="1859.50" y="809.2" font-size="12.6px" textLength="37.17" lengthAdjust="spacingAndGlyphs">250.00</text>
<text x="1859.50" y="869.2" font-size="12.6px" textLength="30.41" lengthAdjust="spacingAndGlyphs">75.00</text>
<text x="1859.50" y="911.2" font-size="12.6px" textLength="37.17" lengthAdjust="spacingAndGlyphs">25.000</text>
</g>
<g fill="#000">
<text x="92.35" y="944.6" font-size="12.6px" textLength="13.35" lengthAdjust="spacingAndGlyphs">10</text>
<text x="107.90" y="944.6" font-size="12.6px" textLength="13.35" lengthAdjust="spacingAndGlyphs">19</text>
<text x="154.45" y="944.6" font-size="12.6px" textLength="13.35" lengthAdjust="spacingAndGlyphs">12</text>
<text x="170.00" y="944.6" font-size="12.6px" textLength="13.35" lengthAdjust="spacingAndGlyphs">19</text>
<text x="214.55" y="944.6" font-size="12.6px" textLength="13.35" lengthAdjust="spacingAndGlyphs">02</text>
<text x="230.10" y="944.6" font-size="12.6px" textLength="13.35" lengthAdjust="spacingAndGlyphs">20</text>
<text x="273.65" y="944.6" font-size="12.6px" textLength="13.35" lengthAdjust="spacingAndGlyphs">04</text>
<text x="289.20" y="944.6" font-size="12.6px" textLength="13.35" lengthAdjust="spacingAndGlyphs">20</text>
<text x="333.35" y="944.6" font-size="12.6px" textLength="13.35" lengthAdjust="spacingAndGlyphs">06</text>
<text x="348.90" y="944.6" font-size="12.6px" textLength="13.35" lengthAdjust="spacingAndGlyphs">20</text>
<text x="397.15" y="944.6" font-size="12.6px" textLength="13.35" lengthAdjust="spacingAndGlyphs">08</text>
<text x="412.70" y="944.6" font-size="12.6px" textLength="13.35" lengthAdjust="spacingAndGlyphs">20</text>
<text x="457.65" y="944.6" font-size="12.6px" textLength="13.35" lengthAdjust="spacingAndGlyphs">10</text>
<text x="473.20" y="944.6" font-size="12.6px" textLength="13.35" lengthAdjust="spacingAndGlyphs">20</text>
<text x="518.75" y="944.6" font-size="12.6px" textLength="13.35" lengthAdjust="spacingAndGlyphs">12</text>
<text x="534.30" y="944.6" font-size="12.6px" textLength="13.35" lengthAdjust="spacingAndGlyphs">20</text>
<text x="580.45" y="944.6" font-size="12.6px" textLength="13.35" lengthAdjust="spacingAndGlyphs">02</text>
<text x="596.00" y="944.6" font-size="12.6px" textLength="13.35" lengthAdjust="spacingAndGlyphs">21</text>
<text x="641.25" y="944.6" font-size="12.6px" textLength="13.35" lengthAdjust="spacingAndGlyphs">04</text>
<text x="656.80" y="944.6" font-size="12.6px" textLength="13.35" lengthAdjust="spacingAndGlyphs">21</text>
<text x="701.35" y="944.6" font-size="12.6px" textLength="13.35" lengthAdjust="spacingAndGlyphs">06</text>
<text x="716.90" y="944.6" font-size="12.6px" textLength="13.35" lengthAdjust="spacingAndGlyphs">21</text>
<text x="763.45" y="944.6" font-size="12.6px" textLength="13.35" lengthAdjust="spacingAndGlyphs">08</text>
<text x="779.00" y="944.6" font-size="12.6px" textLength="13.35" lengthAdjust="spacingAndGlyphs">21</text>
<text x="825.25" y="944.6" font-size="12.6px" textLength="13.35" lengthAdjust="spacingAndGlyphs">10</text>
<text x="840.80" y="944.6" font-size="12.6px" textLength="13.35" lengthAdjust="spacingAndGlyphs">21</text>
<text x="886.35" y="944.6" font-size="12.6px" textLength="13.35" lengthAdjust="spacingAndGlyphs">12</text>
<text x="901.90" y="944.6" font-size="12.6px" textLength="13.35" lengthAdjust="spacingAndGlyphs">21</text>
<text x="948.45" y="944.6" font-size="12.6px" textLength="13.35" lengthAdjust="spacingAndGlyphs">02</text>
<text x="964.00" y="944.6" font-size="12.6px" textLength="13.35" lengthAdjust="spacingAndGlyphs">22</text>
<text x="1008.55" y="944.6" font-size="12.6px" textLength="13.35" lengthAdjust="spacingAndGlyphs">04</text>
<text x="1024.10" y="944.6" font-size="12.6px" textLength="13.35" lengthAdjust="spacingAndGlyphs">22</text>
<text x="1069.25" y="944.6" font-size="12.6px" textLength="13.35" lengthAdjust="spacingAndGlyphs">06</text>
<text x="1084.80" y="944.6" font-size="12.6px" textLength="13.35" lengthAdjust="spacingAndGlyphs">22</text>
<text x="1129.35" y="944.6" font-size="12.6px" textLength="13.35" lengthAdjust="spacingAndGlyphs">08</text>
<text x="1144.90" y="944.6" font-size="12.6px" textLength="13.35" lengthAdjust="spacingAndGlyphs">22</text>
<text x="1193.45" y="944.6" font-size="12.6px" textLength="13.35" lengthAdjust="spacingAndGlyphs">10</text>
<text x="1209.00" y="944.6" font-size="12.6px" textLength="13.35" lengthAdjust="spacingAndGlyphs">22</text>
<text x="1253.55" y="944.6" font-size="12.6px" textLength="13.35" lengthAdjust="spacingAndGlyphs">12</text>
<text x="1269.10" y="944.6" font-size="12.6px" textLength="13.35" lengthAdjust="spacingAndGlyphs">22</text>
<text x="1315.65" y="944.6" font-size="12.6px" textLength="13.35" lengthAdjust="spacingAndGlyphs">02</text>
<text x="1331.20" y="944.6" font-size="12.6px" textLength="13.35" lengthAdjust="spacingAndGlyphs">23</text>
<text x="1376.45" y="944.6" font-size="12.6px" textLength="13.35" lengthAdjust="spacingAndGlyphs">04</text>
<text x="1392.00" y="944.6" font-size="12.6px" textLength="13.35" lengthAdjust="spacingAndGlyphs">23</text>
<text x="1437.25" y="944.6" font-size="12.6px" textLength="13.35" lengthAdjust="spacingAndGlyphs">06</text>
<text x="1452.80" y="944.6" font-size="12.6px" textLength="13.35" lengthAdjust="spacingAndGlyphs">23</text>
<text x="1497.65" y="944.6" font-size="12.6px" textLength="13.35" lengthAdjust="spacingAndGlyphs">08</text>
<text x="1513.20" y="944.6" font-size="12.6px" textLength="13.35" lengthAdjust="spacingAndGlyphs">23</text>
<text x="1559.45" y="944.6" font-size="12.6px" textLength="13.35" lengthAdjust="spacingAndGlyphs">10</text>
<text x="1575.00" y="944.6" font-size="12.6px" textLength="13.35" lengthAdjust="spacingAndGlyphs">23</text>
<text x="1621.25" y="944.6" font-size="12.6px" textLength="13.35" lengthAdjust="spacingAndGlyphs">12</text>
<text x="1636.80" y="944.6" font-size="12.6px" textLength="13.35" lengthAdjust="spacingAndGlyphs">23</text>
<text x="1683.35" y="944.6" font-size="12.6px" textLength="13.35" lengthAdjust="spacingAndGlyphs">02</text>
<text x="1698.90" y="944.6" font-size="12.6px" textLength="13.35" lengthAdjust="spacingAndGlyphs">24</text>
<text x="1742.45" y="944.6" font-size="12.6px" textLength="13.35" lengthAdjust="spacingAndGlyphs">04</text>
<text x="1758.00" y="944.6" font-size="12.6px" textLength="13.35" lengthAdjust="spacingAndGlyphs">24</text>
<text x="1806.55" y="944.6" font-size="12.6px" textLength="13.35" lengthAdjust="spacingAndGlyphs">06</text>
<text x="1822.10" y="944.6" font-size="12.6px" textLength="13.35" lengthAdjust="spacingAndGlyphs">24</text>
<text x="1843.50" y="944.6" font-size="12.6px" textLength="4.00" lengthAdjust="spacingAndGlyphs">-</text>
<text x="1859.50" y="944.6" font-size="12.6px" textLength="47.31" lengthAdjust="spacingAndGlyphs">26.03.24</text>
</g>
<rect x="1854" y="1" width="61" height="16" fill="#fff"/>
<text x="1856.50" y="14.2" font-size="12.6px" textLength="54.69" lengthAdjust="spacingAndGlyphs">(c)Tai-Pan</text>
<g shape-rendering="crispEdges"><rect x="1906.5" y="17.5" width="8" height="8" fill="#fff" stroke="#c0c0c0"/><rect x="1908" y="21" width="5" height="1" fill="#a0a0a0"/></g>
<g shape-rendering="crispEdges"><rect x="1854" y="313" width="61" height="14" fill="#0000ff"/><rect x="1853" y="320" width="3" height="1" fill="#fff"/></g>
<text x="1859.50" y="325.2" font-size="12.6px" textLength="43.93" lengthAdjust="spacingAndGlyphs" fill="#fff">3639.30</text>
<g shape-rendering="crispEdges"><rect x="1854" y="880" width="61" height="14" fill="#000"/><rect x="1854" y="896" width="61" height="14" fill="#ff0000"/><rect x="1854" y="887" width="3" height="1" fill="#fff"/><rect x="1854" y="903" width="3" height="1" fill="#fff"/></g>
<text x="1859.50" y="892.2" font-size="12.6px" textLength="37.17" lengthAdjust="spacingAndGlyphs" fill="#fff">44.450</text>
<text x="1859.50" y="908.2" font-size="12.6px" textLength="37.17" lengthAdjust="spacingAndGlyphs" fill="#fff">32.249</text>
<rect x="90" y="3" width="154" height="16" fill="#fff"/><rect x="564" y="3" width="1106" height="16" fill="#fff"/>
<text x="91" y="17" font-weight="bold" font-size="14.3px" textLength="151.5" lengthAdjust="spacingAndGlyphs">ETHEREUM (ETH) USD</text>
<text x="565" y="15" font-family="'Liberation Serif', serif" font-size="13.5px" textLength="1103" lengthAdjust="spacingAndGlyphs" stroke="#000" stroke-width="0.15" xml:space="preserve">Haftungsausschluss für Inhalte: Alle Trendkanäle bzw. andere Linien, oder Grafiken hier sind keine Empfehlungen, oder Beratung, sondern die zeigen lediglich meine eigene Einschätzung. Alle Chartdaten sind ohne Gewähr.  www.wikifolio.com/de/de/p/cyberwaehrungen</text>
<g shape-rendering="crispEdges"><rect x="5.5" y="844.5" width="47" height="14" fill="#fff" stroke="#000"/><rect x="55.5" y="845.5" width="12" height="12" fill="#fff" stroke="#000"/><rect x="57" y="850" width="9" height="2" fill="#000"/><rect x="60.5" y="846.5" width="2" height="9" fill="#000"/>
<rect x="6" y="861" width="23" height="13" fill="#fff"/><rect x="6" y="875" width="23" height="14" fill="#fff"/></g>
<text x="8.00" y="856.2" font-size="12.6px" textLength="42.70" lengthAdjust="spacingAndGlyphs">Sto(9/5)</text>
<text x="8.00" y="871.2" font-size="12.6px" textLength="18.68" lengthAdjust="spacingAndGlyphs">%K</text>
<text x="8.00" y="886.2" font-size="12.6px" textLength="19.34" lengthAdjust="spacingAndGlyphs" fill="#ff0000">%D</text>
</svg>
</body></html>
